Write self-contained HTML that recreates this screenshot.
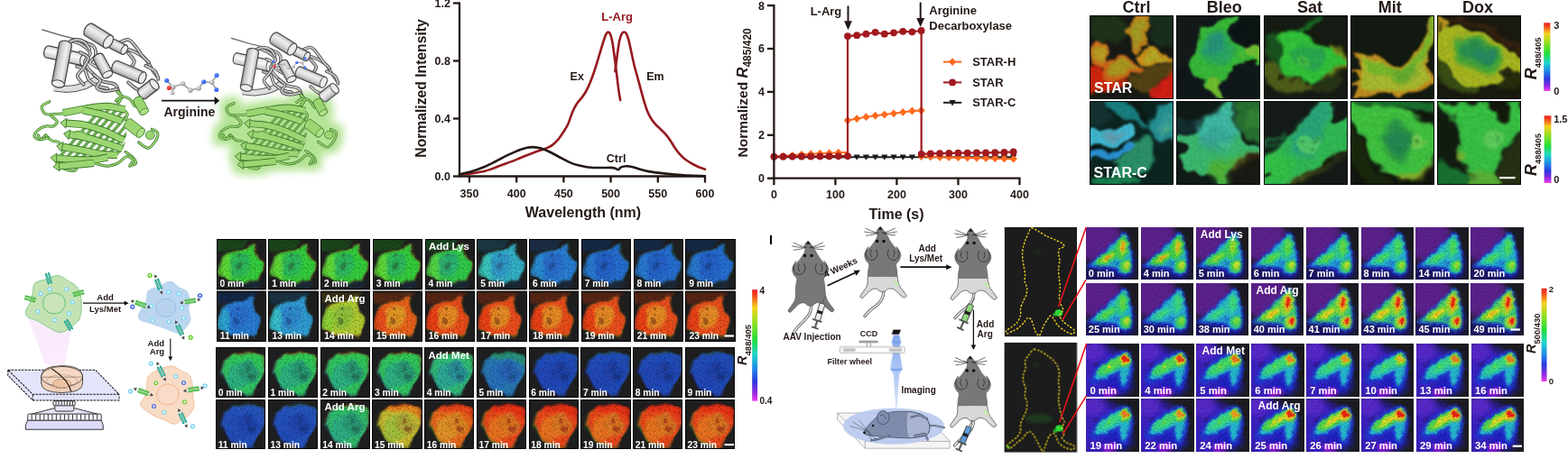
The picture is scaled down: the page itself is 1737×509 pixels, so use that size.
<!DOCTYPE html>
<html lang="en"><head><meta charset="utf-8"><title>STAR arginine sensor figure</title>
<style>
html,body{margin:0;padding:0;background:#fff;overflow:hidden}
svg{display:block}
body>svg{filter:blur(0.4px)}
text{font-family:"Liberation Sans",sans-serif;font-weight:bold}
</style></head><body>
<svg width="1737" height="509" viewBox="0 0 1737 509">
<defs>
<linearGradient id="gcyl" x1="0" y1="0" x2="0" y2="1"><stop offset="0" stop-color="#bcbcbc"/><stop offset="0.35" stop-color="#f0f0f0"/><stop offset="0.7" stop-color="#d2d2d2"/><stop offset="1" stop-color="#9c9c9c"/></linearGradient>
<linearGradient id="gcyl2" x1="0" y1="0" x2="0" y2="1"><stop offset="0" stop-color="#d8d8d8"/><stop offset="0.4" stop-color="#fafafa"/><stop offset="1" stop-color="#c4c4c4"/></linearGradient>
<radialGradient id="ag" cx="0.35" cy="0.3" r="0.8"><stop offset="0" stop-color="#e8e8e8"/><stop offset="1" stop-color="#8a8a8a"/></radialGradient>
<radialGradient id="ab" cx="0.35" cy="0.3" r="0.8"><stop offset="0" stop-color="#6a9aff"/><stop offset="1" stop-color="#1a4ae8"/></radialGradient>
<radialGradient id="ar" cx="0.35" cy="0.3" r="0.8"><stop offset="0" stop-color="#ff6a5a"/><stop offset="1" stop-color="#d80a0a"/></radialGradient>
<filter id="glow2" x="-20%" y="-25%" width="140%" height="150%"><feMorphology operator="dilate" radius="6" in="SourceAlpha" result="d"/><feGaussianBlur in="d" stdDeviation="4.5" result="b"/><feFlood flood-color="#b4e394" result="c"/><feComposite in="c" in2="b" operator="in"/></filter>
<g id="protG"><g transform="translate(20 10) scale(0.37)">
<path d="M72 62 L132 80 L205 97" fill="none" stroke="#5c5c5c" stroke-width="3.4" stroke-linecap="round"/>
<g transform="translate(88 128) rotate(12.53)"><rect x="-10.08" y="-18" width="130.79" height="36" rx="10.08" ry="18" fill="url(#gcyl2)" stroke="#4a4a4a" stroke-width="3.6"/><ellipse cx="110.63" cy="0" rx="10.08" ry="18" fill="#ececec" stroke="#4a4a4a" stroke-width="2.88"/></g>
<path d="M108 236 C115 236.67 134.67 241 150 240 C165.33 239 186.33 234.67 200 230 C213.67 225.33 226.67 215 232 212" fill="none" stroke="#5c5c5c" stroke-width="22" stroke-linecap="butt" stroke-linejoin="round"/><path d="M108 236 C115 236.67 134.67 241 150 240 C165.33 239 186.33 234.67 200 230 C213.67 225.33 226.67 215 232 212" fill="none" stroke="#dedede" stroke-width="16" stroke-linecap="butt" stroke-linejoin="round"/>
<path d="M160 95 C165.33 97.17 182.67 101.83 192 108 C201.33 114.17 214.67 123.33 216 132 C217.33 140.67 199 150 200 160 C201 170 213.33 182.67 222 192 C230.67 201.33 240.67 210.33 252 216 C263.33 221.67 281.67 220.33 290 226 C298.33 231.67 300 246 302 250" fill="none" stroke="#4a4a4a" stroke-width="10.5" stroke-linecap="round" stroke-linejoin="round"/><path d="M160 95 C165.33 97.17 182.67 101.83 192 108 C201.33 114.17 214.67 123.33 216 132 C217.33 140.67 199 150 200 160 C201 170 213.33 182.67 222 192 C230.67 201.33 240.67 210.33 252 216 C263.33 221.67 281.67 220.33 290 226 C298.33 231.67 300 246 302 250" fill="none" stroke="#c6c6c6" stroke-width="5.5" stroke-linecap="round" stroke-linejoin="round"/>
<path d="M176 172 C180 173.67 194 175.33 200 182 C206 188.67 205 203.67 212 212 C219 220.33 232.67 227.67 242 232 C251.33 236.33 263.67 237 268 238" fill="none" stroke="#4a4a4a" stroke-width="10.5" stroke-linecap="round" stroke-linejoin="round"/><path d="M176 172 C180 173.67 194 175.33 200 182 C206 188.67 205 203.67 212 212 C219 220.33 232.67 227.67 242 232 C251.33 236.33 263.67 237 268 238" fill="none" stroke="#c6c6c6" stroke-width="5.5" stroke-linecap="round" stroke-linejoin="round"/>
<path d="M320 118 C325.33 120 341.67 124.67 352 130 C362.33 135.33 373.67 141.33 382 150 C390.33 158.67 396 173 402 182 C408 191 415.33 200.33 418 204" fill="none" stroke="#4a4a4a" stroke-width="10.5" stroke-linecap="round" stroke-linejoin="round"/><path d="M320 118 C325.33 120 341.67 124.67 352 130 C362.33 135.33 373.67 141.33 382 150 C390.33 158.67 396 173 402 182 C408 191 415.33 200.33 418 204" fill="none" stroke="#c6c6c6" stroke-width="5.5" stroke-linecap="round" stroke-linejoin="round"/>
<path d="M300 102 C305 100.33 321.33 90.33 330 92 C338.67 93.67 345 104 352 112 C359 120 365.33 132 372 140 C378.67 148 388.67 156.67 392 160" fill="none" stroke="#4a4a4a" stroke-width="10.5" stroke-linecap="round" stroke-linejoin="round"/><path d="M300 102 C305 100.33 321.33 90.33 330 92 C338.67 93.67 345 104 352 112 C359 120 365.33 132 372 140 C378.67 148 388.67 156.67 392 160" fill="none" stroke="#c6c6c6" stroke-width="5.5" stroke-linecap="round" stroke-linejoin="round"/>
<path d="M196 100 C201 102 220 105.33 226 112 C232 118.67 233.67 132 232 140 C230.33 148 214.67 154 216 160 C217.33 166 236 173.33 240 176" fill="none" stroke="#4a4a4a" stroke-width="10.5" stroke-linecap="round" stroke-linejoin="round"/><path d="M196 100 C201 102 220 105.33 226 112 C232 118.67 233.67 132 232 140 C230.33 148 214.67 154 216 160 C217.33 166 236 173.33 240 176" fill="none" stroke="#c6c6c6" stroke-width="5.5" stroke-linecap="round" stroke-linejoin="round"/>
<path d="M330 220 C333.67 223 345 233.67 352 238 C359 242.33 368.67 244.67 372 246" fill="none" stroke="#4a4a4a" stroke-width="10.5" stroke-linecap="round" stroke-linejoin="round"/><path d="M330 220 C333.67 223 345 233.67 352 238 C359 242.33 368.67 244.67 372 246" fill="none" stroke="#c6c6c6" stroke-width="5.5" stroke-linecap="round" stroke-linejoin="round"/>
<path d="M150 100 C154.33 98.67 167.67 92 176 92 C184.33 92 193.67 95.33 200 100 C206.33 104.67 211.67 116.67 214 120" fill="none" stroke="#4a4a4a" stroke-width="10.5" stroke-linecap="round" stroke-linejoin="round"/><path d="M150 100 C154.33 98.67 167.67 92 176 92 C184.33 92 193.67 95.33 200 100 C206.33 104.67 211.67 116.67 214 120" fill="none" stroke="#c6c6c6" stroke-width="5.5" stroke-linecap="round" stroke-linejoin="round"/>
<path d="M226 196 C229.33 199 244.33 207.33 246 214 C247.67 220.67 233.33 230.67 236 236 C238.67 241.33 252 245.33 262 246 C272 246.67 290.33 241 296 240" fill="none" stroke="#4a4a4a" stroke-width="10.5" stroke-linecap="round" stroke-linejoin="round"/><path d="M226 196 C229.33 199 244.33 207.33 246 214 C247.67 220.67 233.33 230.67 236 236 C238.67 241.33 252 245.33 262 246 C272 246.67 290.33 241 296 240" fill="none" stroke="#c6c6c6" stroke-width="5.5" stroke-linecap="round" stroke-linejoin="round"/>
<path d="M186 130 C190 132.67 208.33 138.33 210 146 C211.67 153.67 201.33 167 196 176 C190.67 185 178 191.67 178 200 C178 208.33 193 221.67 196 226" fill="none" stroke="#4a4a4a" stroke-width="10.5" stroke-linecap="round" stroke-linejoin="round"/><path d="M186 130 C190 132.67 208.33 138.33 210 146 C211.67 153.67 201.33 167 196 176 C190.67 185 178 191.67 178 200 C178 208.33 193 221.67 196 226" fill="none" stroke="#c6c6c6" stroke-width="5.5" stroke-linecap="round" stroke-linejoin="round"/>
<path d="M330 132 C333 136 346.67 148.67 348 156 C349.33 163.33 339.67 172.67 338 176" fill="none" stroke="#4a4a4a" stroke-width="10.5" stroke-linecap="round" stroke-linejoin="round"/><path d="M330 132 C333 136 346.67 148.67 348 156 C349.33 163.33 339.67 172.67 338 176" fill="none" stroke="#c6c6c6" stroke-width="5.5" stroke-linecap="round" stroke-linejoin="round"/>
<path d="M382 170 C386.67 172.67 403.67 179.33 410 186 C416.33 192.67 418.33 206 420 210" fill="none" stroke="#4a4a4a" stroke-width="10.5" stroke-linecap="round" stroke-linejoin="round"/><path d="M382 170 C386.67 172.67 403.67 179.33 410 186 C416.33 192.67 418.33 206 420 210" fill="none" stroke="#c6c6c6" stroke-width="5.5" stroke-linecap="round" stroke-linejoin="round"/>
<path d="M298 248 C300 250.33 309.67 256.67 310 262 C310.33 267.33 301.67 277 300 280" fill="none" stroke="#3a772a" stroke-width="10.5" stroke-linecap="round" stroke-linejoin="round"/><path d="M298 248 C300 250.33 309.67 256.67 310 262 C310.33 267.33 301.67 277 300 280" fill="none" stroke="#9cd672" stroke-width="5.5" stroke-linecap="round" stroke-linejoin="round"/>
<g transform="translate(142 106) rotate(100.56)"><rect x="-10.64" y="-19" width="141.31" height="38" rx="10.64" ry="19" fill="url(#gcyl)" stroke="#4a4a4a" stroke-width="3.6"/><ellipse cx="120.03" cy="0" rx="10.64" ry="19" fill="#ececec" stroke="#4a4a4a" stroke-width="2.88"/></g>
<g transform="translate(240 144) rotate(61.7)"><rect x="-8.96" y="-16" width="76.98" height="32" rx="8.96" ry="16" fill="url(#gcyl)" stroke="#4a4a4a" stroke-width="3.6"/><ellipse cx="59.06" cy="0" rx="8.96" ry="16" fill="#ececec" stroke="#4a4a4a" stroke-width="2.88"/></g>
<g transform="translate(292 172) rotate(23.03)"><rect x="-10.08" y="-18" width="107.09" height="36" rx="10.08" ry="18" fill="url(#gcyl)" stroke="#4a4a4a" stroke-width="3.6"/><ellipse cx="86.93" cy="0" rx="10.08" ry="18" fill="#ececec" stroke="#4a4a4a" stroke-width="2.88"/></g>
<g transform="translate(282 104) rotate(26.57)"><rect x="-8.4" y="-15" width="57.05" height="30" rx="8.4" ry="15" fill="url(#gcyl)" stroke="#4a4a4a" stroke-width="3.6"/><ellipse cx="40.25" cy="0" rx="8.4" ry="15" fill="#ececec" stroke="#4a4a4a" stroke-width="2.88"/></g>
<g transform="translate(212 62) rotate(31.83)"><rect x="-11.76" y="-21" width="91.78" height="42" rx="11.76" ry="21" fill="url(#gcyl)" stroke="#4a4a4a" stroke-width="3.6"/><ellipse cx="68.26" cy="0" rx="11.76" ry="21" fill="#ececec" stroke="#4a4a4a" stroke-width="2.88"/></g>
<g transform="translate(372 254) rotate(-37.87)"><rect x="-10.08" y="-18" width="65.77" height="36" rx="10.08" ry="18" fill="url(#gcyl)" stroke="#4a4a4a" stroke-width="3.6"/><ellipse cx="45.61" cy="0" rx="10.08" ry="18" fill="#ececec" stroke="#4a4a4a" stroke-width="2.88"/></g>
</g></g>
<g id="protB"><g transform="translate(50 105) scale(0.18)">
<clipPath id="barrel"><path d="M120 120 C142.5 103.33 206.67 88.33 250 80 C293.33 71.67 341.67 67.5 380 70 C418.33 72.5 460 78.33 480 95 C500 111.67 496.67 142.5 500 170 C503.33 197.5 503.33 233.33 500 260 C496.67 286.67 490 310 480 330 C470 350 456.67 368.33 440 380 C423.33 391.67 403.33 393.33 380 400 C356.67 406.67 330 415 300 420 C270 425 233.33 430 200 430 C166.67 430 123.33 428.33 100 420 C76.67 411.67 61.67 396.67 60 380 C58.33 363.33 78.33 341.67 90 320 C101.67 298.33 125.83 273.33 130 250 C134.17 226.67 116.67 201.67 115 180 C113.33 158.33 97.5 136.67 120 120Z"/></clipPath>
<g clip-path="url(#barrel)">
<path d="M40 440 L370 60" stroke="#6eaa54" stroke-width="20" fill="none"/>
<path d="M88 440 L418 60" stroke="#6eaa54" stroke-width="20" fill="none"/>
<path d="M136 440 L466 60" stroke="#6eaa54" stroke-width="20" fill="none"/>
<path d="M184 440 L514 60" stroke="#6eaa54" stroke-width="20" fill="none"/>
<path d="M232 440 L562 60" stroke="#6eaa54" stroke-width="20" fill="none"/>
<path d="M280 440 L610 60" stroke="#6eaa54" stroke-width="20" fill="none"/>
<path d="M328 440 L658 60" stroke="#6eaa54" stroke-width="20" fill="none"/>
<path d="M376 440 L706 60" stroke="#6eaa54" stroke-width="20" fill="none"/>
<path d="M424 440 L754 60" stroke="#6eaa54" stroke-width="20" fill="none"/>
<path d="M472 440 L802 60" stroke="#6eaa54" stroke-width="20" fill="none"/>
<path d="M520 440 L850 60" stroke="#6eaa54" stroke-width="20" fill="none"/>
</g>
<path d="M26.93 42.66 C19.14 47.52 -15.89 59.2 -19.78 71.85 C-23.67 84.5 -13.94 110.78 3.57 118.56 C21.09 126.34 60.01 120.51 85.31 118.56 C110.62 116.61 143.7 108.83 155.38 106.88" fill="none" stroke="#3a772a" stroke-width="17" stroke-linecap="round" stroke-linejoin="round"/><path d="M26.93 42.66 C19.14 47.52 -15.89 59.2 -19.78 71.85 C-23.67 84.5 -13.94 110.78 3.57 118.56 C21.09 126.34 60.01 120.51 85.31 118.56 C110.62 116.61 143.7 108.83 155.38 106.88" fill="none" stroke="#9cd672" stroke-width="9" stroke-linecap="round" stroke-linejoin="round"/>
<path d="M36.27 130.24 C42.5 136.08 71.3 154.56 73.64 165.27 C75.97 175.97 61.96 189.6 50.28 194.46 C38.61 199.33 19.14 190.57 3.57 194.46 C-12 198.35 -31.46 207.11 -43.14 217.82 C-54.81 228.52 -68.44 248.96 -66.49 258.69 C-64.54 268.42 -43.14 277.76 -31.46 276.2 C-19.78 274.65 -2.27 253.82 3.57 249.35" fill="none" stroke="#3a772a" stroke-width="17" stroke-linecap="round" stroke-linejoin="round"/><path d="M36.27 130.24 C42.5 136.08 71.3 154.56 73.64 165.27 C75.97 175.97 61.96 189.6 50.28 194.46 C38.61 199.33 19.14 190.57 3.57 194.46 C-12 198.35 -31.46 207.11 -43.14 217.82 C-54.81 228.52 -68.44 248.96 -66.49 258.69 C-64.54 268.42 -43.14 277.76 -31.46 276.2 C-19.78 274.65 -2.27 253.82 3.57 249.35" fill="none" stroke="#9cd672" stroke-width="9" stroke-linecap="round" stroke-linejoin="round"/>
<path d="M3.57 249.35 C9.41 254.8 24.98 274.65 38.61 282.04 C52.23 289.44 74.61 285.93 85.31 293.72 C96.02 301.5 99.91 322.91 102.83 328.75" fill="none" stroke="#3a772a" stroke-width="17" stroke-linecap="round" stroke-linejoin="round"/><path d="M3.57 249.35 C9.41 254.8 24.98 274.65 38.61 282.04 C52.23 289.44 74.61 285.93 85.31 293.72 C96.02 301.5 99.91 322.91 102.83 328.75" fill="none" stroke="#9cd672" stroke-width="9" stroke-linecap="round" stroke-linejoin="round"/>
<path d="M-43.14 249.35 C-40.22 253.82 -35.35 273.67 -25.62 276.2 C-15.89 278.73 8.44 266.47 15.25 264.53" fill="none" stroke="#3a772a" stroke-width="17" stroke-linecap="round" stroke-linejoin="round"/><path d="M-43.14 249.35 C-40.22 253.82 -35.35 273.67 -25.62 276.2 C-15.89 278.73 8.44 266.47 15.25 264.53" fill="none" stroke="#9cd672" stroke-width="9" stroke-linecap="round" stroke-linejoin="round"/>
<path d="M61.96 377.8 C63.91 385.19 63.91 408.94 73.64 422.17 C83.37 435.4 102.83 449.42 120.35 457.2 C137.86 464.99 166.67 470.83 178.73 468.88 C190.8 466.93 196.64 451.36 192.75 445.53 C188.85 439.69 161.61 435.79 155.38 433.85" fill="none" stroke="#3a772a" stroke-width="17" stroke-linecap="round" stroke-linejoin="round"/><path d="M61.96 377.8 C63.91 385.19 63.91 408.94 73.64 422.17 C83.37 435.4 102.83 449.42 120.35 457.2 C137.86 464.99 166.67 470.83 178.73 468.88 C190.8 466.93 196.64 451.36 192.75 445.53 C188.85 439.69 161.61 435.79 155.38 433.85" fill="none" stroke="#9cd672" stroke-width="9" stroke-linecap="round" stroke-linejoin="round"/>
<path d="M494.02 352.11 C501.81 357.95 530.03 375.46 540.73 387.14 C551.43 398.82 559.22 414.39 558.25 422.17 C557.27 429.96 538.78 431.9 534.89 433.85" fill="none" stroke="#3a772a" stroke-width="17" stroke-linecap="round" stroke-linejoin="round"/><path d="M494.02 352.11 C501.81 357.95 530.03 375.46 540.73 387.14 C551.43 398.82 559.22 414.39 558.25 422.17 C557.27 429.96 538.78 431.9 534.89 433.85" fill="none" stroke="#9cd672" stroke-width="9" stroke-linecap="round" stroke-linejoin="round"/>
<path d="M575.76 293.72 C585.49 299.56 616.63 330.7 634.15 328.75 C651.66 326.81 671.13 297.61 680.86 282.04 C690.59 266.47 696.43 247.01 692.54 235.33 C688.64 223.66 663.34 215.87 657.5 211.98" fill="none" stroke="#3a772a" stroke-width="17" stroke-linecap="round" stroke-linejoin="round"/><path d="M575.76 293.72 C585.49 299.56 616.63 330.7 634.15 328.75 C651.66 326.81 671.13 297.61 680.86 282.04 C690.59 266.47 696.43 247.01 692.54 235.33 C688.64 223.66 663.34 215.87 657.5 211.98" fill="none" stroke="#9cd672" stroke-width="9" stroke-linecap="round" stroke-linejoin="round"/>
<path d="M435.63 36.82 C441.47 32.93 457.04 15.41 470.67 13.46 C484.29 11.52 503.75 15.41 517.38 25.14 C531 34.87 546.57 64.07 552.41 71.85" fill="none" stroke="#3a772a" stroke-width="17" stroke-linecap="round" stroke-linejoin="round"/><path d="M435.63 36.82 C441.47 32.93 457.04 15.41 470.67 13.46 C484.29 11.52 503.75 15.41 517.38 25.14 C531 34.87 546.57 64.07 552.41 71.85" fill="none" stroke="#9cd672" stroke-width="9" stroke-linecap="round" stroke-linejoin="round"/>
<path d="M470.67 83.53 C476.5 89.37 501.81 106.88 505.7 118.56 C509.59 130.24 495.97 147.75 494.02 153.59" fill="none" stroke="#3a772a" stroke-width="17" stroke-linecap="round" stroke-linejoin="round"/><path d="M470.67 83.53 C476.5 89.37 501.81 106.88 505.7 118.56 C509.59 130.24 495.97 147.75 494.02 153.59" fill="none" stroke="#9cd672" stroke-width="9" stroke-linecap="round" stroke-linejoin="round"/>
<path d="M300 420 C313.33 423.33 355 440 380 440 C405 440 430 430 450 420 C470 410 485 383.33 500 380 C515 376.67 536.67 390 540 400 C543.33 410 523.33 433.33 520 440" fill="none" stroke="#3a772a" stroke-width="17" stroke-linecap="round" stroke-linejoin="round"/><path d="M300 420 C313.33 423.33 355 440 380 440 C405 440 430 430 450 420 C470 410 485 383.33 500 380 C515 376.67 536.67 390 540 400 C543.33 410 523.33 433.33 520 440" fill="none" stroke="#9cd672" stroke-width="9" stroke-linecap="round" stroke-linejoin="round"/>
<path d="M110 112 C133.33 107.67 205 92.67 250 86 C295 79.33 339.67 71 380 72 C420.33 73 473.33 88.67 492 92" fill="none" stroke="#3a772a" stroke-width="46" stroke-linecap="butt" stroke-linejoin="round"/><path d="M110 112 C133.33 107.67 205 92.67 250 86 C295 79.33 339.67 71 380 72 C420.33 73 473.33 88.67 492 92" fill="none" stroke="#9cd672" stroke-width="36" stroke-linecap="butt" stroke-linejoin="round"/>
<path d="M232 96 C251.67 100.33 310.33 111 350 122 C389.67 133 450 155.33 470 162" fill="none" stroke="#3a772a" stroke-width="46" stroke-linecap="butt" stroke-linejoin="round"/><path d="M232 96 C251.67 100.33 310.33 111 350 122 C389.67 133 450 155.33 470 162" fill="none" stroke="#9cd672" stroke-width="36" stroke-linecap="butt" stroke-linejoin="round"/>
<path d="M130 176 C150 178 210 179.5 250 188 C290 196.5 330.83 211.33 370 227 C409.17 242.67 465.83 272.83 485 282" fill="none" stroke="#3a772a" stroke-width="46" stroke-linecap="butt" stroke-linejoin="round"/><path d="M130 176 C150 178 210 179.5 250 188 C290 196.5 330.83 211.33 370 227 C409.17 242.67 465.83 272.83 485 282" fill="none" stroke="#9cd672" stroke-width="36" stroke-linecap="butt" stroke-linejoin="round"/><polygon points="94.18,172.42 133.04,145.55 126.96,206.45" fill="#9cd672" stroke="#3a772a" stroke-width="5" stroke-linejoin="round"/>
<path d="M150 246 C168.33 249.33 221.67 256.67 260 266 C298.33 275.33 344.17 290.83 380 302 C415.83 313.17 459.17 327.83 475 333" fill="none" stroke="#3a772a" stroke-width="46" stroke-linecap="butt" stroke-linejoin="round"/><path d="M150 246 C168.33 249.33 221.67 256.67 260 266 C298.33 275.33 344.17 290.83 380 302 C415.83 313.17 459.17 327.83 475 333" fill="none" stroke="#9cd672" stroke-width="36" stroke-linecap="butt" stroke-linejoin="round"/><polygon points="114.58,239.56 155.47,215.89 144.53,276.11" fill="#9cd672" stroke="#3a772a" stroke-width="5" stroke-linejoin="round"/>
<path d="M106 321 C125 324.33 181 333.5 220 341 C259 348.5 302.5 360.83 340 366 C377.5 371.17 427.5 371 445 372" fill="none" stroke="#3a772a" stroke-width="46" stroke-linecap="butt" stroke-linejoin="round"/><path d="M106 321 C125 324.33 181 333.5 220 341 C259 348.5 302.5 360.83 340 366 C377.5 371.17 427.5 371 445 372" fill="none" stroke="#9cd672" stroke-width="36" stroke-linecap="butt" stroke-linejoin="round"/><polygon points="70.54,314.78 111.29,290.86 100.71,351.14" fill="#9cd672" stroke="#3a772a" stroke-width="5" stroke-linejoin="round"/>
<path d="M70 391 C88.33 392.67 141.67 399.33 180 401 C218.33 402.67 265.83 403.5 300 401 C334.17 398.5 370.83 388.5 385 386" fill="none" stroke="#3a772a" stroke-width="46" stroke-linecap="butt" stroke-linejoin="round"/><path d="M70 391 C88.33 392.67 141.67 399.33 180 401 C218.33 402.67 265.83 403.5 300 401 C334.17 398.5 370.83 388.5 385 386" fill="none" stroke="#9cd672" stroke-width="36" stroke-linecap="butt" stroke-linejoin="round"/><polygon points="34.15,387.74 72.77,360.53 67.23,421.47" fill="#9cd672" stroke="#3a772a" stroke-width="5" stroke-linejoin="round"/>
<path d="M86 441 C105 439.33 164.33 434.33 200 431 C235.67 427.67 283.33 422.67 300 421" fill="none" stroke="#3a772a" stroke-width="46" stroke-linecap="butt" stroke-linejoin="round"/><path d="M86 441 C105 439.33 164.33 434.33 200 431 C235.67 427.67 283.33 422.67 300 421" fill="none" stroke="#9cd672" stroke-width="36" stroke-linecap="butt" stroke-linejoin="round"/><polygon points="50.14,444.15 83.33,410.52 88.67,471.48" fill="#9cd672" stroke="#3a772a" stroke-width="5" stroke-linejoin="round"/>
<ellipse cx="220" cy="245" rx="50" ry="22" fill="#9cd672" transform="rotate(15 220 245)"/><path d="M175 232 Q220 215 265 250" fill="none" stroke="#3a772a" stroke-width="4"/>
<g transform="translate(569.92 30.98) rotate(62.35)"><rect x="-16.24" y="-29" width="115.53" height="58" rx="16.24" ry="29" fill="#9cd672" stroke="#3a772a" stroke-width="4.5"/><ellipse cx="83.05" cy="0" rx="16.24" ry="29" fill="#b0e28a" stroke="#3a772a" stroke-width="3.6"/></g>
<g transform="translate(511.54 176.95) rotate(37.57)"><rect x="-18.48" y="-33" width="132.72" height="66" rx="18.48" ry="33" fill="#9cd672" stroke="#3a772a" stroke-width="4.5"/><ellipse cx="95.76" cy="0" rx="18.48" ry="33" fill="#b0e28a" stroke="#3a772a" stroke-width="3.6"/></g>
<ellipse cx="645.83" cy="249.35" rx="28" ry="26" fill="#9cd672"/><ellipse cx="645.83" cy="249.35" rx="28" ry="26" fill="none" stroke="#3a772a" stroke-width="4.5"/>
</g></g>
<filter id="b1" x="-50%" y="-50%" width="200%" height="200%"><feGaussianBlur stdDeviation="1"/></filter>
<filter id="b2" x="-50%" y="-50%" width="200%" height="200%"><feGaussianBlur stdDeviation="2"/></filter>
<filter id="b3" x="-50%" y="-50%" width="200%" height="200%"><feGaussianBlur stdDeviation="3"/></filter>
<filter id="b4" x="-50%" y="-50%" width="200%" height="200%"><feGaussianBlur stdDeviation="4"/></filter>
<filter id="b6" x="-50%" y="-50%" width="200%" height="200%"><feGaussianBlur stdDeviation="6"/></filter>
<filter id="b8" x="-50%" y="-50%" width="200%" height="200%"><feGaussianBlur stdDeviation="8"/></filter>
<filter id="b12" x="-50%" y="-50%" width="200%" height="200%"><feGaussianBlur stdDeviation="12"/></filter>
<filter id="b16" x="-50%" y="-50%" width="200%" height="200%"><feGaussianBlur stdDeviation="16"/></filter>
<filter id="b24" x="-50%" y="-50%" width="200%" height="200%"><feGaussianBlur stdDeviation="24"/></filter>
<filter id="grain" x="0" y="0" width="100%" height="100%"><feTurbulence type="fractalNoise" baseFrequency="0.55" numOctaves="2" seed="7"/><feColorMatrix type="matrix" values="0 0 0 0 0  0 0 0 0 0  0 0 0 0 0  0 2.6 0 0 -1.0"/></filter>
<filter id="grainc" x="0" y="0" width="100%" height="100%"><feTurbulence type="fractalNoise" baseFrequency="0.45" numOctaves="2" seed="11"/><feColorMatrix type="matrix" values="0 0 0 0 0  0 0 0 0 0.35  3 0 0 0 -0.9  0 0 2.4 0 -0.95"/></filter>
<filter id="grainf" x="0" y="0" width="100%" height="100%"><feTurbulence type="fractalNoise" baseFrequency="0.9" numOctaves="1" seed="5"/><feColorMatrix type="matrix" values="0 0 0 0 0  0 0 0 0 0  0 0 0 0 0  0 2.2 0 0 -0.85"/></filter>
<filter id="fxA" x="-15%" y="-15%" width="130%" height="130%" color-interpolation-filters="sRGB"><feTurbulence type="fractalNoise" baseFrequency="0.06" numOctaves="2" seed="3" result="t1"/><feDisplacementMap in="SourceGraphic" in2="t1" scale="14" xChannelSelector="R" yChannelSelector="G" result="d"/><feTurbulence type="fractalNoise" baseFrequency="0.6" numOctaves="2" seed="8" result="t2"/><feColorMatrix in="t2" type="matrix" values="0 0 0 0 0  0 0 0 0 0  0 0 0 0 0  0 0.9 0 0 -0.36" result="na"/><feComposite in="na" in2="d" operator="in" result="nb"/><feMerge result="m"><feMergeNode in="d"/><feMergeNode in="nb"/></feMerge><feGaussianBlur in="m" stdDeviation="0.8"/></filter>
<filter id="fxB" x="-15%" y="-15%" width="130%" height="130%" color-interpolation-filters="sRGB"><feTurbulence type="fractalNoise" baseFrequency="0.08" numOctaves="2" seed="3" result="t1"/><feDisplacementMap in="SourceGraphic" in2="t1" scale="7" xChannelSelector="R" yChannelSelector="G" result="d"/><feTurbulence type="fractalNoise" baseFrequency="0.6" numOctaves="2" seed="8" result="t2"/><feColorMatrix in="t2" type="matrix" values="0 0 0 0 0  0 0 0 0 0  0 0 0 0 0  0 0.8 0 0 -0.34" result="na"/><feComposite in="na" in2="d" operator="in" result="nb"/><feMerge result="m"><feMergeNode in="d"/><feMergeNode in="nb"/></feMerge><feGaussianBlur in="m" stdDeviation="0.7"/></filter>
<filter id="fxC" x="-15%" y="-15%" width="130%" height="130%" color-interpolation-filters="sRGB"><feTurbulence type="fractalNoise" baseFrequency="0.15" numOctaves="2" seed="3" result="t1"/><feDisplacementMap in="SourceGraphic" in2="t1" scale="5" xChannelSelector="R" yChannelSelector="G" result="d"/><feTurbulence type="fractalNoise" baseFrequency="0.7" numOctaves="2" seed="8" result="t2"/><feColorMatrix in="t2" type="matrix" values="0 0 0 0 0  0 0 0 0 0  0 0 0 0 0  0 0.7 0 0 -0.3" result="na"/><feComposite in="na" in2="d" operator="in" result="nb"/><feMerge result="m"><feMergeNode in="d"/><feMergeNode in="nb"/></feMerge><feGaussianBlur in="m" stdDeviation="0.6"/></filter>
<g id="lysA">
<g filter="url(#fxB)">
<g transform="scale(0.11788) translate(-16.97 -13.57)">
<g filter="url(#b12)">
<path d="M10 10 C58.33 -5 253 1.67 300 10 C347 18.33 300.33 45 292 60 C283.67 75 268.67 89.67 250 100 C231.33 110.33 205 116.67 180 122 C155 127.33 123.33 132 100 132 C76.67 132 55 127.33 40 122 C25 116.67 15 118.67 10 100 C5 81.33 -38.33 25 10 10Z" style="fill:var(--d)"/>
<path d="M250 430 C255 416.67 301.67 406.67 330 400 C358.33 393.33 401.67 385 420 390 C438.33 395 446.67 416.67 440 430 C433.33 443.33 403.33 461.67 380 470 C356.67 478.33 321.67 486.67 300 480 C278.33 473.33 245 443.33 250 430Z" fill="#1c3a5a" opacity="0.4"/>
</g>
<g filter="url(#b8)">
<path d="M67.08 329.41 C67.08 310.34 78 284.34 85.8 256.61 C93.6 228.87 102.96 182.07 113.88 163.01 C124.8 143.94 134.16 149.14 151.32 142.21 C168.48 135.27 196.56 128.34 216.84 121.41 C237.12 114.47 254.28 108.41 273 100.61 C291.72 92.81 311.22 82.93 329.16 74.61 C347.1 66.29 370.5 48.09 380.64 50.69 C390.78 53.29 386.1 74.95 390 90.21 C393.9 105.46 397.02 126.61 404.04 142.21 C411.06 157.81 422.76 169.94 432.12 183.81 C441.48 197.67 453.96 206.34 460.2 225.41 C466.44 244.47 472.68 277.41 469.56 298.21 C466.44 319.01 449.28 334.61 441.48 350.21 C433.68 365.81 432.12 384.53 422.76 391.81 C413.4 399.09 397.8 392.15 385.32 393.89 C372.84 395.62 360.36 397.01 347.88 402.21 C335.4 407.41 321.36 418.15 310.44 425.09 C299.52 432.02 294.84 447.27 282.36 443.81 C269.88 440.34 254.28 412.61 235.56 404.29 C216.84 395.97 188.76 397.35 170.04 393.89 C151.32 390.42 137.28 387.3 123.24 383.49 C109.2 379.67 95.16 380.02 85.8 371.01 C76.44 361.99 67.08 348.47 67.08 329.41Z" style="fill:var(--f)" opacity="0.8"/>
<path d="M71.5 330 C71.5 311.67 82 286.67 89.5 260 C97 233.33 106 188.33 116.5 170 C127 151.67 136 156.67 152.5 150 C169 143.33 196 136.67 215.5 130 C235 123.33 251.5 117.5 269.5 110 C287.5 102.5 306.25 93 323.5 85 C340.75 77 363.25 59.5 373 62 C382.75 64.5 378.25 85.33 382 100 C385.75 114.67 388.75 135 395.5 150 C402.25 165 413.5 176.67 422.5 190 C431.5 203.33 443.5 211.67 449.5 230 C455.5 248.33 461.5 280 458.5 300 C455.5 320 439 335 431.5 350 C424 365 422.5 383 413.5 390 C404.5 397 389.5 390.33 377.5 392 C365.5 393.67 353.5 395 341.5 400 C329.5 405 316 415.33 305.5 422 C295 428.67 290.5 443.33 278.5 440 C266.5 436.67 251.5 410 233.5 402 C215.5 394 188.5 395.33 170.5 392 C152.5 388.67 139 385.67 125.5 382 C112 378.33 98.5 378.67 89.5 370 C80.5 361.33 71.5 348.33 71.5 330Z" style="fill:var(--m)"/>
<path d="M40 335 C40 316.67 51.67 286.67 60 260 C68.33 233.33 76.67 191.67 90 175 C103.33 158.33 126.67 145.83 140 160 C153.33 174.17 166.67 223.33 170 260 C173.33 296.67 171.67 359.67 160 380 C148.33 400.33 116.67 383.67 100 382 C83.33 380.33 70 377.83 60 370 C50 362.17 40 353.33 40 335Z" style="fill:var(--l)" opacity="0.9"/>
</g>
<g filter="url(#b12)">
<ellipse cx="240" cy="255" rx="95" ry="110" style="fill:var(--n)" opacity="0.65" transform="rotate(10 240 255)"/>
</g>
<g filter="url(#b4)">
<ellipse cx="236" cy="272" rx="24" ry="36" style="fill:var(--k)" opacity="0.8" transform="rotate(8 236 272)"/>
<ellipse cx="235" cy="165" rx="16" ry="14" style="fill:var(--k)" opacity="0.7"/>
<ellipse cx="166" cy="240" rx="8" ry="8" style="fill:var(--k)" opacity="0.6"/>
<ellipse cx="242" cy="216" rx="8" ry="7" style="fill:var(--k)" opacity="0.6"/>
</g>
</g></g>

</g>
<g id="lysB">
<g filter="url(#fxB)">
<g transform="scale(0.11788) translate(-34 -8.5)">
<g filter="url(#b12)">
<path d="M36 10 C96.67 -3.33 340.17 3.33 400 10 C459.83 16.67 406.67 36.67 395 50 C383.33 63.33 359.17 78.33 330 90 C300.83 101.67 255 113.33 220 120 C185 126.67 146.67 130.83 120 130 C93.33 129.17 74 121.67 60 115 C46 108.33 40 107.5 36 90 C32 72.5 -24.67 23.33 36 10Z" style="fill:var(--d)"/>
</g>
<g filter="url(#b8)">
<path d="M61.69 343.98 C62.51 324.91 65.81 297.18 71.57 271.18 C77.33 245.18 88.86 208.78 96.27 187.98 C103.68 167.18 97.92 159.38 116.03 146.38 C134.14 133.38 173.66 121.24 204.95 109.98 C236.24 98.71 274.93 88.66 303.75 78.78 C332.57 68.9 363.03 46.36 377.85 50.7 C392.67 55.03 387.73 85.36 392.67 104.78 C397.61 124.19 400.9 141.18 407.49 167.18 C414.08 193.18 427.25 231.31 432.19 260.78 C437.13 290.24 440.42 318.84 437.13 343.98 C433.84 369.11 428.07 397.36 412.43 411.58 C396.79 425.79 367.97 427.52 343.27 429.26 C318.57 430.99 290.58 424.06 264.23 421.98 C237.88 419.9 211.54 420.24 185.19 416.78 C158.84 413.31 125.91 406.38 106.15 401.18 C86.39 395.98 74.04 395.11 66.63 385.58 C59.22 376.04 60.87 363.04 61.69 343.98Z" style="fill:var(--f)" opacity="0.7"/>
<path d="M72 338 C72.79 319.67 75.96 293 81.5 268 C87.04 243 98.12 208 105.25 188 C112.38 168 106.83 160.5 124.25 148 C141.67 135.5 179.67 123.83 209.75 113 C239.83 102.17 277.04 92.5 304.75 83 C332.46 73.5 361.75 51.83 376 56 C390.25 60.17 385.5 89.33 390.25 108 C395 126.67 398.17 143 404.5 168 C410.83 193 423.5 229.67 428.25 258 C433 286.33 436.17 313.83 433 338 C429.83 362.17 424.29 389.33 409.25 403 C394.21 416.67 366.5 418.33 342.75 420 C319 421.67 292.08 415 266.75 413 C241.42 411 216.08 411.33 190.75 408 C165.42 404.67 133.75 398 114.75 393 C95.75 388 83.88 387.17 76.75 378 C69.62 368.83 71.21 356.33 72 338Z" style="fill:var(--m)"/>
<path d="M55 335 C55.83 316.67 59.17 285 65 260 C70.83 235 77.5 201.67 90 185 C102.5 168.33 128.33 147.5 140 160 C151.67 172.5 158.33 223.33 160 260 C161.67 296.67 160 359.17 150 380 C140 400.83 115 386.67 100 385 C85 383.33 67.5 378.33 60 370 C52.5 361.67 54.17 353.33 55 335Z" style="fill:var(--l)" opacity="0.9"/>
</g>
<g filter="url(#b12)">
<ellipse cx="250" cy="250" rx="95" ry="110" style="fill:var(--n)" opacity="0.7" transform="rotate(10 250 250)"/>
</g>
<g filter="url(#b4)">
<ellipse cx="232" cy="280" rx="24" ry="36" style="fill:var(--k)" opacity="0.8" transform="rotate(8 232 280)"/>
<ellipse cx="235" cy="172" rx="16" ry="14" style="fill:var(--k)" opacity="0.7"/>
<ellipse cx="166" cy="240" rx="8" ry="8" style="fill:var(--k)" opacity="0.6"/>
<ellipse cx="238" cy="222" rx="8" ry="7" style="fill:var(--k)" opacity="0.6"/>
</g>
</g></g>

</g>
<g id="metA">
<g filter="url(#fxB)">
<g transform="scale(0.11788) translate(-11.03 -11.88)">
<g filter="url(#b8)">
<path d="M66.23 226.42 C67.86 205.26 83.32 185.73 90.65 167.83 C97.97 149.92 100.41 133.65 110.18 119 C119.94 104.35 132.96 90.52 149.24 79.94 C165.51 69.36 186.67 61.23 207.83 55.53 C228.98 49.83 253.4 45.76 276.18 45.76 C298.97 45.76 321.75 50.65 344.54 55.53 C367.32 60.41 393.36 68.55 412.89 75.06 C432.42 81.57 451.14 82.38 461.72 94.59 C472.3 106.8 474.74 129.58 476.36 148.3 C477.99 167.01 473.92 187.36 471.48 206.89 C469.04 226.42 466.6 249.2 461.72 265.48 C456.83 281.75 450.32 291.52 442.19 304.54 C434.05 317.56 422.66 328.95 412.89 343.6 C403.13 358.24 394.99 376.15 383.6 392.42 C372.2 408.7 357.56 429.04 344.54 441.25 C331.52 453.45 320.12 465.66 305.48 465.66 C290.83 465.66 272.93 450.2 256.65 441.25 C240.38 432.3 224.1 421.72 207.83 411.95 C191.55 402.19 173.65 394.05 159 382.66 C144.35 371.26 132.96 358.24 119.94 343.6 C106.92 328.95 89.83 314.3 80.88 294.77 C71.93 275.24 64.61 247.57 66.23 226.42Z" style="fill:var(--f)" opacity="0.8"/>
<path d="M63.38 240.75 C64.97 219.99 80.14 200.83 87.32 183.27 C94.51 165.71 96.9 149.75 106.48 135.38 C116.06 121.01 128.83 107.44 144.8 97.06 C160.76 86.68 181.52 78.7 202.27 73.11 C223.03 67.53 246.97 63.53 269.33 63.53 C291.68 63.53 314.03 68.32 336.38 73.11 C358.73 77.9 384.27 85.89 403.43 92.27 C422.59 98.66 440.95 99.46 451.33 111.43 C461.7 123.4 464.1 145.75 465.69 164.11 C467.29 182.47 463.3 202.43 460.91 221.59 C458.51 240.75 456.12 263.1 451.33 279.06 C446.54 295.03 440.15 304.61 432.17 317.38 C424.19 330.15 413.01 341.33 403.43 355.69 C393.85 370.06 385.87 387.62 374.69 403.59 C363.52 419.55 349.15 439.51 336.38 451.48 C323.61 463.46 312.43 475.43 298.06 475.43 C283.69 475.43 266.13 460.27 250.17 451.48 C234.2 442.7 218.24 432.33 202.27 422.75 C186.31 413.17 168.75 405.19 154.38 394.01 C140.01 382.83 128.83 370.06 116.06 355.69 C103.29 341.33 86.53 326.96 77.75 307.8 C68.96 288.64 61.78 261.5 63.38 240.75Z" style="fill:var(--d)" opacity="0.8"/>
<path d="M74.59 235.24 C76.14 215.09 90.87 196.49 97.84 179.44 C104.82 162.39 107.14 146.89 116.44 132.94 C125.74 118.99 138.14 105.82 153.64 95.74 C169.14 85.67 189.29 77.92 209.44 72.49 C229.59 67.07 252.84 63.19 274.54 63.19 C296.24 63.19 317.94 67.84 339.64 72.49 C361.34 77.14 386.14 84.89 404.74 91.09 C423.34 97.29 441.17 98.07 451.24 109.69 C461.32 121.32 463.64 143.02 465.19 160.84 C466.74 178.67 462.87 198.04 460.54 216.64 C458.22 235.24 455.89 256.94 451.24 272.44 C446.59 287.94 440.39 297.24 432.64 309.64 C424.89 322.04 414.04 332.89 404.74 346.84 C395.44 360.79 387.69 377.84 376.84 393.34 C365.99 408.84 352.04 428.22 339.64 439.84 C327.24 451.47 316.39 463.09 302.44 463.09 C288.49 463.09 271.44 448.37 255.94 439.84 C240.44 431.32 224.94 421.24 209.44 411.94 C193.94 402.64 176.89 394.89 162.94 384.04 C148.99 373.19 138.14 360.79 125.74 346.84 C113.34 332.89 97.07 318.94 88.54 300.34 C80.02 281.74 73.04 255.39 74.59 235.24Z" style="fill:var(--m)"/>
<path d="M120 110 C120 100 170 78 200 70 C230 62 263.33 59.5 300 62 C336.67 64.5 393 77 420 85 C447 93 454 95.83 462 110 C470 124.17 478.33 165 468 170 C457.67 175 428 148.33 400 140 C372 131.67 333.33 121.67 300 120 C266.67 118.33 230 131.67 200 130 C170 128.33 120 120 120 110Z" style="fill:var(--t)" opacity="0.9"/>
</g>
<g filter="url(#b12)">
<ellipse cx="230" cy="280" rx="110" ry="120" style="fill:var(--l)" opacity="0.75" transform="rotate(30 230 280)"/>
<ellipse cx="322" cy="242" rx="85" ry="100" style="fill:var(--n)" opacity="0.9" transform="rotate(-20 322 242)"/>
</g>
<g filter="url(#b4)">
<ellipse cx="312" cy="216" rx="24" ry="22" style="fill:var(--k)" opacity="0.7"/>
<ellipse cx="346" cy="282" rx="26" ry="26" style="fill:var(--k)" opacity="0.75"/>
<ellipse cx="240" cy="120" rx="7" ry="7" style="fill:var(--k)" opacity="0.5"/>
<ellipse cx="170" cy="165" rx="6" ry="6" style="fill:var(--k)" opacity="0.5"/>
</g>
</g></g>

</g>
<g id="mlys">
<g filter="url(#fxC)">
<g transform="scale(0.12579) translate(-18 -15)">
<g filter="url(#b24)">
<ellipse cx="100" cy="100" rx="220" ry="220" fill="#5e2090"/>
<ellipse cx="210" cy="440" rx="240" ry="90" fill="#1e1666"/>
<ellipse cx="300" cy="330" rx="150" ry="120" fill="#1c2090" opacity="0.9"/>
<ellipse cx="500" cy="200" rx="70" ry="260" fill="#1e1e22"/>
<ellipse cx="430" cy="20" rx="80" ry="50" fill="#1e1e26"/>
</g>
<g filter="url(#b12)">
<path d="M350 55 C362.83 62 384.67 87.5 397 120 C409.33 152.5 418.5 206.67 424 250 C429.5 293.33 435.33 349 430 380 C424.67 411 408.67 426.67 392 436 C375.33 445.33 348.67 442.83 330 436 C311.33 429.17 301.67 404.67 280 395 C258.33 385.33 230 380.83 200 378 C170 375.17 127.33 380 100 378 C72.67 376 37.67 379 36 366 C34.33 353 66 324.33 90 300 C114 275.67 150 247 180 220 C210 193 246.67 161.67 270 138 C293.33 114.33 306.67 91.83 320 78 C333.33 64.17 337.17 48 350 55Z" style="fill:var(--h)"/>
</g>
<g filter="url(#b8)">
<path d="M350 80 C360.5 85.33 375.33 101.67 385 130 C394.67 158.33 403.5 210 408 250 C412.5 290 415.83 342 412 370 C408.17 398 397.83 410 385 418 C372.17 426 350 425.17 335 418 C320 410.83 315.83 385.5 295 375 C274.17 364.5 239.17 357.83 210 355 C180.83 352.17 143.33 358.83 120 358 C96.67 357.17 71.67 359.67 70 350 C68.33 340.33 90 319.67 110 300 C130 280.33 162.5 256.17 190 232 C217.5 207.83 253 177.33 275 155 C297 132.67 309.5 110.5 322 98 C334.5 85.5 339.5 74.67 350 80Z" style="fill:var(--m)"/>
<path d="M250 330 C251.67 324.67 285 323 300 318 C315 313 335 298 340 300 C345 302 338.33 321.67 330 330 C321.67 338.33 303.33 350 290 350 C276.67 350 248.33 335.33 250 330Z" fill="#2048d8" opacity="0.55"/>
</g>
<g filter="url(#b8)">
<ellipse cx="338" cy="200" rx="58" ry="98" style="fill:var(--g1)" transform="rotate(12 338 200)"/>
<ellipse cx="205" cy="285" rx="112" ry="46" style="fill:var(--g2)" transform="rotate(-32 205 285)"/>
<ellipse cx="370" cy="356" rx="50" ry="58" style="fill:var(--g3)"/>
</g>
<g filter="url(#b6)">
<ellipse cx="344" cy="195" rx="36" ry="64" style="fill:var(--a1)" transform="rotate(12 344 195)"/>
<ellipse cx="210" cy="281" rx="70" ry="24" style="fill:var(--a2)" transform="rotate(-32 210 281)"/>
<ellipse cx="376" cy="354" rx="32" ry="40" style="fill:var(--a3)"/>
</g>
<g filter="url(#b4)">
<ellipse cx="348" cy="190" rx="22" ry="42" style="fill:var(--c1)" transform="rotate(12 348 190)"/>
<ellipse cx="212" cy="281" rx="36" ry="12" style="fill:var(--c2)" transform="rotate(-32 212 281)"/>
<ellipse cx="380" cy="352" rx="20" ry="28" style="fill:var(--c3)"/>
</g>
</g></g>

</g>
<g id="mmet">
<g filter="url(#fxC)">
<g transform="scale(0.12579) translate(-25 -18)">
<g filter="url(#b24)">
<ellipse cx="130" cy="260" rx="190" ry="300" fill="#3c22c4"/>
<ellipse cx="80" cy="80" rx="110" ry="90" fill="#5a2cd0"/>
<ellipse cx="300" cy="380" rx="120" ry="90" fill="#2424c8"/>
<ellipse cx="500" cy="240" rx="70" ry="300" fill="#1e1e22"/>
<ellipse cx="300" cy="25" rx="130" ry="50" fill="#1c1c24"/>
<ellipse cx="440" cy="60" rx="80" ry="70" fill="#1e1e22"/>
</g>
<g filter="url(#b12)">
<ellipse cx="240" cy="445" rx="75" ry="40" fill="#a420e0" opacity="0.95"/>
<ellipse cx="120" cy="200" rx="16" ry="14" fill="#1a1a30" opacity="0.8"/>
</g>
<g filter="url(#b12)">
<path d="M60 345 C58.33 324.33 73.33 287.5 90 260 C106.67 232.5 133.33 203.33 160 180 C186.67 156.67 221.67 137 250 120 C278.33 103 306.33 83.33 330 78 C353.67 72.67 375 76 392 88 C409 100 423.67 126.33 432 150 C440.33 173.67 443.67 201.67 442 230 C440.33 258.33 430.33 291.33 422 320 C413.67 348.67 405.67 386.67 392 402 C378.33 417.33 353.67 418.67 340 412 C326.33 405.33 318.33 378.67 310 362 C301.67 345.33 303.33 317 290 312 C276.67 307 251.67 323.67 230 332 C208.33 340.33 181.67 353.33 160 362 C138.33 370.67 116.67 386.83 100 384 C83.33 381.17 61.67 365.67 60 345Z" style="fill:var(--h)"/>
</g>
<g filter="url(#b8)">
<path d="M92 322 C88.67 308.33 112 272 130 250 C148 228 175 208.33 200 190 C225 171.67 255 153.67 280 140 C305 126.33 330 110 350 108 C370 106 389 116 400 128 C411 140 415.67 161.33 416 180 C416.33 198.67 405.33 220 402 240 C398.67 260 401.33 278 396 300 C390.67 322 379.33 358.33 370 372 C360.67 385.67 347.5 390.33 340 382 C332.5 373.67 328.67 342 325 322 C321.33 302 325.5 270.33 318 262 C310.5 253.67 296.33 265.33 280 272 C263.67 278.67 241.67 292 220 302 C198.33 312 171.33 328.67 150 332 C128.67 335.33 95.33 335.67 92 322Z" style="fill:var(--m)"/>
</g>
<g filter="url(#b8)">
<ellipse cx="248" cy="212" rx="145" ry="50" style="fill:var(--g1)" transform="rotate(-32 248 212)"/>
<ellipse cx="364" cy="166" rx="58" ry="58" style="fill:var(--g2)"/>
</g>
<g filter="url(#b6)">
<ellipse cx="262" cy="205" rx="100" ry="24" style="fill:var(--a1)" transform="rotate(-32 262 205)"/>
<ellipse cx="366" cy="160" rx="42" ry="44" style="fill:var(--a2)"/>
<ellipse cx="230" cy="216" rx="18" ry="15" style="fill:var(--a3)"/>
</g>
<g filter="url(#b4)">
<ellipse cx="371" cy="157" rx="28" ry="30" style="fill:var(--c1)"/>
<ellipse cx="300" cy="198" rx="48" ry="12" style="fill:var(--c2)" transform="rotate(-35 300 198)"/>
</g>
</g></g>

</g>
</defs>
<g fill="none" stroke-linejoin="round" stroke-linecap="round" stroke-width="2.6">
<path d="M509 193.8 C511.17 193.57 517.5 193.02 522 192.4 C526.5 191.78 532.17 190.97 536 190.1 C539.83 189.23 542.13 188.22 545 187.2 C547.87 186.18 550.2 185.13 553.2 184 C556.2 182.87 559.72 181.63 563 180.4 C566.28 179.17 569.73 177.87 572.9 176.6 C576.07 175.33 579.15 173.95 582 172.8 C584.85 171.65 587.67 170.58 590 169.7 C592.33 168.82 593.95 168.2 596 167.5 C598.05 166.8 600.38 166.18 602.3 165.5 C604.22 164.82 605.85 164.22 607.5 163.4 C609.15 162.58 610.62 161.8 612.2 160.6 C613.78 159.4 615.37 158.03 617 156.2 C618.63 154.37 620.5 151.72 622 149.6 C623.5 147.48 624.77 145.55 626 143.5 C627.23 141.45 627.98 140.63 629.4 137.3 C630.82 133.97 632.9 127.22 634.5 123.5 C636.1 119.78 637.32 117.57 639 115 C640.68 112.43 643.02 110.18 644.6 108.1 C646.18 106.02 647.28 104.55 648.5 102.5 C649.72 100.45 650.73 98.38 651.9 95.8 C653.07 93.22 654.27 90.27 655.5 87 C656.73 83.73 658.05 80.03 659.3 76.2 C660.55 72.37 661.77 68.1 663 64 C664.23 59.9 665.47 55.55 666.7 51.6 C667.93 47.65 669.52 42.73 670.4 40.3 C671.28 37.87 671.47 37.78 672 37 C672.53 36.22 673.05 35.67 673.6 35.6 C674.15 35.53 674.73 35.78 675.3 36.6 C675.87 37.42 676.43 38.52 677 40.5 C677.57 42.48 678.17 45.42 678.7 48.5 C679.23 51.58 679.53 53.98 680.2 59 C680.87 64.02 681.88 72.05 682.7 78.6 C683.52 85.15 684.37 92.9 685.1 98.3 C685.83 103.7 686.77 108.88 687.1 111" stroke="#96191e"/>
<path d="M681.4 79.1 C681.73 76.57 682.82 68.25 683.4 63.9 C683.98 59.55 684.42 56.18 684.9 53 C685.38 49.82 685.7 47.3 686.3 44.8 C686.9 42.3 687.67 39.53 688.5 38 C689.33 36.47 690.5 35.83 691.3 35.6 C692.1 35.37 692.7 35.9 693.3 36.6 C693.9 37.3 694.32 38.23 694.9 39.8 C695.48 41.37 696.18 43.62 696.8 46 C697.42 48.38 697.68 49.88 698.6 54.1 C699.52 58.32 701.07 66.18 702.3 71.3 C703.53 76.42 704.57 79.48 706 84.8 C707.43 90.12 709.57 98.33 710.9 103.2 C712.23 108.07 712.98 110.72 714 114 C715.02 117.28 715.83 120.07 717 122.9 C718.17 125.73 719.55 128.6 721 131 C722.45 133.4 723.87 135.22 725.7 137.3 C727.53 139.38 729.95 141.45 732 143.5 C734.05 145.55 736.17 147.43 738 149.6 C739.83 151.77 741.37 154.05 743 156.5 C744.63 158.95 746.22 162 747.8 164.3 C749.38 166.6 750.87 168.45 752.5 170.3 C754.13 172.15 755.93 173.95 757.6 175.4 C759.27 176.85 760.87 177.9 762.5 179 C764.13 180.1 765.48 180.97 767.4 182 C769.32 183.03 771.73 184.25 774 185.2 C776.27 186.15 779.83 187.28 781 187.7" stroke="#96191e"/>
<path d="M509 193.3 C511.17 192.8 517.5 191.65 522 190.3 C526.5 188.95 531.67 187 536 185.2 C540.33 183.4 543.9 181.55 548 179.5 C552.1 177.45 556.93 174.72 560.6 172.9 C564.27 171.08 567.13 169.83 570 168.6 C572.87 167.37 575.47 166.32 577.8 165.5 C580.13 164.68 581.97 164.1 584 163.7 C586.03 163.3 588 163.08 590 163.1 C592 163.12 593.95 163.4 596 163.8 C598.05 164.2 599.63 164.47 602.3 165.5 C604.97 166.53 608.72 168.35 612 170 C615.28 171.65 618.62 173.63 622 175.4 C625.38 177.17 629.03 179.23 632.3 180.6 C635.57 181.97 638.65 182.83 641.6 183.6 C644.55 184.37 647.27 184.8 650 185.2 C652.73 185.6 655 185.87 658 186 C661 186.13 664.92 186.02 668 186 C671.08 185.98 674.33 185.8 676.5 185.9 C678.67 186 679.57 186.22 681 186.6 C682.43 186.98 684 188.37 685.1 188.2 C686.2 188.03 686.17 186.27 687.6 185.6 C689.03 184.93 691.47 184.27 693.7 184.2 C695.93 184.13 698.45 184.6 701 185.2 C703.55 185.8 706.12 186.98 709 187.8 C711.88 188.62 713.47 189.3 718.3 190.1 C723.13 190.9 731.45 191.9 738 192.6 C744.55 193.3 750.43 193.85 757.6 194.3 C764.77 194.75 777.1 195.13 781 195.3" stroke="#231815"/>
</g>
<g stroke="#231815" stroke-width="2.3" fill="none">
<path d="M509 2.5 V195.5 H782"/>
<path d="M502 195.5 H509"/>
<path d="M502 131.5 H509"/>
<path d="M502 67.5 H509"/>
<path d="M502 3.5 H509"/>
<path d="M520 195.5 V202.5"/>
<path d="M572.2 195.5 V202.5"/>
<path d="M624.4 195.5 V202.5"/>
<path d="M676.6 195.5 V202.5"/>
<path d="M728.8 195.5 V202.5"/>
<path d="M781 195.5 V202.5"/>
</g>
<text x="499" y="199.9" font-size="12.5" text-anchor="end" fill="#231815">0.0</text>
<text x="499" y="135.9" font-size="12.5" text-anchor="end" fill="#231815">0.4</text>
<text x="499" y="71.9" font-size="12.5" text-anchor="end" fill="#231815">0.8</text>
<text x="499" y="7.9" font-size="12.5" text-anchor="end" fill="#231815">1.2</text>
<text x="520" y="218.8" font-size="12.5" text-anchor="middle" fill="#231815">350</text>
<text x="572.2" y="218.8" font-size="12.5" text-anchor="middle" fill="#231815">400</text>
<text x="624.4" y="218.8" font-size="12.5" text-anchor="middle" fill="#231815">450</text>
<text x="676.6" y="218.8" font-size="12.5" text-anchor="middle" fill="#231815">500</text>
<text x="728.8" y="218.8" font-size="12.5" text-anchor="middle" fill="#231815">550</text>
<text x="781" y="218.8" font-size="12.5" text-anchor="middle" fill="#231815">600</text>
<text x="646" y="241" font-size="16" text-anchor="middle" fill="#231815">Wavelength (nm)</text>
<text x="0" y="0" font-size="15.7" text-anchor="middle" fill="#231815" transform="translate(472 98) rotate(-90)">Normalized Intensity</text>
<text x="683.6" y="22.8" font-size="13" text-anchor="middle" fill="#96191e">L-Arg</text>
<text x="639.2" y="89.3" font-size="12.5" text-anchor="middle" fill="#231815">Ex</text>
<text x="726" y="89.3" font-size="12.5" text-anchor="middle" fill="#231815">Em</text>
<text x="682.6" y="179.8" font-size="12.5" text-anchor="middle" fill="#231815">Ctrl</text>
<polyline points="857.4,174.23 867.6,174.23 877.81,174.23 888.01,174.23 898.21,174.23 908.41,174.23 918.62,174.23 928.82,174.23 939.02,174.23 949.23,174.23 959.43,174.23 969.63,174.23 979.84,174.23 990.04,174.23 1000.24,174.23 1010.44,174.23 1020.65,174.23 1030.85,174.23 1041.05,174.23 1051.26,174.23 1061.46,174.23 1071.66,174.23 1081.87,174.23 1092.07,174.23 1102.27,174.23 1112.47,174.23 1122.68,174.23" fill="none" stroke="#1a1a1a" stroke-width="2" stroke-linejoin="round"/>
<path d="M857.4 177.83 l3.6 -6.4 h-7.2z" fill="#1a1a1a"/>
<path d="M867.6 177.83 l3.6 -6.4 h-7.2z" fill="#1a1a1a"/>
<path d="M877.81 177.83 l3.6 -6.4 h-7.2z" fill="#1a1a1a"/>
<path d="M888.01 177.83 l3.6 -6.4 h-7.2z" fill="#1a1a1a"/>
<path d="M898.21 177.83 l3.6 -6.4 h-7.2z" fill="#1a1a1a"/>
<path d="M908.41 177.83 l3.6 -6.4 h-7.2z" fill="#1a1a1a"/>
<path d="M918.62 177.83 l3.6 -6.4 h-7.2z" fill="#1a1a1a"/>
<path d="M928.82 177.83 l3.6 -6.4 h-7.2z" fill="#1a1a1a"/>
<path d="M939.02 177.83 l3.6 -6.4 h-7.2z" fill="#1a1a1a"/>
<path d="M949.23 177.83 l3.6 -6.4 h-7.2z" fill="#1a1a1a"/>
<path d="M959.43 177.83 l3.6 -6.4 h-7.2z" fill="#1a1a1a"/>
<path d="M969.63 177.83 l3.6 -6.4 h-7.2z" fill="#1a1a1a"/>
<path d="M979.84 177.83 l3.6 -6.4 h-7.2z" fill="#1a1a1a"/>
<path d="M990.04 177.83 l3.6 -6.4 h-7.2z" fill="#1a1a1a"/>
<path d="M1000.24 177.83 l3.6 -6.4 h-7.2z" fill="#1a1a1a"/>
<path d="M1010.44 177.83 l3.6 -6.4 h-7.2z" fill="#1a1a1a"/>
<path d="M1020.65 177.83 l3.6 -6.4 h-7.2z" fill="#1a1a1a"/>
<path d="M1030.85 177.83 l3.6 -6.4 h-7.2z" fill="#1a1a1a"/>
<path d="M1041.05 177.83 l3.6 -6.4 h-7.2z" fill="#1a1a1a"/>
<path d="M1051.26 177.83 l3.6 -6.4 h-7.2z" fill="#1a1a1a"/>
<path d="M1061.46 177.83 l3.6 -6.4 h-7.2z" fill="#1a1a1a"/>
<path d="M1071.66 177.83 l3.6 -6.4 h-7.2z" fill="#1a1a1a"/>
<path d="M1081.87 177.83 l3.6 -6.4 h-7.2z" fill="#1a1a1a"/>
<path d="M1092.07 177.83 l3.6 -6.4 h-7.2z" fill="#1a1a1a"/>
<path d="M1102.27 177.83 l3.6 -6.4 h-7.2z" fill="#1a1a1a"/>
<path d="M1112.47 177.83 l3.6 -6.4 h-7.2z" fill="#1a1a1a"/>
<path d="M1122.68 177.83 l3.6 -6.4 h-7.2z" fill="#1a1a1a"/>
<polyline points="857.4,173.75 867.6,173.03 877.81,172.31 888.01,171.35 898.21,170.64 908.41,170.16 918.62,169.68 928.82,169.2 939.02,168.96" fill="none" stroke="#ff6a1f" stroke-width="2" stroke-linejoin="round"/>
<polyline points="939.02,133.51 949.23,131.6 959.43,129.68 969.63,128.25 979.84,127.05 990.04,125.85 1000.24,124.41 1010.44,122.98 1020.65,122.5" fill="none" stroke="#ff6a1f" stroke-width="2" stroke-linejoin="round"/>
<polyline points="1020.65,173.27 1030.85,173.75 1041.05,174.23 1051.26,174.47 1061.46,174.71 1071.66,174.95 1081.87,175.19 1092.07,175.43 1102.27,175.67 1112.47,175.91 1122.68,176.14" fill="none" stroke="#ff6a1f" stroke-width="2" stroke-linejoin="round"/>
<path d="M857.4 169.35 l4.2 4.4 l-4.2 4.4 l-4.2 -4.4z" fill="#ff6a1f"/>
<path d="M867.6 168.63 l4.2 4.4 l-4.2 4.4 l-4.2 -4.4z" fill="#ff6a1f"/>
<path d="M877.81 167.91 l4.2 4.4 l-4.2 4.4 l-4.2 -4.4z" fill="#ff6a1f"/>
<path d="M888.01 166.95 l4.2 4.4 l-4.2 4.4 l-4.2 -4.4z" fill="#ff6a1f"/>
<path d="M898.21 166.24 l4.2 4.4 l-4.2 4.4 l-4.2 -4.4z" fill="#ff6a1f"/>
<path d="M908.41 165.76 l4.2 4.4 l-4.2 4.4 l-4.2 -4.4z" fill="#ff6a1f"/>
<path d="M918.62 165.28 l4.2 4.4 l-4.2 4.4 l-4.2 -4.4z" fill="#ff6a1f"/>
<path d="M928.82 164.8 l4.2 4.4 l-4.2 4.4 l-4.2 -4.4z" fill="#ff6a1f"/>
<path d="M939.02 129.11 l4.2 4.4 l-4.2 4.4 l-4.2 -4.4z" fill="#ff6a1f"/>
<path d="M949.23 127.2 l4.2 4.4 l-4.2 4.4 l-4.2 -4.4z" fill="#ff6a1f"/>
<path d="M959.43 125.28 l4.2 4.4 l-4.2 4.4 l-4.2 -4.4z" fill="#ff6a1f"/>
<path d="M969.63 123.84 l4.2 4.4 l-4.2 4.4 l-4.2 -4.4z" fill="#ff6a1f"/>
<path d="M979.84 122.65 l4.2 4.4 l-4.2 4.4 l-4.2 -4.4z" fill="#ff6a1f"/>
<path d="M990.04 121.45 l4.2 4.4 l-4.2 4.4 l-4.2 -4.4z" fill="#ff6a1f"/>
<path d="M1000.24 120.01 l4.2 4.4 l-4.2 4.4 l-4.2 -4.4z" fill="#ff6a1f"/>
<path d="M1010.44 118.58 l4.2 4.4 l-4.2 4.4 l-4.2 -4.4z" fill="#ff6a1f"/>
<path d="M1020.65 118.1 l4.2 4.4 l-4.2 4.4 l-4.2 -4.4z" fill="#ff6a1f"/>
<path d="M1020.65 168.87 l4.2 4.4 l-4.2 4.4 l-4.2 -4.4z" fill="#ff6a1f"/>
<path d="M1030.85 169.35 l4.2 4.4 l-4.2 4.4 l-4.2 -4.4z" fill="#ff6a1f"/>
<path d="M1041.05 169.83 l4.2 4.4 l-4.2 4.4 l-4.2 -4.4z" fill="#ff6a1f"/>
<path d="M1051.26 170.07 l4.2 4.4 l-4.2 4.4 l-4.2 -4.4z" fill="#ff6a1f"/>
<path d="M1061.46 170.31 l4.2 4.4 l-4.2 4.4 l-4.2 -4.4z" fill="#ff6a1f"/>
<path d="M1071.66 170.55 l4.2 4.4 l-4.2 4.4 l-4.2 -4.4z" fill="#ff6a1f"/>
<path d="M1081.87 170.79 l4.2 4.4 l-4.2 4.4 l-4.2 -4.4z" fill="#ff6a1f"/>
<path d="M1092.07 171.03 l4.2 4.4 l-4.2 4.4 l-4.2 -4.4z" fill="#ff6a1f"/>
<path d="M1102.27 171.27 l4.2 4.4 l-4.2 4.4 l-4.2 -4.4z" fill="#ff6a1f"/>
<path d="M1112.47 171.51 l4.2 4.4 l-4.2 4.4 l-4.2 -4.4z" fill="#ff6a1f"/>
<path d="M1122.68 171.74 l4.2 4.4 l-4.2 4.4 l-4.2 -4.4z" fill="#ff6a1f"/>
<polyline points="857.4,173.75 867.6,173.66 877.81,173.57 888.01,173.48 898.21,173.39 908.41,173.3 918.62,173.21 928.82,173.12 939.02,173.03 939.02,40.11 949.23,39.15 959.43,37.71 969.63,35.8 979.84,37.71 990.04,36.28 1000.24,34.84 1010.44,35.32 1020.65,33.88 1020.65,170.88 1030.85,170.4 1041.05,170.16 1051.26,169.92 1061.46,169.68 1071.66,169.68 1081.87,169.44 1092.07,169.44 1102.27,169.2 1112.47,168.96 1122.68,168.48" fill="none" stroke="#a0191e" stroke-width="2.2" stroke-linejoin="round"/>
<circle cx="857.4" cy="173.75" r="3.9" fill="#a0191e"/>
<circle cx="867.6" cy="173.66" r="3.9" fill="#a0191e"/>
<circle cx="877.81" cy="173.57" r="3.9" fill="#a0191e"/>
<circle cx="888.01" cy="173.48" r="3.9" fill="#a0191e"/>
<circle cx="898.21" cy="173.39" r="3.9" fill="#a0191e"/>
<circle cx="908.41" cy="173.3" r="3.9" fill="#a0191e"/>
<circle cx="918.62" cy="173.21" r="3.9" fill="#a0191e"/>
<circle cx="928.82" cy="173.12" r="3.9" fill="#a0191e"/>
<circle cx="939.02" cy="173.03" r="3.9" fill="#a0191e"/>
<circle cx="939.02" cy="40.11" r="3.9" fill="#a0191e"/>
<circle cx="949.23" cy="39.15" r="3.9" fill="#a0191e"/>
<circle cx="959.43" cy="37.71" r="3.9" fill="#a0191e"/>
<circle cx="969.63" cy="35.8" r="3.9" fill="#a0191e"/>
<circle cx="979.84" cy="37.71" r="3.9" fill="#a0191e"/>
<circle cx="990.04" cy="36.28" r="3.9" fill="#a0191e"/>
<circle cx="1000.24" cy="34.84" r="3.9" fill="#a0191e"/>
<circle cx="1010.44" cy="35.32" r="3.9" fill="#a0191e"/>
<circle cx="1020.65" cy="33.88" r="3.9" fill="#a0191e"/>
<circle cx="1020.65" cy="170.88" r="3.9" fill="#a0191e"/>
<circle cx="1030.85" cy="170.4" r="3.9" fill="#a0191e"/>
<circle cx="1041.05" cy="170.16" r="3.9" fill="#a0191e"/>
<circle cx="1051.26" cy="169.92" r="3.9" fill="#a0191e"/>
<circle cx="1061.46" cy="169.68" r="3.9" fill="#a0191e"/>
<circle cx="1071.66" cy="169.68" r="3.9" fill="#a0191e"/>
<circle cx="1081.87" cy="169.44" r="3.9" fill="#a0191e"/>
<circle cx="1092.07" cy="169.44" r="3.9" fill="#a0191e"/>
<circle cx="1102.27" cy="169.2" r="3.9" fill="#a0191e"/>
<circle cx="1112.47" cy="168.96" r="3.9" fill="#a0191e"/>
<circle cx="1122.68" cy="168.48" r="3.9" fill="#a0191e"/>
<g stroke="#231815" stroke-width="2.3" fill="none">
<path d="M857.4 5.1 V197.7 H1130.48"/>
<path d="M849.9 197.7 H857.4"/>
<path d="M849.9 149.8 H857.4"/>
<path d="M849.9 101.9 H857.4"/>
<path d="M849.9 54 H857.4"/>
<path d="M849.9 6.1 H857.4"/>
<path d="M857.4 197.7 V205.2"/>
<path d="M925.42 197.7 V205.2"/>
<path d="M993.44 197.7 V205.2"/>
<path d="M1061.46 197.7 V205.2"/>
<path d="M1129.48 197.7 V205.2"/>
</g>
<text x="846.9" y="202.1" font-size="12.5" text-anchor="end" fill="#231815">0</text>
<text x="846.9" y="154.2" font-size="12.5" text-anchor="end" fill="#231815">2</text>
<text x="846.9" y="106.3" font-size="12.5" text-anchor="end" fill="#231815">4</text>
<text x="846.9" y="58.4" font-size="12.5" text-anchor="end" fill="#231815">6</text>
<text x="846.9" y="10.5" font-size="12.5" text-anchor="end" fill="#231815">8</text>
<text x="857.4" y="220.2" font-size="12.5" text-anchor="middle" fill="#231815">0</text>
<text x="925.42" y="220.2" font-size="12.5" text-anchor="middle" fill="#231815">100</text>
<text x="993.44" y="220.2" font-size="12.5" text-anchor="middle" fill="#231815">200</text>
<text x="1061.46" y="220.2" font-size="12.5" text-anchor="middle" fill="#231815">300</text>
<text x="1129.48" y="220.2" font-size="12.5" text-anchor="middle" fill="#231815">400</text>
<text x="993" y="243.4" font-size="16" text-anchor="middle" fill="#231815">Time (s)</text>
<text font-size="15.5" fill="#231815" transform="translate(828.4 174.4) rotate(-90)">Normalized <tspan font-style="italic" font-size="16.5">R</tspan><tspan font-size="12" dy="3.2">485/420</tspan></text>
<path d="M939.5 6.5 V25.2" stroke="#231815" stroke-width="2" fill="none"/><path d="M939.5 33.2 l-4.4 -10 h8.8z" fill="#231815"/>
<path d="M1019.7 2.5 V22" stroke="#231815" stroke-width="2" fill="none"/><path d="M1019.7 30 l-4.4 -10 h8.8z" fill="#231815"/>
<text x="932.3" y="16.8" font-size="13" text-anchor="end" fill="#231815">L-Arg</text>
<text x="1029.3" y="16" font-size="13" fill="#231815">Arginine</text>
<text x="1029.3" y="32.8" font-size="13" fill="#231815">Decarboxylase</text>
<path d="M1045 68.6 H1065.2" stroke="#ff6a1f" stroke-width="2"/>
<path d="M1055.1 64.2 l4.2 4.4 l-4.2 4.4 l-4.2 -4.4z" fill="#ff6a1f"/>
<text x="1077.2" y="73.2" font-size="13" fill="#231815">STAR-H</text>
<path d="M1045 91.4 H1065.2" stroke="#a0191e" stroke-width="2"/>
<circle cx="1055.1" cy="91.4" r="3.9" fill="#a0191e"/>
<text x="1077.2" y="96" font-size="13" fill="#231815">STAR</text>
<path d="M1045 113.8 H1065.2" stroke="#1a1a1a" stroke-width="2"/>
<path d="M1055.1 117.4 l3.6 -6.4 h-7.2z" fill="#1a1a1a"/>
<text x="1077.2" y="118.4" font-size="13" fill="#231815">STAR-C</text>
<use href="#protG"/><use href="#protB"/>
<g transform="translate(207.3 8) scale(0.945)"><use href="#protB" filter="url(#glow2)"/></g>
<g transform="translate(213.6 12.1) scale(0.918)"><use href="#protG"/></g><g transform="translate(207.3 8) scale(0.945)"><use href="#protB"/></g>
<g transform="translate(293 56) scale(0.09)">
<path d="M105 137 L150 185" stroke="#9a9a9a" stroke-width="11" stroke-linecap="round"/>
<path d="M123 197 L155 190" stroke="#9a9a9a" stroke-width="11" stroke-linecap="round"/>
<path d="M155 190 L150 235" stroke="#9a9a9a" stroke-width="11" stroke-linecap="round"/>
<path d="M155 190 L232 162" stroke="#9a9a9a" stroke-width="11" stroke-linecap="round"/>
<path d="M232 162 L292 215" stroke="#9a9a9a" stroke-width="11" stroke-linecap="round"/>
<path d="M292 215 L358 200" stroke="#9a9a9a" stroke-width="11" stroke-linecap="round"/>
<path d="M358 200 L398 148" stroke="#9a9a9a" stroke-width="11" stroke-linecap="round"/>
<path d="M398 148 L463 152" stroke="#9a9a9a" stroke-width="11" stroke-linecap="round"/>
<path d="M463 152 L500 97" stroke="#9a9a9a" stroke-width="11" stroke-linecap="round"/>
<path d="M463 152 L498 210" stroke="#9a9a9a" stroke-width="11" stroke-linecap="round"/>
<circle cx="150" cy="235" r="16" fill="url(#ag)"/>
<circle cx="155" cy="190" r="20" fill="url(#ag)"/>
<circle cx="232" cy="162" r="20" fill="url(#ag)"/>
<circle cx="292" cy="215" r="20" fill="url(#ag)"/>
<circle cx="358" cy="200" r="20" fill="url(#ag)"/>
<circle cx="463" cy="152" r="19" fill="url(#ag)"/>
<circle cx="105" cy="137" r="18" fill="url(#ab)"/>
<circle cx="398" cy="148" r="18" fill="url(#ab)"/>
<circle cx="500" cy="97" r="18" fill="url(#ab)"/>
<circle cx="498" cy="210" r="18" fill="url(#ab)"/>
<circle cx="123" cy="197" r="18" fill="url(#ar)"/>
</g>
<path d="M179 111.7 H239" stroke="#111" stroke-width="1.7" fill="none"/><path d="M243.2 111.7 l-5.6 -4.6 v9.2z" fill="#111"/>
<text x="209.9" y="129.4" font-size="14" text-anchor="middle" fill="#231815">Arginine</text>
<g transform="translate(170 70) scale(0.14)">
<path d="M105 137 L150 185" stroke="#9a9a9a" stroke-width="11" stroke-linecap="round"/>
<path d="M123 197 L155 190" stroke="#9a9a9a" stroke-width="11" stroke-linecap="round"/>
<path d="M155 190 L150 235" stroke="#9a9a9a" stroke-width="11" stroke-linecap="round"/>
<path d="M155 190 L232 162" stroke="#9a9a9a" stroke-width="11" stroke-linecap="round"/>
<path d="M232 162 L292 215" stroke="#9a9a9a" stroke-width="11" stroke-linecap="round"/>
<path d="M292 215 L358 200" stroke="#9a9a9a" stroke-width="11" stroke-linecap="round"/>
<path d="M358 200 L398 148" stroke="#9a9a9a" stroke-width="11" stroke-linecap="round"/>
<path d="M398 148 L463 152" stroke="#9a9a9a" stroke-width="11" stroke-linecap="round"/>
<path d="M463 152 L500 97" stroke="#9a9a9a" stroke-width="11" stroke-linecap="round"/>
<path d="M463 152 L498 210" stroke="#9a9a9a" stroke-width="11" stroke-linecap="round"/>
<circle cx="150" cy="235" r="16" fill="url(#ag)"/>
<circle cx="155" cy="190" r="20" fill="url(#ag)"/>
<circle cx="232" cy="162" r="20" fill="url(#ag)"/>
<circle cx="292" cy="215" r="20" fill="url(#ag)"/>
<circle cx="358" cy="200" r="20" fill="url(#ag)"/>
<circle cx="463" cy="152" r="19" fill="url(#ag)"/>
<circle cx="105" cy="137" r="18" fill="url(#ab)"/>
<circle cx="398" cy="148" r="18" fill="url(#ab)"/>
<circle cx="500" cy="97" r="18" fill="url(#ab)"/>
<circle cx="498" cy="210" r="18" fill="url(#ab)"/>
<circle cx="123" cy="197" r="18" fill="url(#ar)"/>
</g>
<svg x="1207" y="17" width="93" height="93"><rect width="100%" height="100%" fill="#171a14"/>
<g filter="url(#fxA)">
<g transform="scale(0.202) translate(-24.31 -24.31)">
<g filter="url(#b6)">
<path d="M40 30 C51.67 8.33 90 18.33 120 20 C150 21.67 201.67 23.33 220 40 C238.33 56.67 233.33 98.33 230 120 C226.67 141.67 218.33 161.67 200 170 C181.67 178.33 145 173.33 120 170 C95 166.67 63.33 173.33 50 150 C36.67 126.67 28.33 51.67 40 30Z" fill="#22381a"/>
<path d="M350 15 C373 2.5 473.33 -15.83 498 15 C522.67 45.83 509.33 170.83 498 200 C486.67 229.17 449.67 196.67 430 190 C410.33 183.33 391.67 176.67 380 160 C368.33 143.33 365 114.17 360 90 C355 65.83 327 27.5 350 15Z" fill="#1e3020"/>
<path d="M240 370 C246.67 358.33 283.33 340 300 330 C316.67 320 320 315 340 310 C360 305 396.67 304.17 420 300 C443.33 295.83 467 285.83 480 285 C493 284.17 495 286.67 498 295 C501 303.33 511 322.5 498 335 C485 347.5 441.33 355.83 420 370 C398.67 384.17 383.33 405 370 420 C356.67 435 351.67 456.67 340 460 C328.33 463.33 313.33 450 300 440 C286.67 430 270 411.67 260 400 C250 388.33 233.33 381.67 240 370Z" fill="#5a4a14"/>
<path d="M5 320 C14.17 295 42.5 310 60 315 C77.5 320 91.67 338.33 110 350 C128.33 361.67 148.33 378.33 170 385 C191.67 391.67 241.67 382.5 240 390 C238.33 397.5 190 419.17 160 430 C130 440.83 85.83 449.17 60 455 C34.17 460.83 14.17 487.5 5 465 C-4.17 442.5 -4.17 345 5 320Z" fill="#dc2a10"/>
<path d="M340 470 C342.5 459.17 351.67 440 365 425 C378.33 410 402.5 393.33 420 380 C437.5 366.67 455.83 353.33 470 345 C484.17 336.67 499.17 303.33 505 330 C510.83 356.67 522.5 475.83 505 505 C487.5 534.17 425.83 507.5 400 505 C374.17 502.5 360 495.83 350 490 C340 484.17 337.5 480.83 340 470Z" fill="#e02412"/>
</g>
<g filter="url(#b3)">
<path d="M38 200 C41 190.83 51.33 180.83 60 175 C68.67 169.17 80.83 163.33 90 165 C99.17 166.67 108.83 175.83 115 185 C121.17 194.17 126.17 207.5 127 220 C127.83 232.5 120 248.33 120 260 C120 271.67 130.33 281.33 127 290 C123.67 298.67 109.5 306.67 100 312 C90.5 317.33 78.33 324 70 322 C61.67 320 55.67 310.33 50 300 C44.33 289.67 37.33 271.67 36 260 C34.67 248.33 41.67 240 42 230 C42.33 220 35 209.17 38 200Z" fill="#e0701c"/>
<path d="M125 290 C133.33 281.67 139.17 267.5 150 260 C160.83 252.5 176.67 245.83 190 245 C203.33 244.17 218.33 249.17 230 255 C241.67 260.83 250 272.5 260 280 C270 287.5 277.5 295 290 300 C302.5 305 333.33 304.67 335 310 C336.67 315.33 312.5 326.67 300 332 C287.5 337.33 270 335.33 260 342 C250 348.67 250 364.33 240 372 C230 379.67 215 386.33 200 388 C185 389.67 165 384.67 150 382 C135 379.33 120.33 379 110 372 C99.67 365 89.67 350.33 88 340 C86.33 329.67 93.83 318.33 100 310 C106.17 301.67 116.67 298.33 125 290Z" fill="#e06a1a"/>
<path d="M300 15 C311.67 12 336.67 4.5 345 12 C353.33 19.5 350 43.67 350 60 C350 76.33 344.67 95 345 110 C345.33 125 352.83 136.67 352 150 C351.17 163.33 346.67 181.67 340 190 C333.33 198.33 318.67 194.17 312 200 C305.33 205.83 307 220 300 225 C293 230 278.33 234.17 270 230 C261.67 225.83 255 213.33 250 200 C245 186.67 244.67 165 240 150 C235.33 135 224.5 120 222 110 C219.5 100 220.33 98.33 225 90 C229.67 81.67 241.67 70 250 60 C258.33 50 266.67 37.5 275 30 C283.33 22.5 288.33 18 300 15Z" fill="#d08a1c"/>
<path d="M290 240 C297.83 231.67 320 222.5 330 215 C340 207.5 340 197.5 350 195 C360 192.5 376.67 195 390 200 C403.33 205 420 215.83 430 225 C440 234.17 440.83 247.17 450 255 C459.17 262.83 483.33 266.17 485 272 C486.67 277.83 470.83 287 460 290 C449.17 293 433.33 286.67 420 290 C406.67 293.33 393.33 308.33 380 310 C366.67 311.67 353.33 303.33 340 300 C326.67 296.67 309.5 295.83 300 290 C290.5 284.17 284.67 273.33 283 265 C281.33 256.67 282.17 248.33 290 240Z" fill="#dc9a1e"/>
</g>
<g filter="url(#b8)">
<path d="M50.11 212.11 C52.27 205.51 59.71 198.31 65.95 194.11 C72.19 189.91 80.95 185.71 87.55 186.91 C94.15 188.11 101.11 194.71 105.55 201.31 C109.99 207.91 113.59 217.51 114.19 226.51 C114.79 235.51 109.15 246.91 109.15 255.31 C109.15 263.71 116.59 270.67 114.19 276.91 C111.79 283.15 101.59 288.91 94.75 292.75 C87.91 296.59 79.15 301.39 73.15 299.95 C67.15 298.51 62.83 291.55 58.75 284.11 C54.67 276.67 49.63 263.71 48.67 255.31 C47.71 246.91 52.75 240.91 52.99 233.71 C53.23 226.51 47.95 218.71 50.11 212.11Z" fill="#c8a822"/>
<path d="M148.06 290.56 C153.89 284.73 157.98 274.81 165.56 269.56 C173.14 264.31 184.23 259.64 193.56 259.06 C202.89 258.48 213.39 261.98 221.56 266.06 C229.73 270.14 235.56 278.31 242.56 283.56 C249.56 288.81 254.81 294.06 263.56 297.56 C272.31 301.06 293.89 300.83 295.06 304.56 C296.23 308.29 279.31 316.23 270.56 319.96 C261.81 323.69 249.56 322.29 242.56 326.96 C235.56 331.63 235.56 342.59 228.56 347.96 C221.56 353.33 211.06 357.99 200.56 359.16 C190.06 360.33 176.06 356.83 165.56 354.96 C155.06 353.09 144.79 352.86 137.56 347.96 C130.33 343.06 123.33 332.79 122.16 325.56 C120.99 318.33 126.24 310.39 130.56 304.56 C134.88 298.73 142.23 296.39 148.06 290.56Z" fill="#b8a424"/>
<path d="M297.93 41.78 C306.68 39.53 325.43 33.91 331.68 39.53 C337.93 45.16 335.43 63.28 335.43 75.53 C335.43 87.78 331.43 101.78 331.68 113.03 C331.93 124.28 337.56 133.03 336.93 143.03 C336.31 153.03 332.93 166.78 327.93 173.03 C322.93 179.28 311.93 176.16 306.93 180.53 C301.93 184.91 303.18 195.53 297.93 199.28 C292.68 203.03 281.68 206.16 275.43 203.03 C269.18 199.91 264.18 190.53 260.43 180.53 C256.68 170.53 256.43 154.28 252.93 143.03 C249.43 131.78 241.31 120.53 239.43 113.03 C237.56 105.53 238.18 104.28 241.68 98.03 C245.18 91.78 254.18 83.03 260.43 75.53 C266.68 68.03 272.93 58.66 279.18 53.03 C285.43 47.41 289.18 44.03 297.93 41.78Z" fill="#b0a826"/>
<path d="M314.51 244.89 C320.15 238.89 336.11 232.29 343.31 226.89 C350.51 221.49 350.51 214.29 357.71 212.49 C364.91 210.69 376.91 212.49 386.51 216.09 C396.11 219.69 408.11 227.49 415.31 234.09 C422.51 240.69 423.11 250.05 429.71 255.69 C436.31 261.33 453.71 263.73 454.91 267.93 C456.11 272.13 444.71 278.73 436.91 280.89 C429.11 283.05 417.71 278.49 408.11 280.89 C398.51 283.29 388.91 294.09 379.31 295.29 C369.71 296.49 360.11 290.49 350.51 288.09 C340.91 285.69 328.55 285.09 321.71 280.89 C314.87 276.69 310.67 268.89 309.47 262.89 C308.27 256.89 308.87 250.89 314.51 244.89Z" fill="#c4b428"/>
</g>
</g></g>

<rect x="0.5" y="0.5" width="92" height="92" fill="none" stroke="#0a0a0a"/>
</svg>
<svg x="1303" y="17" width="93" height="93"><rect width="100%" height="100%" fill="#10171a"/>
<g filter="url(#fxA)">
<g transform="scale(0.20963) translate(-32.68 -32.68)">
<g filter="url(#b12)">
<path d="M15 15 C45.83 -35.83 174.17 2.5 200 15 C225.83 27.5 181.67 59.17 170 90 C158.33 120.83 143.33 165 130 200 C116.67 235 109.17 280 90 300 C70.83 320 27.5 367.5 15 320 C2.5 272.5 -15.83 65.83 15 15Z" fill="#141f1e"/>
<path d="M380 15 C406.33 4.17 478.33 -14.17 498 15 C517.67 44.17 511 160.83 498 190 C485 219.17 444.67 196.67 420 190 C395.33 183.33 363.33 168.33 350 150 C336.67 131.67 335 102.5 340 80 C345 57.5 353.67 25.83 380 15Z" fill="#0f1612"/>
</g>
<g filter="url(#b3)">
<path d="M150 110 C154.17 101.67 166.67 96.67 180 90 C193.33 83.33 211.67 77.5 230 70 C248.33 62.5 270 51.67 290 45 C310 38.33 336.33 30.83 350 30 C363.67 29.17 373.67 33.33 372 40 C370.33 46.67 348.67 60 340 70 C331.33 80 322.5 88.33 320 100 C317.5 111.67 320 127.5 325 140 C330 152.5 339.17 165.83 350 175 C360.83 184.17 375 190 390 195 C405 200 423.33 204.5 440 205 C456.67 205.5 479.17 197.17 490 198 C500.83 198.83 502.5 203 505 210 C507.5 217 508.83 226.67 505 240 C501.17 253.33 489.5 279.67 482 290 C474.5 300.33 467 302 460 302 C453 302 450 291.17 440 290 C430 288.83 411.67 293.33 400 295 C388.33 296.67 380 295.83 370 300 C360 304.17 351.67 313.33 340 320 C328.33 326.67 311.67 331.67 300 340 C288.33 348.33 277.5 358.33 270 370 C262.5 381.67 256.33 396.67 255 410 C253.67 423.33 258.17 437.5 262 450 C265.83 462.5 281.67 481.33 278 485 C274.33 488.67 251.33 479.5 240 472 C228.67 464.5 218.33 452 210 440 C201.67 428 195.83 411.67 190 400 C184.17 388.33 183.33 378.33 175 370 C166.67 361.67 151.67 356.67 140 350 C128.33 343.33 112.5 338.33 105 330 C97.5 321.67 94.17 311.67 95 300 C95.83 288.33 103.33 273.33 110 260 C116.67 246.67 128.33 233.33 135 220 C141.67 206.67 146.67 193.33 150 180 C153.33 166.67 155 151.67 155 140 C155 128.33 145.83 118.33 150 110Z" fill="#3cc83c"/>
<path d="M400 200 C408.33 191.33 472.5 195.5 490 198 C507.5 200.5 503.33 207.17 505 215 C506.67 222.83 504.17 232.5 500 245 C495.83 257.5 490 289.17 480 290 C470 290.83 453.33 265 440 250 C426.67 235 391.67 208.67 400 200Z" fill="#7cd034"/>
<path d="M200 380 C210 368.33 260.33 365 270 370 C279.67 375 259 396.67 258 410 C257 423.33 261 438 264 450 C267 462 280 478.67 276 482 C272 485.33 251 477 240 470 C229 463 216.67 455 210 440 C203.33 425 190 391.67 200 380Z" fill="#78cc30"/>
</g>
<g filter="url(#b12)">
<ellipse cx="250" cy="205" rx="80" ry="95" fill="#2cb070" opacity="0.85" transform="rotate(20 250 205)"/>
<ellipse cx="240" cy="190" rx="45" ry="60" fill="#2a8aa0" opacity="0.5" transform="rotate(20 240 190)"/>
</g>
<g filter="url(#b3)">
<ellipse cx="430" cy="281" rx="22" ry="15" fill="#0e140e"/>
<ellipse cx="350" cy="306" rx="11" ry="10" fill="#10180f"/>
<ellipse cx="385" cy="250" rx="30" ry="18" fill="#58cc38" opacity="0.6"/>
</g>
</g></g>

<rect x="0.5" y="0.5" width="92" height="92" fill="none" stroke="#0a0a0a"/>
</svg>
<svg x="1400" y="17" width="93" height="93"><rect width="100%" height="100%" fill="#151b13"/>
<g filter="url(#fxA)">
<g transform="scale(0.21344) translate(-36.64 -36.64)">
<g filter="url(#b8)">
<path d="M130 160 C130 153.33 176.67 125 200 110 C223.33 95 250 82.5 270 70 C290 57.5 308.33 38.33 320 35 C331.67 31.67 343.33 40.83 340 50 C336.67 59.17 315 76.67 300 90 C285 103.33 266.67 120 250 130 C233.33 140 220 145 200 150 C180 155 130 166.67 130 160Z" fill="#1e7426"/>
<path d="M55 150 C66.67 131.67 115.83 115 130 140 C144.17 165 145 270 140 300 C135 330 113.33 328.33 100 320 C86.67 311.67 67.5 278.33 60 250 C52.5 221.67 43.33 168.33 55 150Z" fill="#1c5a20"/>
<path d="M20 300 C21.67 281.67 51.67 286.67 70 290 C88.33 293.33 108.33 306.67 130 320 C151.67 333.33 173.33 359.17 200 370 C226.67 380.83 270 380 290 385 C310 390 326.67 392.5 320 400 C313.33 407.5 278.33 423.33 250 430 C221.67 436.67 181.67 445 150 440 C118.33 435 81.67 423.33 60 400 C38.33 376.67 18.33 318.33 20 300Z" fill="#56661a"/>
<path d="M380 190 C393.33 163.33 405 188.33 420 200 C435 211.67 457.5 244.17 470 260 C482.5 275.83 498.33 285 495 295 C491.67 305 465.83 312.5 450 320 C434.17 327.5 418.33 333.33 400 340 C381.67 346.67 343.33 385 340 360 C336.67 335 366.67 216.67 380 190Z" fill="#8aa024"/>
<path d="M300 380 C316.67 365 376.67 340 400 340 C423.33 340 443.33 363.33 440 380 C436.67 396.67 403.33 431.67 380 440 C356.67 448.33 313.33 440 300 430 C286.67 420 283.33 395 300 380Z" fill="#2a3812"/>
</g>
<g filter="url(#b4)">
<path d="M120 150 C122.5 138.33 136.67 135 150 130 C163.33 125 185 120.83 200 120 C215 119.17 229.67 120 240 125 C250.33 130 252 140.83 262 150 C272 159.17 285.33 171.67 300 180 C314.67 188.33 335 196.67 350 200 C365 203.33 378.33 195 390 200 C401.67 205 410 218.33 420 230 C430 241.67 441.67 260 450 270 C458.33 280 471.67 283.67 470 290 C468.33 296.33 451.67 301.67 440 308 C428.33 314.33 415 321 400 328 C385 335 366.67 343 350 350 C333.33 357 313.33 364.17 300 370 C286.67 375.83 281.67 385 270 385 C258.33 385 243.33 374.17 230 370 C216.67 365.83 203.33 365 190 360 C176.67 355 160.83 350 150 340 C139.17 330 128.33 315 125 300 C121.67 285 128.33 266.67 130 250 C131.67 233.33 136.67 216.67 135 200 C133.33 183.33 117.5 161.67 120 150Z" fill="#34d23c"/>
</g>
<g filter="url(#b8)">
<ellipse cx="270" cy="260" rx="90" ry="60" fill="#2cae58" opacity="0.8" transform="rotate(15 270 260)"/>
<ellipse cx="240" cy="282" rx="30" ry="28" fill="#52d048" opacity="0.9"/>
</g>
<g filter="url(#b3)">
<ellipse cx="265" cy="135" rx="30" ry="18" fill="#142010" opacity="0.9" transform="rotate(25 265 135)"/>
<ellipse cx="340" cy="190" rx="40" ry="12" fill="#1a2a10" opacity="0.8" transform="rotate(25 340 190)"/>
<ellipse cx="240" cy="282" rx="9" ry="9" fill="#2c9a44" opacity="0.9"/>
<ellipse cx="130" cy="350" rx="22" ry="12" fill="#2a2c10" opacity="0.9" transform="rotate(-20 130 350)"/>
<ellipse cx="265" cy="385" rx="8" ry="16" fill="#2a2410" opacity="0.9"/>
<ellipse cx="190" cy="375" rx="16" ry="8" fill="#3a3010" opacity="0.8" transform="rotate(-20 190 375)"/>
</g>
</g></g>

<rect x="0.5" y="0.5" width="92" height="92" fill="none" stroke="#0a0a0a"/>
</svg>
<svg x="1496" y="17" width="93" height="93"><rect width="100%" height="100%" fill="#121910"/>
<g filter="url(#fxA)">
<g transform="scale(0.20582) translate(-28.57 -28.57)">
<g filter="url(#b3)">
<path d="M60 240 C64.67 237.33 89.33 249.33 100 250 C110.67 250.67 130.4 247.67 140 245 C149.6 242.33 166 229.33 172 230 C178 230.67 179.93 243.33 185 250 C190.07 256.67 201.33 273.33 210 280 C218.67 286.67 239.33 297.33 250 300 C260.67 302.67 279.33 302.67 290 300 C300.67 297.33 319.33 288 330 280 C340.67 272 360.67 250.67 370 240 C379.33 229.33 392.67 212 400 200 C407.33 188 419.67 163.33 425 150 C430.33 136.67 436.67 113.33 440 100 C443.33 86.67 447.33 62.67 450 50 C452.67 37.33 454.4 11 460 5 C465.6 -1 488.67 -2.33 492 5 C495.33 12.33 487.27 44.67 485 60 C482.73 75.33 478.33 104 475 120 C471.67 136 464 165.33 460 180 C456 194.67 447.67 216.67 445 230 C442.33 243.33 439.33 268 440 280 C440.67 292 444.67 309.33 450 320 C455.33 330.67 473.07 352 480 360 C486.93 368 503.33 374.67 502 380 C500.67 385.33 478.27 394.67 470 400 C461.73 405.33 449.33 414.67 440 420 C430.67 425.33 412 436 400 440 C388 444 363.33 447.33 350 450 C336.67 452.67 310.67 457.33 300 460 C289.33 462.67 279.33 471.33 270 470 C260.67 468.67 242 452.67 230 450 C218 447.33 193.33 448.67 180 450 C166.67 451.33 143.33 456 130 460 C116.67 464 92.67 475.73 80 480 C67.33 484.27 37.67 496 35 492 C32.33 488 55.33 459.6 60 450 C64.67 440.4 74.27 426.67 70 420 C65.73 413.33 29.33 404 28 400 C26.67 396 54.4 394 60 390 C65.6 386 74.27 376.4 70 370 C65.73 363.6 28 346 28 342 C28 338 64.4 345.6 70 340 C75.6 334.4 70.67 309.33 70 300 C69.33 290.67 66.33 278 65 270 C63.67 262 55.33 242.67 60 240Z" fill="#d09a22"/>
</g>
<g filter="url(#b6)">
<path d="M80 260 C89.17 247 123.33 261.17 140 262 C156.67 262.83 166.67 258.67 180 265 C193.33 271.33 205 291.17 220 300 C235 308.83 253.33 318 270 318 C286.67 318 303.33 309.67 320 300 C336.67 290.33 355 275 370 260 C385 245 399.17 228.33 410 210 C420.83 191.67 428.33 170 435 150 C441.67 130 445.5 111.67 450 90 C454.5 68.33 456.67 31.67 462 20 C467.33 8.33 480.67 3.33 482 20 C483.33 36.67 475.33 90 470 120 C464.67 150 456.33 175 450 200 C443.67 225 433.67 248.33 432 270 C430.33 291.67 437 313.33 440 330 C443 346.67 456.67 356.67 450 370 C443.33 383.33 420 400 400 410 C380 420 353.33 425 330 430 C306.67 435 285 440 260 440 C235 440 203.33 430.83 180 430 C156.67 429.17 135.83 440 120 435 C104.17 430 90.83 415.83 85 400 C79.17 384.17 85.83 363.33 85 340 C84.17 316.67 70.83 273 80 260Z" fill="#b4c830"/>
<path d="M100 270 C103.33 260 156.67 272.5 180 280 C203.33 287.5 215 311.67 240 315 C265 318.33 303.33 314.17 330 300 C356.67 285.83 381.67 258.33 400 230 C418.33 201.67 429.67 165 440 130 C450.33 95 455 38.33 462 20 C469 1.67 482 0 482 20 C482 40 470.67 100 462 140 C453.33 180 443.67 228.33 430 260 C416.33 291.67 405 311.67 380 330 C355 348.33 316.67 368.33 280 370 C243.33 371.67 190 356.67 160 340 C130 323.33 96.67 280 100 270Z" fill="#7ac82e" opacity="0.85"/>
</g>
<g filter="url(#b8)">
<ellipse cx="330" cy="340" rx="70" ry="35" fill="#5cb030" opacity="0.6" transform="rotate(-20 330 340)"/>
</g>
</g></g>

<rect x="0.5" y="0.5" width="92" height="92" fill="none" stroke="#0a0a0a"/>
</svg>
<svg x="1592" y="17" width="93" height="93"><rect width="100%" height="100%" fill="#19190f"/>
<g filter="url(#fxA)">
<g transform="scale(0.19057) translate(-10.49 -10.49)">
<g filter="url(#b8)">
<path d="M15 250 C25.83 236.67 57.5 281.67 80 300 C102.5 318.33 125 343.33 150 360 C175 376.67 211.67 386.67 230 400 C248.33 413.33 265 428.33 260 440 C255 451.67 226.67 470 200 470 C173.33 470 130.83 455 100 440 C69.17 425 29.17 411.67 15 380 C0.83 348.33 4.17 263.33 15 250Z" fill="#3e5218"/>
<path d="M350 350 C356.67 335 395.33 338.33 420 330 C444.67 321.67 485 285 498 300 C511 315 507.67 396.67 498 420 C488.33 443.33 459.67 440 440 440 C420.33 440 395 435 380 420 C365 405 343.33 365 350 350Z" fill="#2c3210"/>
<path d="M60 30 C73.33 37.5 151.67 43.33 200 60 C248.33 76.67 308.33 106.67 350 130 C391.67 153.33 425.33 178.33 450 200 C474.67 221.67 490 260 498 260 C506 260 514.33 223.33 498 200 C481.67 176.67 441.33 145 400 120 C358.67 95 296.67 67.5 250 50 C203.33 32.5 151.67 18.33 120 15 C88.33 11.67 46.67 22.5 60 30Z" fill="#4a2a10" opacity="0.7"/>
</g>
<g filter="url(#b4)">
<path d="M-8.5 182 C-3.92 163.67 8.92 133.42 19 116 C29.08 98.58 37.33 85.75 52 77.5 C66.67 69.25 86.83 65.22 107 66.5 C127.17 67.78 151 78.42 173 85.2 C195 91.98 217 99.87 239 107.2 C261 114.53 283 120.03 305 129.2 C327 138.37 349 149.37 371 162.2 C393 175.03 416.83 189.7 437 206.2 C457.17 222.7 478.25 245.07 492 261.2 C505.75 277.33 517.67 289.62 519.5 303 C521.33 316.38 513.08 334.53 503 341.5 C492.92 348.47 473.67 341.13 459 344.8 C444.33 348.47 427.83 356.17 415 363.5 C402.17 370.83 394.83 384.22 382 388.8 C369.17 393.38 354.5 386.97 338 391 C321.5 395.03 301.33 407.5 283 413 C264.67 418.5 246.33 424.37 228 424 C209.67 423.63 191.33 419.97 173 410.8 C154.67 401.63 136.33 385.13 118 369 C99.67 352.87 79.5 332.33 63 314 C46.5 295.67 30.92 273.67 19 259 C7.08 244.33 -3.92 238.83 -8.5 226 C-13.08 213.17 -13.08 200.33 -8.5 182Z" fill="#b4c424"/>
<path d="M15 15 C20.83 -1.67 40.83 12.5 50 20 C59.17 27.5 70 46.67 70 60 C70 73.33 59.17 90 50 100 C40.83 110 20.83 134.17 15 120 C9.17 105.83 9.17 31.67 15 15Z" fill="#c8a020"/>
</g>
<g filter="url(#b12)">
<ellipse cx="255" cy="243" rx="160" ry="90" fill="#46b43c" opacity="0.95" transform="rotate(22 255 243)"/>
<ellipse cx="250" cy="232" rx="110" ry="58" fill="#2c9a58" opacity="0.95" transform="rotate(22 250 232)"/>
<ellipse cx="280" cy="245" rx="60" ry="30" fill="#2080a0" opacity="0.3" transform="rotate(22 280 245)"/>
</g>
<g filter="url(#b4)">
<ellipse cx="410" cy="350" rx="40" ry="18" fill="#1c2010" opacity="0.9" transform="rotate(-10 410 350)"/>
<ellipse cx="40" cy="80" rx="14" ry="30" fill="#4a4a14" opacity="0.8"/>
</g>
</g></g>

<rect x="0.5" y="0.5" width="92" height="92" fill="none" stroke="#0a0a0a"/>
</svg>
<svg x="1207" y="112" width="93" height="93"><rect width="100%" height="100%" fill="#0c2420"/>
<g filter="url(#fxA)">
<g transform="scale(0.2001) translate(-22.11 -22.11)">
<g filter="url(#b6)">
<path d="M110 15 C133.33 9.17 231.67 7.5 260 15 C288.33 22.5 270 44.17 280 60 C290 75.83 308 95 320 110 C332 125 350.33 139.67 352 150 C353.67 160.33 340.33 172 330 172 C319.67 172 303.33 155.33 290 150 C276.67 144.67 263.33 145 250 140 C236.67 135 225 128.33 210 120 C195 111.67 175 101.67 160 90 C145 78.33 128.33 62.5 120 50 C111.67 37.5 86.67 20.83 110 15Z" fill="#1f8a8a"/>
<path d="M360 150 C363.33 133.33 373.33 115 380 100 C386.67 85 390 70 400 60 C410 50 422.5 41.67 440 40 C457.5 38.33 494.17 16.67 505 50 C515.83 83.33 510.83 210 505 240 C499.17 270 482.5 230 470 230 C457.5 230 443.33 239.17 430 240 C416.67 240.83 401.67 241.67 390 235 C378.33 228.33 365 214.17 360 200 C355 185.83 356.67 166.67 360 150Z" fill="#2c9ea0"/>
<path d="M270 250 C280 238.33 288.33 234.17 300 230 C311.67 225.83 328.33 221.67 340 225 C351.67 228.33 361.67 237.5 370 250 C378.33 262.5 388.33 283.33 390 300 C391.67 316.67 386.67 335 380 350 C373.33 365 363.33 378.33 350 390 C336.67 401.67 315 413.33 300 420 C285 426.67 276.67 426.67 260 430 C243.33 433.33 218.33 441.67 200 440 C181.67 438.33 153.33 430 150 420 C146.67 410 178.33 391.67 180 380 C181.67 368.33 156.67 358.33 160 350 C163.33 341.67 186.67 338.33 200 330 C213.33 321.67 228.33 313.33 240 300 C251.67 286.67 260 261.67 270 250Z" fill="#2e9c70"/>
<path d="M15 480 C15 472 69.17 456.67 100 450 C130.83 443.33 166.67 439.17 200 440 C233.33 440.83 291.67 448.33 300 455 C308.33 461.67 283.33 472.83 250 480 C216.67 487.17 139.17 498 100 498 C60.83 498 15 488 15 480Z" fill="#1f8a54"/>
<path d="M15 15 C29.17 -7.5 84.17 4.17 100 15 C115.83 25.83 101.67 60.83 110 80 C118.33 99.17 151.67 116.67 150 130 C148.33 143.33 122.5 156.67 100 160 C77.5 163.33 29.17 174.17 15 150 C0.83 125.83 0.83 37.5 15 15Z" fill="#123834"/>
</g>
<g filter="url(#b3)">
<path d="M10 190 C18.33 175 41.67 180.83 60 180 C78.33 179.17 100 185.83 120 185 C140 184.17 160 178.33 180 175 C200 171.67 224.67 164.17 240 165 C255.33 165.83 267.83 170.83 272 180 C276.17 189.17 270.33 208.33 265 220 C259.67 231.67 250.83 242.5 240 250 C229.17 257.5 215 260.83 200 265 C185 269.17 166.67 274.17 150 275 C133.33 275.83 116.67 270 100 270 C83.33 270 65 275 50 275 C35 275 16.67 284.17 10 270 C3.33 255.83 1.67 205 10 190Z" fill="#44c8e4"/>
<path d="M10 300 C18.33 292.17 41.67 305 60 305 C78.33 305 101.67 301.67 120 300 C138.33 298.33 153.33 298.33 170 295 C186.67 291.67 205.33 287.5 220 280 C234.67 272.5 249.33 252 258 250 C266.67 248 276.67 258 272 268 C267.33 278 245.33 299.67 230 310 C214.67 320.33 198.33 324.17 180 330 C161.67 335.83 140 341.67 120 345 C100 348.33 78.33 348.83 60 350 C41.67 351.17 18.33 360.33 10 352 C1.67 343.67 1.67 307.83 10 300Z" fill="#2e9ee4"/>
</g>
<g filter="url(#b6)">
<ellipse cx="150" cy="220" rx="70" ry="28" fill="#6aa8b8" opacity="0.8" transform="rotate(-5 150 220)"/>
<ellipse cx="440" cy="150" rx="30" ry="60" fill="#48b0a8" opacity="0.6" transform="rotate(15 440 150)"/>
<ellipse cx="445" cy="180" rx="14" ry="24" fill="#5cc09a" opacity="0.8" transform="rotate(20 445 180)"/>
</g>
<g filter="url(#b3)">
<ellipse cx="50" cy="290" rx="28" ry="9" fill="#0c1c1c"/>
<ellipse cx="125" cy="290" rx="28" ry="8" fill="#0c1c1c"/>
<ellipse cx="190" cy="288" rx="22" ry="8" fill="#0c1c1c" transform="rotate(-15 190 288)"/>
<path d="M240 20 C240 27.5 258.33 45 270 60 C281.67 75 297.5 95 310 110 C322.5 125 338 148.33 345 150 C352 151.67 356.17 131.67 352 120 C347.83 108.33 330.33 95 320 80 C309.67 65 298.33 40.83 290 30 C281.67 19.17 278.33 16.67 270 15 C261.67 13.33 240 12.5 240 20Z" fill="#0c1c18"/>
</g>
</g></g>

<rect x="0.5" y="0.5" width="92" height="92" fill="none" stroke="#0a0a0a"/>
</svg>
<svg x="1303" y="112" width="93" height="93"><rect width="100%" height="100%" fill="#101a16"/>
<g filter="url(#fxA)">
<g transform="scale(0.20582) translate(-28.57 -28.57)">
<g filter="url(#b8)">
<path d="M350 15 C375.83 0.83 479.17 -24.17 505 15 C530.83 54.17 515.83 212.5 505 250 C494.17 287.5 457.5 246.67 440 240 C422.5 233.33 411.67 221.67 400 210 C388.33 198.33 378.33 188.33 370 170 C361.67 151.67 353.33 125.83 350 100 C346.67 74.17 324.17 29.17 350 15Z" fill="#2c7a34"/>
<path d="M340 370 C360 340.83 392.5 338.33 420 330 C447.5 321.67 490.83 290.83 505 320 C519.17 349.17 539.17 474.17 505 505 C470.83 535.83 327.5 527.5 300 505 C272.5 482.5 320 399.17 340 370Z" fill="#1a1c12"/>
<path d="M15 120 C29.17 108.33 75.83 125 100 130 C124.17 135 151.67 138.33 160 150 C168.33 161.67 166.67 190 150 200 C133.33 210 82.5 210 60 210 C37.5 210 22.5 215 15 200 C7.5 185 0.83 131.67 15 120Z" fill="#163234"/>
</g>
<g filter="url(#b3)">
<path d="M10 205 C12.67 200.33 46.67 213.67 60 215 C73.33 216.33 98 217 110 215 C122 213 142 207.33 150 200 C158 192.67 166 170.67 170 160 C174 149.33 174.67 126.67 180 120 C185.33 113.33 202 112.67 210 110 C218 107.33 232 106.67 240 100 C248 93.33 263.33 70 270 60 C276.67 50 283.33 31.67 290 25 C296.67 18.33 315.33 5.33 320 10 C324.67 14.67 323 46.67 325 60 C327 73.33 331.67 98 335 110 C338.33 122 346 139.33 350 150 C354 160.67 361 179.33 365 190 C369 200.67 372.67 220.67 380 230 C387.33 239.33 408 253.33 420 260 C432 266.67 458.67 276 470 280 C481.33 284 500.33 285.73 505 290 C509.67 294.27 513.67 307.73 505 312 C496.33 316.27 455.33 318.27 440 322 C424.67 325.73 402 335.6 390 340 C378 344.4 359.33 349.67 350 355 C340.67 360.33 326.67 371.33 320 380 C313.33 388.67 304 409.33 300 420 C296 430.67 294 450.4 290 460 C286 469.6 276.67 489.33 270 492 C263.33 494.67 245.33 486.93 240 480 C234.67 473.07 235.33 449.33 230 440 C224.67 430.67 206.67 411.07 200 410 C193.33 408.93 186.67 430.67 180 432 C173.33 433.33 156.67 424.27 150 420 C143.33 415.73 136.67 401.07 130 400 C123.33 398.93 108 412 100 412 C92 412 76.67 405.6 70 400 C63.33 394.4 53.33 378 50 370 C46.67 362 42.33 346.67 45 340 C47.67 333.33 64 326.67 70 320 C76 313.33 90 296.67 90 290 C90 283.33 76.67 275.33 70 270 C63.33 264.67 48 258.67 40 250 C32 241.33 7.33 209.67 10 205Z" fill="#40c878"/>
</g>
<g filter="url(#b12)">
<path d="M150 200 C146.67 176.67 160 143.33 180 120 C200 96.67 246.67 77.5 270 60 C293.33 42.5 309.17 6.67 320 15 C330.83 23.33 327.5 80.83 335 110 C342.5 139.17 370.83 166.67 365 190 C359.17 213.33 327.5 238.33 300 250 C272.5 261.67 225 268.33 200 260 C175 251.67 153.33 223.33 150 200Z" fill="#44c8b4" opacity="0.95"/>
<ellipse cx="240" cy="240" rx="80" ry="60" fill="#3aaea0" opacity="0.7"/>
<path d="M200 380 C210 358.33 266.67 348.33 300 340 C333.33 331.67 370 336.67 400 330 C430 323.33 480 298.33 480 300 C480 301.67 426.67 326.67 400 340 C373.33 353.33 337.5 360 320 380 C302.5 400 303.33 441.67 295 460 C286.67 478.33 279.17 488.33 270 490 C260.83 491.67 251.67 488.33 240 470 C228.33 451.67 190 401.67 200 380Z" fill="#58c038" opacity="0.9"/>
<path d="M330 370 C341.67 360.83 391.67 335 420 325 C448.33 315 486.67 310 500 310 C513.33 310 511.67 320.83 500 325 C488.33 329.17 455 325.83 430 335 C405 344.17 366.67 374.17 350 380 C333.33 385.83 318.33 379.17 330 370Z" fill="#b05a20" opacity="0.45"/>
</g>
<g filter="url(#b4)">
<ellipse cx="440" cy="120" rx="40" ry="50" fill="#3c9440" opacity="0.7"/>
<ellipse cx="290" cy="265" rx="30" ry="28" fill="#4cd094" opacity="0.7"/>
</g>
</g></g>

<rect x="0.5" y="0.5" width="92" height="92" fill="none" stroke="#0a0a0a"/>
</svg>
<svg x="1400" y="112" width="93" height="93"><rect width="100%" height="100%" fill="#141a16"/>
<g filter="url(#fxA)">
<g transform="scale(0.20963) translate(-32.68 -32.68)">
<g filter="url(#b8)">
<path d="M30 250 C36.67 240 78.33 238.33 100 230 C121.67 221.67 153.33 195 160 200 C166.67 205 156.67 245 140 260 C123.33 275 78.33 291.67 60 290 C41.67 288.33 23.33 260 30 250Z" fill="#1f6a3c"/>
</g>
<g filter="url(#b3)">
<path d="M10 360 C16.67 348 45.33 340.67 60 330 C74.67 319.33 106.67 293.33 120 280 C133.33 266.67 149.33 242 160 230 C170.67 218 189.33 200.67 200 190 C210.67 179.33 229.33 162 240 150 C250.67 138 270.67 113.33 280 100 C289.33 86.67 303.33 62 310 50 C316.67 38 318 15.33 330 10 C342 4.67 390.67 4.67 400 10 C409.33 15.33 401.33 39.33 400 50 C398.67 60.67 390 80.67 390 90 C390 99.33 393.33 114.67 400 120 C406.67 125.33 426 131.6 440 130 C454 128.4 496.33 101.33 505 108 C513.67 114.67 509.67 165.07 505 180 C500.33 194.93 470 213.33 470 220 C470 226.67 500.33 222 505 230 C509.67 238 512.33 269.33 505 280 C497.67 290.67 464 302 450 310 C436 318 413.33 333.33 400 340 C386.67 346.67 363.33 354.67 350 360 C336.67 365.33 313.33 373.33 300 380 C286.67 386.67 263.33 402 250 410 C236.67 418 213.33 432 200 440 C186.67 448 163.33 463.07 150 470 C136.67 476.93 118.67 488 100 492 C81.33 496 22 506.93 10 500 C-2 493.07 4.67 448 10 440 C15.33 432 43.33 442 50 440 C56.67 438 65.33 427.67 60 425 C54.67 422.33 16.67 428.67 10 420 C3.33 411.33 3.33 372 10 360Z" fill="#34c85c"/>
</g>
<g filter="url(#b12)">
<path d="M200 200 C216.67 166.67 258.33 130 280 100 C301.67 70 311.67 33.33 330 20 C348.33 6.67 381.67 5 390 20 C398.33 35 388.33 80 380 110 C371.67 140 356.67 163.33 340 200 C323.33 236.67 306.67 313.33 280 330 C253.33 346.67 193.33 321.67 180 300 C166.67 278.33 183.33 233.33 200 200Z" fill="#2eb088" opacity="0.9"/>
<path d="M15 370 C32.5 340 89.17 303.33 120 300 C150.83 296.67 195 325 200 350 C205 375 180.83 428.33 150 450 C119.17 471.67 37.5 493.33 15 480 C-7.5 466.67 -2.5 400 15 370Z" fill="#38d04c" opacity="0.9"/>
<path d="M150 470 C166.67 456.67 250 415 300 390 C350 365 416.67 336.67 450 320 C483.33 303.33 491.67 293.33 500 290 C508.33 286.67 533.33 280 500 300 C466.67 320 350 381.67 300 410 C250 438.33 225 460 200 470 C175 480 133.33 483.33 150 470Z" fill="#7a8a24" opacity="0.7"/>
</g>
<g filter="url(#b3)">
<ellipse cx="262" cy="265" rx="56" ry="48" fill="#56d672" transform="rotate(-15 262 265)"/>
<ellipse cx="430" cy="112" rx="40" ry="18" fill="#141c12" transform="rotate(-20 430 112)"/>
<ellipse cx="375" cy="350" rx="40" ry="10" fill="#1a2010" transform="rotate(-28 375 350)"/>
<ellipse cx="45" cy="435" rx="30" ry="10" fill="#141c10" transform="rotate(-5 45 435)"/>
<ellipse cx="90" cy="260" rx="40" ry="10" fill="#16281a" opacity="0.8" transform="rotate(-25 90 260)"/>
</g>
<g filter="url(#b1)">
<ellipse cx="246" cy="256" rx="9" ry="9" fill="#2a9a50"/>
<ellipse cx="286" cy="282" rx="8" ry="8" fill="#2a9a50"/>
<ellipse cx="300" cy="240" rx="7" ry="7" fill="#2a9a50"/>
</g>
</g></g>

<rect x="0.5" y="0.5" width="92" height="92" fill="none" stroke="#0a0a0a"/>
</svg>
<svg x="1496" y="112" width="93" height="93"><rect width="100%" height="100%" fill="#11170e"/>
<g filter="url(#fxA)">
<g transform="scale(0.20963) translate(-32.68 -32.68)">
<g filter="url(#b8)">
<path d="M15 15 C45.83 10.83 135.83 12.5 200 15 C264.17 17.5 350.33 22.5 400 30 C449.67 37.5 481.67 48.33 498 60 C514.33 71.67 514.33 96.67 498 100 C481.67 103.33 449.67 88.33 400 80 C350.33 71.67 264.17 56.67 200 50 C135.83 43.33 45.83 45.83 15 40 C-15.83 34.17 -15.83 19.17 15 15Z" fill="#1f7a30"/>
<path d="M15 120 C22.5 103.33 42.5 170 60 200 C77.5 230 101.67 266.67 120 300 C138.33 333.33 148.33 371.67 170 400 C191.67 428.33 253.33 456.67 250 470 C246.67 483.33 181.67 491.67 150 480 C118.33 468.33 82.5 430 60 400 C37.5 370 22.5 346.67 15 300 C7.5 253.33 7.5 136.67 15 120Z" fill="#1a2a10"/>
</g>
<g filter="url(#b4)">
<path d="M10 20 C18.33 10 41.67 35 60 40 C78.33 45 100 49.17 120 50 C140 50.83 160 45 180 45 C200 45 220 45.83 240 50 C260 54.17 281.67 63.33 300 70 C318.33 76.67 333.33 81.67 350 90 C366.67 98.33 383.33 110 400 120 C416.67 130 432.5 141.67 450 150 C467.5 158.33 495.83 156.67 505 170 C514.17 183.33 509.17 208.33 505 230 C500.83 251.67 487.5 280 480 300 C472.5 320 468.33 335 460 350 C451.67 365 440 378.33 430 390 C420 401.67 410 409.67 400 420 C390 430.33 381.67 446.67 370 452 C358.33 457.33 343.33 455.67 330 452 C316.67 448.33 303.33 435.33 290 430 C276.67 424.67 263.33 425 250 420 C236.67 415 221.67 408.33 210 400 C198.33 391.67 190 381.67 180 370 C170 358.33 158.33 345 150 330 C141.67 315 138.33 296.67 130 280 C121.67 263.33 110 246.67 100 230 C90 213.33 80 196.67 70 180 C60 163.33 50 143.33 40 130 C30 116.67 15 118.33 10 100 C5 81.67 1.67 30 10 20Z" fill="#44d244"/>
</g>
<g filter="url(#b12)">
<ellipse cx="285" cy="245" rx="80" ry="105" fill="#2a9a50" opacity="0.85" transform="rotate(-10 285 245)"/>
<ellipse cx="280" cy="250" rx="45" ry="65" fill="#1f7a68" opacity="0.4" transform="rotate(-10 280 250)"/>
<path d="M280 420 C291.67 410.83 368.33 413.33 400 400 C431.67 386.67 470 333.33 470 340 C470 346.67 423.33 420.83 400 440 C376.67 459.17 350 458.33 330 455 C310 451.67 268.33 429.17 280 420Z" fill="#a0b428" opacity="0.9"/>
</g>
<g filter="url(#b4)">
<ellipse cx="392" cy="250" rx="38" ry="48" fill="#78dc54" transform="rotate(10 392 250)"/>
</g>
<g filter="url(#b1)">
<ellipse cx="390" cy="248" rx="12" ry="14" fill="#4a9a38"/>
</g>
</g></g>

<rect x="0.5" y="0.5" width="92" height="92" fill="none" stroke="#0a0a0a"/>
</svg>
<svg x="1592" y="112" width="93" height="93"><rect width="100%" height="100%" fill="#121b10"/>
<g filter="url(#fxA)">
<g transform="scale(0.20582) translate(-28.57 -28.57)">
<g filter="url(#b8)">
<path d="M10 370 C25 349.17 68.33 371.67 100 380 C131.67 388.33 176.67 399.17 200 420 C223.33 440.83 271.67 490.83 240 505 C208.33 519.17 48.33 527.5 10 505 C-28.33 482.5 -5 390.83 10 370Z" fill="#1f7a34"/>
<path d="M360 390 C371.67 355.83 403.33 328.33 420 300 C436.67 271.67 445.83 236.67 460 220 C474.17 203.33 497.5 152.5 505 200 C512.5 247.5 530.83 454.17 505 505 C479.17 555.83 374.17 524.17 350 505 C325.83 485.83 348.33 424.17 360 390Z" fill="#2a3412"/>
</g>
<g filter="url(#b4)">
<path d="M10 20 C12.67 16 45.33 27.33 60 30 C74.67 32.67 104 40 120 40 C136 40 164 30 180 30 C196 30 229.07 40.67 240 40 C250.93 39.33 254 23.67 262 25 C270 26.33 290.93 41.33 300 50 C309.07 58.67 320.67 82 330 90 C339.33 98 360.67 104.67 370 110 C379.33 115.33 393.33 131.33 400 130 C406.67 128.67 417.33 112 420 100 C422.67 88 417.33 52 420 40 C422.67 28 433.07 14 440 10 C446.93 6 468 0.67 472 10 C476 19.33 465.6 64 470 80 C474.4 96 500.33 119.33 505 130 C509.67 140.67 511 150.67 505 160 C499 169.33 468.67 190.67 460 200 C451.33 209.33 445.33 220.67 440 230 C434.67 239.33 425.33 260.67 420 270 C414.67 279.33 405.33 290.67 400 300 C394.67 309.33 386.67 329.33 380 340 C373.33 350.67 355.33 369.33 350 380 C344.67 390.67 340 403.33 340 420 C340 436.67 368.67 493.67 350 505 C331.33 516.33 216 513.67 200 505 C184 496.33 230 454 230 440 C230 426 208 410.67 200 400 C192 389.33 176.67 373.33 170 360 C163.33 346.67 151.33 316 150 300 C148.67 284 160 254.67 160 240 C160 225.33 154 203.33 150 190 C146 176.67 138 153.33 130 140 C122 126.67 102 100.67 90 90 C78 79.33 50.67 69.33 40 60 C29.33 50.67 7.33 24 10 20Z" fill="#3ed048"/>
</g>
<g filter="url(#b6)">
<path d="M300 50 C308.33 40 380.83 31.67 400 40 C419.17 48.33 415 85 415 100 C415 115 410.83 130 400 130 C389.17 130 366.67 113.33 350 100 C333.33 86.67 291.67 60 300 50Z" fill="#141c10"/>
<path d="M200 420 C205 402.5 230 403.33 250 400 C270 396.67 304.17 393.33 320 400 C335.83 406.67 340 422.5 345 440 C350 457.5 370.83 494.17 350 505 C329.17 515.83 245 519.17 220 505 C195 490.83 195 437.5 200 420Z" fill="#7cb030" opacity="0.55"/>
<ellipse cx="340" cy="235" rx="55" ry="50" fill="#66dc64" opacity="0.9"/>
<ellipse cx="160" cy="320" rx="18" ry="30" fill="#9ac030" opacity="0.7" transform="rotate(-20 160 320)"/>
</g>
<g filter="url(#b1)">
<ellipse cx="350" cy="243" rx="12" ry="12" fill="#38a040"/>
<ellipse cx="350" cy="243" rx="6" ry="6" fill="#5cd05c"/>
</g>
</g></g>

<rect x="0.5" y="0.5" width="92" height="92" fill="none" stroke="#0a0a0a"/>
</svg>
<text x="1258.9" y="13.5" font-size="18" text-anchor="middle" fill="#231815">Ctrl</text>
<text x="1356.3" y="13.5" font-size="18" text-anchor="middle" fill="#231815">Bleo</text>
<text x="1451.1" y="13.5" font-size="18" text-anchor="middle" fill="#231815">Sat</text>
<text x="1539.7" y="13.5" font-size="18" text-anchor="middle" fill="#231815">Mit</text>
<text x="1637" y="13.5" font-size="18" text-anchor="middle" fill="#231815">Dox</text>
<text x="1212" y="103.4" font-size="16" fill="#fff">STAR</text>
<text x="1211.6" y="196.6" font-size="16" fill="#fff">STAR-C</text>
<rect x="1661" y="196" width="17.6" height="2.2" fill="#fff"/>
<linearGradient id="cb" x1="0" y1="0" x2="0" y2="1"><stop offset="0" stop-color="#ef1c24"/><stop offset="0.06" stop-color="#f0501e"/><stop offset="0.16" stop-color="#f6d21e"/><stop offset="0.3" stop-color="#8ee021"/><stop offset="0.45" stop-color="#22dd3a"/><stop offset="0.58" stop-color="#1fd8c8"/><stop offset="0.7" stop-color="#1f8fe8"/><stop offset="0.82" stop-color="#2a3ae0"/><stop offset="0.92" stop-color="#8a2ae0"/><stop offset="1" stop-color="#f03cf0"/></linearGradient>
<rect x="1710.2" y="25.3" width="7.2" height="75.6" fill="url(#cb)"/>
<rect x="1710.6" y="128.3" width="7.8" height="74.6" fill="url(#cb)"/>
<text x="1721.2" y="32" font-size="11" fill="#231815">3</text>
<text x="1721.2" y="104.8" font-size="11" fill="#231815">0</text>
<text x="1721.2" y="135.9" font-size="11" fill="#231815">1.5</text>
<text x="1721.2" y="203.4" font-size="11" fill="#231815">0</text>
<text font-size="18" fill="#231815" font-weight="normal" transform="translate(1701.6 88.3) rotate(-90)"><tspan font-style="italic">R</tspan><tspan font-size="9.4" dy="5.6" font-weight="bold">488/405</tspan></text>
<text font-size="18" fill="#231815" font-weight="normal" transform="translate(1701.6 195) rotate(-90)"><tspan font-style="italic">R</tspan><tspan font-size="9.4" dy="5.6" font-weight="bold">488/405</tspan></text>
<polygon points="30.2,350.5 79.9,361.3 71.5,404 50,404" fill="#faebfc"/>
<g transform="translate(0 390) scale(0.22)">
<path d="M140 345 H510 Q522 365 520 392 H128 Q126 365 140 345z" fill="#dcdcf8" stroke="#1e1e1e" stroke-width="4"/>
<path d="M272 285 L145 318 H505 L376 285z" fill="#e4e4fa" stroke="#1e1e1e" stroke-width="4"/>
<rect x="140" y="314" width="370" height="32" rx="5" fill="#f4f4fc" stroke="#1e1e1e" stroke-width="4"/>
<path d="M160 316 V344" stroke="#1e1e1e" stroke-width="4"/>
<path d="M180.6 316 V344" stroke="#1e1e1e" stroke-width="4"/>
<path d="M201.2 316 V344" stroke="#1e1e1e" stroke-width="4"/>
<path d="M221.8 316 V344" stroke="#1e1e1e" stroke-width="4"/>
<path d="M242.4 316 V344" stroke="#1e1e1e" stroke-width="4"/>
<path d="M263 316 V344" stroke="#1e1e1e" stroke-width="4"/>
<path d="M283.6 316 V344" stroke="#1e1e1e" stroke-width="4"/>
<path d="M304.2 316 V344" stroke="#1e1e1e" stroke-width="4"/>
<path d="M324.8 316 V344" stroke="#1e1e1e" stroke-width="4"/>
<path d="M345.4 316 V344" stroke="#1e1e1e" stroke-width="4"/>
<path d="M366 316 V344" stroke="#1e1e1e" stroke-width="4"/>
<path d="M386.6 316 V344" stroke="#1e1e1e" stroke-width="4"/>
<path d="M407.2 316 V344" stroke="#1e1e1e" stroke-width="4"/>
<path d="M427.8 316 V344" stroke="#1e1e1e" stroke-width="4"/>
<path d="M448.4 316 V344" stroke="#1e1e1e" stroke-width="4"/>
<path d="M469 316 V344" stroke="#1e1e1e" stroke-width="4"/>
<path d="M489.6 316 V344" stroke="#1e1e1e" stroke-width="4"/>
<rect x="276" y="228" width="96" height="72" rx="10" fill="#e8e8fa" stroke="#1e1e1e" stroke-width="4"/>
<rect x="268" y="248" width="110" height="24" rx="5" fill="#f4f4fc" stroke="#1e1e1e" stroke-width="4"/>
<path d="M282 250 V270" stroke="#1e1e1e" stroke-width="4"/>
<path d="M296 250 V270" stroke="#1e1e1e" stroke-width="4"/>
<path d="M310 250 V270" stroke="#1e1e1e" stroke-width="4"/>
<path d="M324 250 V270" stroke="#1e1e1e" stroke-width="4"/>
<path d="M338 250 V270" stroke="#1e1e1e" stroke-width="4"/>
<path d="M352 250 V270" stroke="#1e1e1e" stroke-width="4"/>
<path d="M366 250 V270" stroke="#1e1e1e" stroke-width="4"/>
<path d="M40 92 H480 L600 215 V245 H165 L40 120z" fill="#e2e2fa" fill-opacity="0.92"/>
<path d="M40 92 H480 L600 215 H165z M40 92 V120 L165 245 V215 M165 245 H600 V215" fill="none" stroke="#111" stroke-width="4.6" stroke-dasharray="12 5" stroke-linejoin="round"/>
<path d="M208 125 Q208 72 312 70 Q416 72 416 125 V160 Q416 205 312 207 Q208 205 208 160z" fill="#f2cdb0" fill-opacity="0.85" stroke="#2a2a2a" stroke-width="3.6"/>
<ellipse cx="312" cy="125" rx="104" ry="50" fill="#f6dcc8" fill-opacity="0.7" stroke="#2a2a2a" stroke-width="3.4"/>
<ellipse cx="312" cy="150" rx="78" ry="34" fill="none" stroke="#b08868" stroke-width="2.4"/>
<ellipse cx="312" cy="160" rx="46" ry="22" fill="#ecc4a4" stroke="#a07858" stroke-width="2.4"/>
<path d="M260 85 Q300 110 330 145 Q350 170 358 200" fill="none" stroke="#1e1e1e" stroke-width="5.5"/>
<path d="M212 128 H414" stroke="#5a4a3a" stroke-width="2.4"/>
<path d="M282 182 h10 m8 0 h10 m8 0 h10" stroke="#5a4a3a" stroke-width="2.4"/>
<polygon points="232,0 330,0 300,70 262,70" fill="#faebfc" opacity="0.8"/>
</g>
<g transform="translate(0 290) scale(0.22)">
<path d="M175 110 C185.83 98.33 210.83 96.67 230 90 C249.17 83.33 271.67 69.17 290 70 C308.33 70.83 324.17 85.83 340 95 C355.83 104.17 374.17 112.5 385 125 C395.83 137.5 400.83 152.5 405 170 C409.17 187.5 410.83 210 410 230 C409.17 250 406.67 275 400 290 C393.33 305 381.67 310 370 320 C358.33 330 343.33 344.17 330 350 C316.67 355.83 305 358.33 290 355 C275 351.67 256.67 339.17 240 330 C223.33 320.83 206.67 308.33 190 300 C173.33 291.67 150 288.33 140 280 C130 271.67 128.33 261.67 130 250 C131.67 238.33 144.17 225 150 210 C155.83 195 160.83 176.67 165 160 C169.17 143.33 164.17 121.67 175 110Z" fill="#c4e2b4" stroke="#58b868" stroke-width="3"/>
<path d="M272 158 C285.33 158.83 305.67 165.5 315 175 C324.33 184.5 329.67 201.67 328 215 C326.33 228.33 316 247.17 305 255 C294 262.83 275.33 264.5 262 262 C248.67 259.5 232.5 250.33 225 240 C217.5 229.67 215.33 211.67 217 200 C218.67 188.33 225.83 177 235 170 C244.17 163 258.67 157.17 272 158Z" fill="#c8e4b8" stroke="#42b465" stroke-width="3.4"/>
<circle cx="250" cy="140" r="8.5" fill="#fff" stroke="#7fd8f4" stroke-width="6"/>
<circle cx="335" cy="140" r="8.5" fill="#fff" stroke="#7fd8f4" stroke-width="6"/>
<circle cx="205" cy="163" r="8.5" fill="#fff" stroke="#7fd8f4" stroke-width="6"/>
<circle cx="365" cy="205" r="8.5" fill="#fff" stroke="#7fd8f4" stroke-width="6"/>
<circle cx="190" cy="252" r="8.5" fill="#fff" stroke="#7fd8f4" stroke-width="6"/>
<circle cx="348" cy="262" r="8.5" fill="#fff" stroke="#7fd8f4" stroke-width="6"/>
<circle cx="275" cy="295" r="8.5" fill="#fff" stroke="#7fd8f4" stroke-width="6"/>
<g transform="translate(245 85) rotate(75)"><rect x="-29" y="-12.25" width="58" height="10.5" rx="5.25" fill="#1fa08c"/><rect x="-21" y="-8.75" width="42" height="3.5" rx="1.5" fill="#7ad0b8"/><rect x="-29" y="1.75" width="58" height="10.5" rx="5.25" fill="#1fa08c"/><rect x="-21" y="5.25" width="42" height="3.5" rx="1.5" fill="#7ad0b8"/></g>
<g transform="translate(395 160) rotate(-15)"><rect x="-29" y="-12.25" width="58" height="10.5" rx="5.25" fill="#3eb43e"/><rect x="-21" y="-8.75" width="42" height="3.5" rx="1.5" fill="#8cd878"/><rect x="-29" y="1.75" width="58" height="10.5" rx="5.25" fill="#3eb43e"/><rect x="-21" y="5.25" width="42" height="3.5" rx="1.5" fill="#8cd878"/></g>
<g transform="translate(152 188) rotate(15)"><rect x="-29" y="-12.25" width="58" height="10.5" rx="5.25" fill="#3eb43e"/><rect x="-21" y="-8.75" width="42" height="3.5" rx="1.5" fill="#8cd878"/><rect x="-29" y="1.75" width="58" height="10.5" rx="5.25" fill="#3eb43e"/><rect x="-21" y="5.25" width="42" height="3.5" rx="1.5" fill="#8cd878"/></g>
<g transform="translate(345 320) rotate(60)"><rect x="-29" y="-12.25" width="58" height="10.5" rx="5.25" fill="#1fa08c"/><rect x="-21" y="-8.75" width="42" height="3.5" rx="1.5" fill="#7ad0b8"/><rect x="-29" y="1.75" width="58" height="10.5" rx="5.25" fill="#1fa08c"/><rect x="-21" y="5.25" width="42" height="3.5" rx="1.5" fill="#7ad0b8"/></g>
</g>
<g transform="translate(110 290) scale(0.22)">
<path d="M245 150 C255.83 137.5 280.83 133.33 300 125 C319.17 116.67 343.33 99.17 360 100 C376.67 100.83 386.67 121.67 400 130 C413.33 138.33 430.83 140 440 150 C449.17 160 453.33 175 455 190 C456.67 205 449.17 223.33 450 240 C450.83 256.67 461.67 275 460 290 C458.33 305 450 318.33 440 330 C430 341.67 413.33 356.67 400 360 C386.67 363.33 375 355 360 350 C345 345 328.33 336.67 310 330 C291.67 323.33 268.33 316.67 250 310 C231.67 303.33 207.5 300 200 290 C192.5 280 199.17 265 205 250 C210.83 235 228.33 216.67 235 200 C241.67 183.33 234.17 162.5 245 150Z" fill="#bcd6f0" stroke="#b0cce8" stroke-width="3"/>
<path d="M335 188 C346.67 189.17 366.67 196.67 375 205 C383.33 213.33 386.67 227.17 385 238 C383.33 248.83 375 263.33 365 270 C355 276.67 337.17 280 325 278 C312.83 276 298.33 267.33 292 258 C285.67 248.67 284.83 232 287 222 C289.17 212 297 203.67 305 198 C313 192.33 323.33 186.83 335 188Z" fill="#b8d2ee" stroke="#8eb0e4" stroke-width="3.4"/>
<circle cx="348" cy="155" r="8.5" fill="#fff" stroke="#7fd8f4" stroke-width="6"/>
<circle cx="400" cy="162" r="8.5" fill="#fff" stroke="#7fd8f4" stroke-width="6"/>
<circle cx="262" cy="225" r="8.5" fill="#fff" stroke="#7fd8f4" stroke-width="6"/>
<circle cx="415" cy="235" r="8.5" fill="#fff" stroke="#7fd8f4" stroke-width="6"/>
<circle cx="425" cy="285" r="8.5" fill="#fff" stroke="#7fd8f4" stroke-width="6"/>
<circle cx="268" cy="297" r="8.5" fill="#fff" stroke="#7fd8f4" stroke-width="6"/>
<circle cx="350" cy="303" r="8.5" fill="#fff" stroke="#7fd8f4" stroke-width="6"/>
<circle cx="255" cy="70" r="8.5" fill="#fff" stroke="#6ad22c" stroke-width="7"/>
<circle cx="507" cy="172" r="8.5" fill="#fff" stroke="#4a6ae8" stroke-width="7"/>
<circle cx="167" cy="228" r="8.5" fill="#fff" stroke="#4a6ae8" stroke-width="7"/>
<circle cx="460" cy="383" r="8.5" fill="#fff" stroke="#6ad22c" stroke-width="7"/>
<g transform="translate(298 115) rotate(70)"><path d="M-46 0 H46" stroke="#8a8a8a" stroke-width="2.5"/><path d="M-54 0 l16 -9 v18z M54 0 l-16 -9 v18z" fill="#4a4a4a"/><path d="M-34 0 H34" stroke="#fff" stroke-width="8" opacity="0.75"/><rect x="-29" y="-12.25" width="58" height="10.5" rx="5.25" fill="#1fa08c"/><rect x="-21" y="-8.75" width="42" height="3.5" rx="1.5" fill="#7ad0b8"/><rect x="-29" y="1.75" width="58" height="10.5" rx="5.25" fill="#1fa08c"/><rect x="-21" y="5.25" width="42" height="3.5" rx="1.5" fill="#7ad0b8"/></g>
<g transform="translate(208 215) rotate(20)"><path d="M-46 0 H46" stroke="#8a8a8a" stroke-width="2.5"/><path d="M-54 0 l16 -9 v18z M54 0 l-16 -9 v18z" fill="#4a4a4a"/><path d="M-34 0 H34" stroke="#fff" stroke-width="8" opacity="0.75"/><rect x="-29" y="-12.25" width="58" height="10.5" rx="5.25" fill="#3eb43e"/><rect x="-21" y="-8.75" width="42" height="3.5" rx="1.5" fill="#8cd878"/><rect x="-29" y="1.75" width="58" height="10.5" rx="5.25" fill="#3eb43e"/><rect x="-21" y="5.25" width="42" height="3.5" rx="1.5" fill="#8cd878"/></g>
<g transform="translate(458 200) rotate(-10)"><path d="M-46 0 H46" stroke="#8a8a8a" stroke-width="2.5"/><path d="M-54 0 l16 -9 v18z M54 0 l-16 -9 v18z" fill="#4a4a4a"/><path d="M-34 0 H34" stroke="#fff" stroke-width="8" opacity="0.75"/><rect x="-29" y="-12.25" width="58" height="10.5" rx="5.25" fill="#3eb43e"/><rect x="-21" y="-8.75" width="42" height="3.5" rx="1.5" fill="#8cd878"/><rect x="-29" y="1.75" width="58" height="10.5" rx="5.25" fill="#3eb43e"/><rect x="-21" y="5.25" width="42" height="3.5" rx="1.5" fill="#8cd878"/></g>
<g transform="translate(405 345) rotate(65)"><path d="M-46 0 H46" stroke="#8a8a8a" stroke-width="2.5"/><path d="M-54 0 l16 -9 v18z M54 0 l-16 -9 v18z" fill="#4a4a4a"/><path d="M-34 0 H34" stroke="#fff" stroke-width="8" opacity="0.75"/><rect x="-29" y="-12.25" width="58" height="10.5" rx="5.25" fill="#1fa08c"/><rect x="-21" y="-8.75" width="42" height="3.5" rx="1.5" fill="#7ad0b8"/><rect x="-29" y="1.75" width="58" height="10.5" rx="5.25" fill="#1fa08c"/><rect x="-21" y="5.25" width="42" height="3.5" rx="1.5" fill="#7ad0b8"/></g>
</g>
<g transform="translate(110 390) scale(0.22)">
<path d="M250 120 C260 108.33 280.83 98 300 90 C319.17 82 346.67 71.17 365 72 C383.33 72.83 395.83 87.83 410 95 C424.17 102.17 440.33 104.17 450 115 C459.67 125.83 464.67 142.5 468 160 C471.33 177.5 468.33 201.67 470 220 C471.67 238.33 480.5 254.17 478 270 C475.5 285.83 466.33 302.5 455 315 C443.67 327.5 422.5 336.67 410 345 C397.5 353.33 393.33 365 380 365 C366.67 365 348.33 352.5 330 345 C311.67 337.5 289.17 330.83 270 320 C250.83 309.17 225.33 290 215 280 C204.67 270 204.67 270.83 208 260 C211.33 249.17 229.67 231.67 235 215 C240.33 198.33 237.5 175.83 240 160 C242.5 144.17 240 131.67 250 120Z" fill="#f8dcc6" stroke="#f2aa7c" stroke-width="3"/>
<path d="M345 163 C358 163.33 378.83 170.83 388 180 C397.17 189.17 401.33 205.5 400 218 C398.67 230.5 390 246.67 380 255 C370 263.33 353.33 269.17 340 268 C326.67 266.83 308.33 257.67 300 248 C291.67 238.33 288.33 221.67 290 210 C291.67 198.33 300.83 185.83 310 178 C319.17 170.17 332 162.67 345 163Z" fill="#f8dcc8" stroke="#f0a070" stroke-width="3.4"/>
<circle cx="285" cy="158" r="8.5" fill="#fff" stroke="#6ad22c" stroke-width="6"/>
<circle cx="385" cy="125" r="8.5" fill="#fff" stroke="#7fd8f4" stroke-width="6"/>
<circle cx="425" cy="157" r="8.5" fill="#fff" stroke="#4a6ae8" stroke-width="6"/>
<circle cx="430" cy="253" r="8.5" fill="#fff" stroke="#6ad22c" stroke-width="6"/>
<circle cx="275" cy="275" r="8.5" fill="#fff" stroke="#4a6ae8" stroke-width="6"/>
<circle cx="327" cy="307" r="8.5" fill="#fff" stroke="#7fd8f4" stroke-width="6"/>
<circle cx="260" cy="60" r="8.5" fill="#fff" stroke="#7fd8f4" stroke-width="7"/>
<circle cx="157" cy="200" r="8.5" fill="#fff" stroke="#7fd8f4" stroke-width="7"/>
<circle cx="532" cy="172" r="8.5" fill="#fff" stroke="#7fd8f4" stroke-width="7"/>
<circle cx="470" cy="377" r="8.5" fill="#fff" stroke="#7fd8f4" stroke-width="7"/>
<g transform="translate(312 100) rotate(65)"><path d="M-46 0 H46" stroke="#8a8a8a" stroke-width="2.5"/><path d="M-54 0 l16 -9 v18z M54 0 l-16 -9 v18z" fill="#4a4a4a"/><path d="M-34 0 H34" stroke="#fff" stroke-width="8" opacity="0.75"/><rect x="-29" y="-12.25" width="58" height="10.5" rx="5.25" fill="#1fa08c"/><rect x="-21" y="-8.75" width="42" height="3.5" rx="1.5" fill="#7ad0b8"/><rect x="-29" y="1.75" width="58" height="10.5" rx="5.25" fill="#1fa08c"/><rect x="-21" y="5.25" width="42" height="3.5" rx="1.5" fill="#7ad0b8"/></g>
<g transform="translate(222 203) rotate(20)"><path d="M-46 0 H46" stroke="#8a8a8a" stroke-width="2.5"/><path d="M-54 0 l16 -9 v18z M54 0 l-16 -9 v18z" fill="#4a4a4a"/><path d="M-34 0 H34" stroke="#fff" stroke-width="8" opacity="0.75"/><rect x="-29" y="-12.25" width="58" height="10.5" rx="5.25" fill="#3eb43e"/><rect x="-21" y="-8.75" width="42" height="3.5" rx="1.5" fill="#8cd878"/><rect x="-29" y="1.75" width="58" height="10.5" rx="5.25" fill="#3eb43e"/><rect x="-21" y="5.25" width="42" height="3.5" rx="1.5" fill="#8cd878"/></g>
<g transform="translate(475 190) rotate(-10)"><path d="M-46 0 H46" stroke="#8a8a8a" stroke-width="2.5"/><path d="M-54 0 l16 -9 v18z M54 0 l-16 -9 v18z" fill="#4a4a4a"/><path d="M-34 0 H34" stroke="#fff" stroke-width="8" opacity="0.75"/><rect x="-29" y="-12.25" width="58" height="10.5" rx="5.25" fill="#3eb43e"/><rect x="-21" y="-8.75" width="42" height="3.5" rx="1.5" fill="#8cd878"/><rect x="-29" y="1.75" width="58" height="10.5" rx="5.25" fill="#3eb43e"/><rect x="-21" y="5.25" width="42" height="3.5" rx="1.5" fill="#8cd878"/></g>
<g transform="translate(420 335) rotate(65)"><path d="M-46 0 H46" stroke="#8a8a8a" stroke-width="2.5"/><path d="M-54 0 l16 -9 v18z M54 0 l-16 -9 v18z" fill="#4a4a4a"/><path d="M-34 0 H34" stroke="#fff" stroke-width="8" opacity="0.75"/><rect x="-29" y="-12.25" width="58" height="10.5" rx="5.25" fill="#1fa08c"/><rect x="-21" y="-8.75" width="42" height="3.5" rx="1.5" fill="#7ad0b8"/><rect x="-29" y="1.75" width="58" height="10.5" rx="5.25" fill="#1fa08c"/><rect x="-21" y="5.25" width="42" height="3.5" rx="1.5" fill="#7ad0b8"/></g>
</g>
<path d="M92 336.2 H139" stroke="#111" stroke-width="1.2"/><path d="M142.6 336.2 l-5 -2.6 v5.2z" fill="#111"/>
<text x="116.6" y="333.2" font-size="9.5" text-anchor="middle" fill="#231815">Add</text>
<text x="116.6" y="346.4" font-size="9.5" text-anchor="middle" fill="#231815">Lys/Met</text>
<path d="M188.8 375.5 V397" stroke="#111" stroke-width="1.1"/><path d="M188.8 400.2 l-2.4 -4.6 h4.8z" fill="#111"/>
<text x="172.8" y="384" font-size="9.5" text-anchor="middle" fill="#231815">Add</text>
<text x="174" y="392.8" font-size="9.5" text-anchor="middle" fill="#231815">Arg</text>
<rect x="239.6" y="320" width="55.2" height="4" fill="#a8a8a8"/>
<rect x="297.35" y="320" width="55.2" height="4" fill="#a8a8a8"/>
<rect x="355.1" y="320" width="55.2" height="4" fill="#a8a8a8"/>
<rect x="412.85" y="320" width="55.2" height="4" fill="#a8a8a8"/>
<rect x="470.6" y="320" width="55.2" height="4" fill="#a8a8a8"/>
<rect x="528.35" y="320" width="55.2" height="4" fill="#a8a8a8"/>
<rect x="586.1" y="320" width="55.2" height="4" fill="#a8a8a8"/>
<rect x="643.85" y="320" width="55.2" height="4" fill="#a8a8a8"/>
<rect x="701.6" y="320" width="55.2" height="4" fill="#a8a8a8"/>
<rect x="759.35" y="320" width="55.2" height="4" fill="#a8a8a8"/>
<svg x="240" y="265" width="55" height="56"><rect width="100%" height="100%" fill="#1e1e1e"/><use href="#lysA" style="--m:#34d23c;--l:#66e43a;--n:#2cb070;--k:#2a7c44;--d:#1c4a1c;--f:#8a3a18;--t:#34d23c" transform="translate(-0.4 0.3)"/><g transform="translate(-0.4 0.3)"><text x="3.8" y="53" font-size="10.3" fill="#fff">0 min</text></g><rect x="0.5" y="0.5" width="54" height="55" fill="none" stroke="#050505"/></svg>
<svg x="297" y="265" width="56" height="56"><rect width="100%" height="100%" fill="#1e1e1e"/><use href="#lysA" style="--m:#34d23c;--l:#66e43a;--n:#2cb070;--k:#2a7c44;--d:#1c4a1c;--f:#8a3a18;--t:#34d23c" transform="translate(0.35 0.3)"/><g transform="translate(0.35 0.3)"><text x="3.8" y="53" font-size="10.3" fill="#fff">1 min</text></g><rect x="0.5" y="0.5" width="55" height="55" fill="none" stroke="#050505"/></svg>
<svg x="355" y="265" width="55" height="56"><rect width="100%" height="100%" fill="#1e1e1e"/><use href="#lysA" style="--m:#34d23c;--l:#66e43a;--n:#2cb070;--k:#2a7c44;--d:#1c4a1c;--f:#8a3a18;--t:#34d23c" transform="translate(0.1 0.3)"/><g transform="translate(0.1 0.3)"><text x="3.8" y="53" font-size="10.3" fill="#fff">2 min</text></g><rect x="0.5" y="0.5" width="54" height="55" fill="none" stroke="#050505"/></svg>
<svg x="413" y="265" width="55" height="56"><rect width="100%" height="100%" fill="#1e1e1e"/><use href="#lysA" style="--m:#34d23c;--l:#66e43a;--n:#2cb070;--k:#2a7c44;--d:#1c4a1c;--f:#8a3a18;--t:#34d23c" transform="translate(-0.15 0.3)"/><g transform="translate(-0.15 0.3)"><text x="3.8" y="53" font-size="10.3" fill="#fff">3 min</text></g><rect x="0.5" y="0.5" width="54" height="55" fill="none" stroke="#050505"/></svg>
<svg x="471" y="265" width="55" height="56"><rect width="100%" height="100%" fill="#1e1e1e"/><use href="#lysA" style="--m:#32cf4c;--l:#58e04a;--n:#2aa888;--k:#2a7a58;--d:#1c4a24;--f:#7a3a18;--t:#32cf4c" transform="translate(-0.4 0.3)"/><g transform="translate(-0.4 0.3)"><text x="3.8" y="53" font-size="10.3" fill="#fff">4 min</text></g><rect x="0.5" y="0.5" width="54" height="55" fill="none" stroke="#050505"/></svg>
<svg x="528" y="265" width="56" height="56"><rect width="100%" height="100%" fill="#1e1e1e"/><use href="#lysA" style="--m:#34b4cc;--l:#3cd0c4;--n:#3090cc;--k:#2a6a9a;--d:#1a3a44;--f:#2a6a5a;--t:#34b4cc" transform="translate(0.35 0.3)"/><g transform="translate(0.35 0.3)"><text x="3.8" y="53" font-size="10.3" fill="#fff">5 min</text></g><rect x="0.5" y="0.5" width="55" height="55" fill="none" stroke="#050505"/></svg>
<svg x="586" y="265" width="55" height="56"><rect width="100%" height="100%" fill="#1e1e1e"/><use href="#lysA" style="--m:#2a80d8;--l:#2c94dc;--n:#2868cc;--k:#2450a0;--d:#1a2e4a;--f:#2a6a5a;--t:#2a80d8" transform="translate(0.1 0.3)"/><g transform="translate(0.1 0.3)"><text x="3.8" y="53" font-size="10.3" fill="#fff">6 min</text></g><rect x="0.5" y="0.5" width="54" height="55" fill="none" stroke="#050505"/></svg>
<svg x="644" y="265" width="55" height="56"><rect width="100%" height="100%" fill="#1e1e1e"/><use href="#lysA" style="--m:#2670d6;--l:#2a80da;--n:#245cc6;--k:#224898;--d:#182a48;--f:#28705a;--t:#2670d6" transform="translate(-0.15 0.3)"/><g transform="translate(-0.15 0.3)"><text x="3.8" y="53" font-size="10.3" fill="#fff">7 min</text></g><rect x="0.5" y="0.5" width="54" height="55" fill="none" stroke="#050505"/></svg>
<svg x="702" y="265" width="55" height="56"><rect width="100%" height="100%" fill="#1e1e1e"/><use href="#lysA" style="--m:#2670d6;--l:#2a80da;--n:#245cc6;--k:#224898;--d:#182a48;--f:#28705a;--t:#2670d6" transform="translate(-0.4 0.3)"/><g transform="translate(-0.4 0.3)"><text x="3.8" y="53" font-size="10.3" fill="#fff">8 min</text></g><rect x="0.5" y="0.5" width="54" height="55" fill="none" stroke="#050505"/></svg>
<svg x="759" y="265" width="56" height="56"><rect width="100%" height="100%" fill="#1e1e1e"/><use href="#lysA" style="--m:#2670d6;--l:#2a80da;--n:#245cc6;--k:#224898;--d:#182a48;--f:#28705a;--t:#2670d6" transform="translate(0.35 0.3)"/><g transform="translate(0.35 0.3)"><text x="3.8" y="53" font-size="10.3" fill="#fff">9 min</text></g><rect x="0.5" y="0.5" width="55" height="55" fill="none" stroke="#050505"/></svg>
<svg x="240" y="323" width="55" height="56"><rect width="100%" height="100%" fill="#1e1e1e"/><use href="#lysB" style="--m:#2a80d8;--l:#30aad8;--n:#2a6cd0;--k:#224c9c;--d:#182c48;--f:#285a60;--t:#2a80d8" transform="translate(-0.4 0.2)"/><g transform="translate(-0.4 0.2)"><text x="4.2" y="52.7" font-size="10.3" fill="#fff">11 min</text></g><rect x="0.5" y="0.5" width="54" height="55" fill="none" stroke="#050505"/></svg>
<svg x="297" y="323" width="56" height="56"><rect width="100%" height="100%" fill="#1e1e1e"/><use href="#lysB" style="--m:#30a0d8;--l:#38c8d0;--n:#2c84d0;--k:#245c9c;--d:#1a3444;--f:#2a6a5a;--t:#30a0d8" transform="translate(0.35 0.2)"/><g transform="translate(0.35 0.2)"><text x="4.2" y="52.7" font-size="10.3" fill="#fff">13 min</text></g><rect x="0.5" y="0.5" width="55" height="55" fill="none" stroke="#050505"/></svg>
<svg x="355" y="323" width="55" height="56"><rect width="100%" height="100%" fill="#1e1e1e"/><use href="#lysB" style="--m:#b4d030;--l:#90d838;--n:#84c040;--k:#5a7a30;--d:#3a3416;--f:#c03a18;--t:#b4d030" transform="translate(0.1 0.2)"/><g transform="translate(0.1 0.2)"><text x="4.2" y="52.7" font-size="10.3" fill="#fff">14 min</text></g><rect x="0.5" y="0.5" width="54" height="55" fill="none" stroke="#050505"/></svg>
<svg x="413" y="323" width="55" height="56"><rect width="100%" height="100%" fill="#1e1e1e"/><use href="#lysB" style="--m:#f0641e;--l:#f04c1a;--n:#e4b028;--k:#9a5a1c;--d:#5a2a12;--f:#5a8a20;--t:#f0641e" transform="translate(-0.15 0.2)"/><g transform="translate(-0.15 0.2)"><text x="4.2" y="52.7" font-size="10.3" fill="#fff">15 min</text></g><rect x="0.5" y="0.5" width="54" height="55" fill="none" stroke="#050505"/></svg>
<svg x="471" y="323" width="55" height="56"><rect width="100%" height="100%" fill="#1e1e1e"/><use href="#lysB" style="--m:#f0501c;--l:#f0401a;--n:#e8a826;--k:#9a521c;--d:#5a2612;--f:#5a8a20;--t:#f0501c" transform="translate(-0.4 0.2)"/><g transform="translate(-0.4 0.2)"><text x="4.2" y="52.7" font-size="10.3" fill="#fff">16 min</text></g><rect x="0.5" y="0.5" width="54" height="55" fill="none" stroke="#050505"/></svg>
<svg x="528" y="323" width="56" height="56"><rect width="100%" height="100%" fill="#1e1e1e"/><use href="#lysB" style="--m:#f0501c;--l:#f0401a;--n:#e8a826;--k:#9a521c;--d:#5a2612;--f:#5a8a20;--t:#f0501c" transform="translate(0.35 0.2)"/><g transform="translate(0.35 0.2)"><text x="4.2" y="52.7" font-size="10.3" fill="#fff">17 min</text></g><rect x="0.5" y="0.5" width="55" height="55" fill="none" stroke="#050505"/></svg>
<svg x="586" y="323" width="55" height="56"><rect width="100%" height="100%" fill="#1e1e1e"/><use href="#lysB" style="--m:#f0501c;--l:#f0401a;--n:#e8a826;--k:#9a521c;--d:#5a2612;--f:#5a8a20;--t:#f0501c" transform="translate(0.1 0.2)"/><g transform="translate(0.1 0.2)"><text x="4.2" y="52.7" font-size="10.3" fill="#fff">18 min</text></g><rect x="0.5" y="0.5" width="54" height="55" fill="none" stroke="#050505"/></svg>
<svg x="644" y="323" width="55" height="56"><rect width="100%" height="100%" fill="#1e1e1e"/><use href="#lysB" style="--m:#f0501c;--l:#f0401a;--n:#e8a826;--k:#9a521c;--d:#5a2612;--f:#5a8a20;--t:#f0501c" transform="translate(-0.15 0.2)"/><g transform="translate(-0.15 0.2)"><text x="4.2" y="52.7" font-size="10.3" fill="#fff">19 min</text></g><rect x="0.5" y="0.5" width="54" height="55" fill="none" stroke="#050505"/></svg>
<svg x="702" y="323" width="55" height="56"><rect width="100%" height="100%" fill="#1e1e1e"/><use href="#lysB" style="--m:#f0501c;--l:#f0401a;--n:#e8a826;--k:#9a521c;--d:#5a2612;--f:#5a8a20;--t:#f0501c" transform="translate(-0.4 0.2)"/><g transform="translate(-0.4 0.2)"><text x="4.2" y="52.7" font-size="10.3" fill="#fff">21 min</text></g><rect x="0.5" y="0.5" width="54" height="55" fill="none" stroke="#050505"/></svg>
<svg x="759" y="323" width="56" height="56"><rect width="100%" height="100%" fill="#1e1e1e"/><use href="#lysB" style="--m:#f0501c;--l:#f0401a;--n:#e8a826;--k:#9a521c;--d:#5a2612;--f:#5a8a20;--t:#f0501c" transform="translate(0.35 0.2)"/><g transform="translate(0.35 0.2)"><text x="4.2" y="52.7" font-size="10.3" fill="#fff">23 min</text></g><rect x="0.5" y="0.5" width="55" height="55" fill="none" stroke="#050505"/></svg>
<svg x="239" y="385" width="55" height="56"><rect width="100%" height="100%" fill="#1e1e1e"/><use href="#metA" style="--m:#30cc64;--l:#2eae90;--n:#2a9a78;--k:#24705a;--d:#2a5a8a;--f:#8a3a18;--t:#34d058" transform="translate(0.1 0.1)"/><g transform="translate(0.1 0.1)"><text x="2.6" y="54" font-size="10.3" fill="#fff">0 min</text></g><rect x="0.5" y="0.5" width="54" height="55" fill="none" stroke="#050505"/></svg>
<svg x="297" y="385" width="55" height="56"><rect width="100%" height="100%" fill="#1e1e1e"/><use href="#metA" style="--m:#30cc64;--l:#2eae90;--n:#2a9a78;--k:#24705a;--d:#2a5a8a;--f:#8a3a18;--t:#34d058" transform="translate(-0.15 0.1)"/><g transform="translate(-0.15 0.1)"><text x="2.6" y="54" font-size="10.3" fill="#fff">1 min</text></g><rect x="0.5" y="0.5" width="54" height="55" fill="none" stroke="#050505"/></svg>
<svg x="355" y="385" width="55" height="56"><rect width="100%" height="100%" fill="#1e1e1e"/><use href="#metA" style="--m:#30cc64;--l:#2eae90;--n:#2a9a78;--k:#24705a;--d:#2a5a8a;--f:#8a3a18;--t:#34d058" transform="translate(-0.4 0.1)"/><g transform="translate(-0.4 0.1)"><text x="2.6" y="54" font-size="10.3" fill="#fff">2 min</text></g><rect x="0.5" y="0.5" width="54" height="55" fill="none" stroke="#050505"/></svg>
<svg x="412" y="385" width="56" height="56"><rect width="100%" height="100%" fill="#1e1e1e"/><use href="#metA" style="--m:#30cc64;--l:#2eae90;--n:#2a9a78;--k:#24705a;--d:#2a5a8a;--f:#8a3a18;--t:#34d058" transform="translate(0.35 0.1)"/><g transform="translate(0.35 0.1)"><text x="2.6" y="54" font-size="10.3" fill="#fff">3 min</text></g><rect x="0.5" y="0.5" width="55" height="55" fill="none" stroke="#050505"/></svg>
<svg x="470" y="385" width="55" height="56"><rect width="100%" height="100%" fill="#1e1e1e"/><use href="#metA" style="--m:#30c27c;--l:#2ea4a0;--n:#2a90a0;--k:#246a78;--d:#2a5a8a;--f:#6a4a28;--t:#32c870" transform="translate(0.1 0.1)"/><g transform="translate(0.1 0.1)"><text x="2.6" y="54" font-size="10.3" fill="#fff">4 min</text></g><rect x="0.5" y="0.5" width="54" height="55" fill="none" stroke="#050505"/></svg>
<svg x="528" y="385" width="55" height="56"><rect width="100%" height="100%" fill="#1e1e1e"/><use href="#metA" style="--m:#2a7cb8;--l:#2a70c0;--n:#2664b8;--k:#225490;--d:#2848a0;--f:#2a8a5a;--t:#2a9a80" transform="translate(-0.15 0.1)"/><g transform="translate(-0.15 0.1)"><text x="2.6" y="54" font-size="10.3" fill="#fff">5 min</text></g><rect x="0.5" y="0.5" width="54" height="55" fill="none" stroke="#050505"/></svg>
<svg x="586" y="385" width="55" height="56"><rect width="100%" height="100%" fill="#1e1e1e"/><use href="#metA" style="--m:#2450c0;--l:#2248bc;--n:#2042ac;--k:#1c3688;--d:#242890;--f:#2a6a7a;--t:#2450c0" transform="translate(-0.4 0.1)"/><g transform="translate(-0.4 0.1)"><text x="2.6" y="54" font-size="10.3" fill="#fff">6 min</text></g><rect x="0.5" y="0.5" width="54" height="55" fill="none" stroke="#050505"/></svg>
<svg x="643" y="385" width="56" height="56"><rect width="100%" height="100%" fill="#1e1e1e"/><use href="#metA" style="--m:#2450c0;--l:#2248bc;--n:#2042ac;--k:#1c3688;--d:#242890;--f:#2a6a7a;--t:#2450c0" transform="translate(0.35 0.1)"/><g transform="translate(0.35 0.1)"><text x="2.6" y="54" font-size="10.3" fill="#fff">7 min</text></g><rect x="0.5" y="0.5" width="55" height="55" fill="none" stroke="#050505"/></svg>
<svg x="701" y="385" width="55" height="56"><rect width="100%" height="100%" fill="#1e1e1e"/><use href="#metA" style="--m:#2450c0;--l:#2248bc;--n:#2042ac;--k:#1c3688;--d:#242890;--f:#2a6a7a;--t:#2450c0" transform="translate(0.1 0.1)"/><g transform="translate(0.1 0.1)"><text x="2.6" y="54" font-size="10.3" fill="#fff">8 min</text></g><rect x="0.5" y="0.5" width="54" height="55" fill="none" stroke="#050505"/></svg>
<svg x="759" y="385" width="55" height="56"><rect width="100%" height="100%" fill="#1e1e1e"/><use href="#metA" style="--m:#2450c0;--l:#2248bc;--n:#2042ac;--k:#1c3688;--d:#242890;--f:#2a6a7a;--t:#2450c0" transform="translate(-0.15 0.1)"/><g transform="translate(-0.15 0.1)"><text x="2.6" y="54" font-size="10.3" fill="#fff">9 min</text></g><rect x="0.5" y="0.5" width="54" height="55" fill="none" stroke="#050505"/></svg>
<svg x="239" y="443" width="55" height="55"><rect width="100%" height="100%" fill="#1e1e1e"/><use href="#metA" style="--m:#2656c4;--l:#244ebc;--n:#2046ae;--k:#1c3888;--d:#262a90;--f:#2a6a7a;--t:#2656c4" transform="translate(0.1 0.2)"/><g transform="translate(0.1 0.2)"><text x="2.6" y="53.4" font-size="10.3" fill="#fff">11 min</text></g><rect x="0.5" y="0.5" width="54" height="54" fill="none" stroke="#050505"/></svg>
<svg x="297" y="443" width="55" height="55"><rect width="100%" height="100%" fill="#1e1e1e"/><use href="#metA" style="--m:#2656c4;--l:#244ebc;--n:#2046ae;--k:#1c3888;--d:#262a90;--f:#2a6a7a;--t:#2656c4" transform="translate(-0.15 0.2)"/><g transform="translate(-0.15 0.2)"><text x="2.6" y="53.4" font-size="10.3" fill="#fff">13 min</text></g><rect x="0.5" y="0.5" width="54" height="54" fill="none" stroke="#050505"/></svg>
<svg x="355" y="443" width="55" height="55"><rect width="100%" height="100%" fill="#1e1e1e"/><use href="#metA" style="--m:#30c070;--l:#2eae90;--n:#2a9a78;--k:#24705a;--d:#2a5a8a;--f:#8a4a18;--t:#34c860" transform="translate(-0.4 0.2)"/><g transform="translate(-0.4 0.2)"><text x="2.6" y="53.4" font-size="10.3" fill="#fff">14 min</text></g><rect x="0.5" y="0.5" width="54" height="54" fill="none" stroke="#050505"/></svg>
<svg x="412" y="443" width="56" height="55"><rect width="100%" height="100%" fill="#1e1e1e"/><use href="#metA" style="--m:#ccc030;--l:#9ac840;--n:#b0a838;--k:#8a5a20;--d:#3a8a30;--f:#f0501c;--t:#f08a20" transform="translate(0.35 0.2)"/><g transform="translate(0.35 0.2)"><text x="2.6" y="53.4" font-size="10.3" fill="#fff">15 min</text></g><rect x="0.5" y="0.5" width="55" height="54" fill="none" stroke="#050505"/></svg>
<svg x="470" y="443" width="55" height="55"><rect width="100%" height="100%" fill="#1e1e1e"/><use href="#metA" style="--m:#f06a1e;--l:#e4a42c;--n:#e08a26;--k:#a04418;--d:#3a9a30;--f:#f03a18;--t:#f0481a" transform="translate(0.1 0.2)"/><g transform="translate(0.1 0.2)"><text x="2.6" y="53.4" font-size="10.3" fill="#fff">16 min</text></g><rect x="0.5" y="0.5" width="54" height="54" fill="none" stroke="#050505"/></svg>
<svg x="528" y="443" width="55" height="55"><rect width="100%" height="100%" fill="#1e1e1e"/><use href="#metA" style="--m:#f0481a;--l:#ee8424;--n:#dc7a24;--k:#a8381a;--d:#4aa030;--f:#f02a18;--t:#f03418" transform="translate(-0.15 0.2)"/><g transform="translate(-0.15 0.2)"><text x="2.6" y="53.4" font-size="10.3" fill="#fff">17 min</text></g><rect x="0.5" y="0.5" width="54" height="54" fill="none" stroke="#050505"/></svg>
<svg x="586" y="443" width="55" height="55"><rect width="100%" height="100%" fill="#1e1e1e"/><use href="#metA" style="--m:#f0481a;--l:#ee8424;--n:#dc7a24;--k:#a8381a;--d:#4aa030;--f:#f02a18;--t:#f03418" transform="translate(-0.4 0.2)"/><g transform="translate(-0.4 0.2)"><text x="2.6" y="53.4" font-size="10.3" fill="#fff">18 min</text></g><rect x="0.5" y="0.5" width="54" height="54" fill="none" stroke="#050505"/></svg>
<svg x="643" y="443" width="56" height="55"><rect width="100%" height="100%" fill="#1e1e1e"/><use href="#metA" style="--m:#f0481a;--l:#ee8424;--n:#dc7a24;--k:#a8381a;--d:#4aa030;--f:#f02a18;--t:#f03418" transform="translate(0.35 0.2)"/><g transform="translate(0.35 0.2)"><text x="2.6" y="53.4" font-size="10.3" fill="#fff">19 min</text></g><rect x="0.5" y="0.5" width="55" height="54" fill="none" stroke="#050505"/></svg>
<svg x="701" y="443" width="55" height="55"><rect width="100%" height="100%" fill="#1e1e1e"/><use href="#metA" style="--m:#f0481a;--l:#ee8424;--n:#dc7a24;--k:#a8381a;--d:#4aa030;--f:#f02a18;--t:#f03418" transform="translate(0.1 0.2)"/><g transform="translate(0.1 0.2)"><text x="2.6" y="53.4" font-size="10.3" fill="#fff">21 min</text></g><rect x="0.5" y="0.5" width="54" height="54" fill="none" stroke="#050505"/></svg>
<svg x="759" y="443" width="55" height="55"><rect width="100%" height="100%" fill="#1e1e1e"/><use href="#metA" style="--m:#f0481a;--l:#ee8424;--n:#dc7a24;--k:#a8381a;--d:#4aa030;--f:#f02a18;--t:#f03418" transform="translate(-0.15 0.2)"/><g transform="translate(-0.15 0.2)"><text x="2.6" y="53.4" font-size="10.3" fill="#fff">23 min</text></g><rect x="0.5" y="0.5" width="54" height="54" fill="none" stroke="#050505"/></svg>
<text x="474.9" y="277.4" font-size="11.5" fill="#fff">Add Lys</text>
<text x="359.5" y="335" font-size="11.5" fill="#fff">Add Arg</text>
<text x="474.5" y="397.5" font-size="11.5" fill="#fff">Add Met</text>
<text x="359.5" y="455" font-size="11.5" fill="#fff">Add Arg</text>
<rect x="802.6" y="371.4" width="10.4" height="2.2" fill="#fff"/>
<rect x="802.6" y="492" width="10.4" height="2.2" fill="#fff"/>
<rect x="833.2" y="321.2" width="5.9" height="123.5" fill="url(#cb)"/>
<text x="841.4" y="326" font-size="10" fill="#231815">4</text>
<text x="841.4" y="448" font-size="10" fill="#231815">0.4</text>
<text font-size="14.5" fill="#231815" font-weight="normal" transform="translate(827.3 405) rotate(-90)"><tspan font-style="italic">R</tspan><tspan font-size="9.6" dy="5" font-weight="bold">488/405</tspan></text>
<text x="852.1" y="271" font-size="14.5" fill="#000">I</text>
<g transform="translate(895.2 268.6) scale(0.24) translate(-150 -38)">
<path d="M166 326 C164.67 332.5 163.67 352.67 158 365 C152.33 377.33 141.67 388.83 132 400 C122.33 411.17 108.67 421.67 100 432 C91.33 442.33 83.33 457 80 462" fill="none" stroke="#3a3a3a" stroke-width="13" stroke-linecap="round"/><path d="M166 326 C164.67 332.5 163.67 352.67 158 365 C152.33 377.33 141.67 388.83 132 400 C122.33 411.17 108.67 421.67 100 432 C91.33 442.33 83.33 457 80 462" fill="none" stroke="#dcdcdc" stroke-width="8" stroke-linecap="round"/>
<path d="M150 34 C154.95 34 161.9 45.4 167 52 C172.1 58.6 179.05 69.9 184 78 C188.95 86.1 194.9 98.5 200 106 C205.1 113.5 212.3 122.3 218 128 C223.7 133.7 234.1 138.3 238 144 C241.9 149.7 244.3 159.1 244 166 C243.7 172.9 239.15 184 236 190 C232.85 196 224.35 199.1 223 206 C221.65 212.9 226.1 227 227 236 C227.9 245 228.1 257.9 229 266 C229.9 274.1 231.2 283.4 233 290 C234.8 296.6 236.5 302.5 241 310 C245.5 317.5 258.65 333.55 263 340 C267.35 346.45 270.6 350 270 353 C269.4 356 263.5 361.05 259 360 C254.5 358.95 246.6 351.55 240 346 C233.4 340.45 222.5 327.2 215 323 C207.5 318.8 196.75 316.8 190 318 C183.25 319.2 176 329.05 170 331 C164 332.95 156 332.95 150 331 C144 329.05 136.75 318.75 130 318 C123.25 317.25 111.75 321.8 105 326 C98.25 330.2 90.7 340.6 85 346 C79.3 351.4 71.05 360.95 67 362 C62.95 363.05 57.55 357.05 58 353 C58.45 348.95 65.5 341.75 70 335 C74.5 328.25 84.7 315.05 88 308 C91.3 300.95 91.4 294.3 92 288 C92.6 281.7 91.7 273.8 92 266 C92.3 258.2 93.1 245 94 236 C94.9 227 99.35 212.9 98 206 C96.65 199.1 88.15 196 85 190 C81.85 184 77.3 172.9 77 166 C76.7 159.1 79.1 149.7 83 144 C86.9 138.3 97.45 133.7 103 128 C108.55 122.3 115.05 113.5 120 106 C124.95 98.5 133.9 86.1 136 78 C138.1 69.9 131.9 58.6 134 52 C136.1 45.4 145.05 34 150 34Z" fill="#787878" stroke="#4a4a4a" stroke-width="2.4" stroke-linejoin="round"/>
<path d="M140 62 Q111 56 82 40" stroke="#333" stroke-width="3" fill="none" stroke-linecap="round"/>
<path d="M140 62 Q108 64 76 56" stroke="#333" stroke-width="3" fill="none" stroke-linecap="round"/>
<path d="M140 62 Q112 73 84 74" stroke="#333" stroke-width="3" fill="none" stroke-linecap="round"/>
<path d="M160 62 Q189 56 218 40" stroke="#333" stroke-width="3" fill="none" stroke-linecap="round"/>
<path d="M160 62 Q193 64 226 56" stroke="#333" stroke-width="3" fill="none" stroke-linecap="round"/>
<path d="M160 62 Q189 72 218 72" stroke="#333" stroke-width="3" fill="none" stroke-linecap="round"/>
<path d="M142 46 L150 33 L158 46z" fill="#1a1a1a" stroke="#1a1a1a" stroke-width="2.4" stroke-linejoin="round"/>
<circle cx="135" cy="100" r="7.4" fill="#111"/><circle cx="166" cy="100" r="7.4" fill="#111"/>
<path d="M94 126 Q74 152 90 178 Q110 198 132 176 Q142 160 132 138 M108 140 Q98 158 110 172" fill="none" stroke="#3a3a3a" stroke-width="4" stroke-linecap="round"/>
<path d="M226 126 Q246 152 230 178 Q210 198 188 176 Q178 160 188 138 M212 140 Q222 158 210 172" fill="none" stroke="#3a3a3a" stroke-width="4" stroke-linecap="round"/>
</g>
<g transform="translate(975.2 252.7) scale(0.24) translate(-150 -38)">
<path d="M166 326 C165 331.67 164.33 349.33 160 360 C155.67 370.67 148.67 380.83 140 390 C131.33 399.17 118.33 405.67 108 415 C97.67 424.33 83 440.83 78 446" fill="none" stroke="#3a3a3a" stroke-width="13" stroke-linecap="round"/><path d="M166 326 C165 331.67 164.33 349.33 160 360 C155.67 370.67 148.67 380.83 140 390 C131.33 399.17 118.33 405.67 108 415 C97.67 424.33 83 440.83 78 446" fill="none" stroke="#dcdcdc" stroke-width="8" stroke-linecap="round"/>
<path d="M150 34 C154.95 34 161.9 45.4 167 52 C172.1 58.6 179.05 69.9 184 78 C188.95 86.1 194.9 98.5 200 106 C205.1 113.5 212.3 122.3 218 128 C223.7 133.7 234.1 138.3 238 144 C241.9 149.7 244.3 159.1 244 166 C243.7 172.9 239.15 184 236 190 C232.85 196 224.35 199.1 223 206 C221.65 212.9 226.1 227 227 236 C227.9 245 228.1 257.9 229 266 C229.9 274.1 231.2 283.4 233 290 C234.8 296.6 236.5 302.5 241 310 C245.5 317.5 258.65 333.55 263 340 C267.35 346.45 270.6 350 270 353 C269.4 356 263.5 361.05 259 360 C254.5 358.95 246.6 351.55 240 346 C233.4 340.45 222.5 327.2 215 323 C207.5 318.8 196.75 316.8 190 318 C183.25 319.2 176 329.05 170 331 C164 332.95 156 332.95 150 331 C144 329.05 136.75 318.75 130 318 C123.25 317.25 111.75 321.8 105 326 C98.25 330.2 90.7 340.6 85 346 C79.3 351.4 71.05 360.95 67 362 C62.95 363.05 57.55 357.05 58 353 C58.45 348.95 65.5 341.75 70 335 C74.5 328.25 84.7 315.05 88 308 C91.3 300.95 91.4 294.3 92 288 C92.6 281.7 91.7 273.8 92 266 C92.3 258.2 93.1 245 94 236 C94.9 227 99.35 212.9 98 206 C96.65 199.1 88.15 196 85 190 C81.85 184 77.3 172.9 77 166 C76.7 159.1 79.1 149.7 83 144 C86.9 138.3 97.45 133.7 103 128 C108.55 122.3 115.05 113.5 120 106 C124.95 98.5 133.9 86.1 136 78 C138.1 69.9 131.9 58.6 134 52 C136.1 45.4 145.05 34 150 34Z" fill="#787878" stroke="#4a4a4a" stroke-width="2.4" stroke-linejoin="round"/>
<clipPath id="mc2"><path d="M40 268 Q160 258 290 268 V380 H40z"/></clipPath>
<g clip-path="url(#mc2)"><path d="M150 34 C154.95 34 161.9 45.4 167 52 C172.1 58.6 179.05 69.9 184 78 C188.95 86.1 194.9 98.5 200 106 C205.1 113.5 212.3 122.3 218 128 C223.7 133.7 234.1 138.3 238 144 C241.9 149.7 244.3 159.1 244 166 C243.7 172.9 239.15 184 236 190 C232.85 196 224.35 199.1 223 206 C221.65 212.9 226.1 227 227 236 C227.9 245 228.1 257.9 229 266 C229.9 274.1 231.2 283.4 233 290 C234.8 296.6 236.5 302.5 241 310 C245.5 317.5 258.65 333.55 263 340 C267.35 346.45 270.6 350 270 353 C269.4 356 263.5 361.05 259 360 C254.5 358.95 246.6 351.55 240 346 C233.4 340.45 222.5 327.2 215 323 C207.5 318.8 196.75 316.8 190 318 C183.25 319.2 176 329.05 170 331 C164 332.95 156 332.95 150 331 C144 329.05 136.75 318.75 130 318 C123.25 317.25 111.75 321.8 105 326 C98.25 330.2 90.7 340.6 85 346 C79.3 351.4 71.05 360.95 67 362 C62.95 363.05 57.55 357.05 58 353 C58.45 348.95 65.5 341.75 70 335 C74.5 328.25 84.7 315.05 88 308 C91.3 300.95 91.4 294.3 92 288 C92.6 281.7 91.7 273.8 92 266 C92.3 258.2 93.1 245 94 236 C94.9 227 99.35 212.9 98 206 C96.65 199.1 88.15 196 85 190 C81.85 184 77.3 172.9 77 166 C76.7 159.1 79.1 149.7 83 144 C86.9 138.3 97.45 133.7 103 128 C108.55 122.3 115.05 113.5 120 106 C124.95 98.5 133.9 86.1 136 78 C138.1 69.9 131.9 58.6 134 52 C136.1 45.4 145.05 34 150 34Z" fill="#d8d8d8" stroke="#5a5a5a" stroke-width="2.4" stroke-linejoin="round"/>
<path d="M212 282 Q232 282 238 306 Q222 304 214 296z" fill="#c4ecac"/>
</g>
<path d="M140 62 Q111 56 82 40" stroke="#333" stroke-width="3" fill="none" stroke-linecap="round"/>
<path d="M140 62 Q108 64 76 56" stroke="#333" stroke-width="3" fill="none" stroke-linecap="round"/>
<path d="M140 62 Q112 73 84 74" stroke="#333" stroke-width="3" fill="none" stroke-linecap="round"/>
<path d="M160 62 Q189 56 218 40" stroke="#333" stroke-width="3" fill="none" stroke-linecap="round"/>
<path d="M160 62 Q193 64 226 56" stroke="#333" stroke-width="3" fill="none" stroke-linecap="round"/>
<path d="M160 62 Q189 72 218 72" stroke="#333" stroke-width="3" fill="none" stroke-linecap="round"/>
<path d="M142 46 L150 33 L158 46z" fill="#1a1a1a" stroke="#1a1a1a" stroke-width="2.4" stroke-linejoin="round"/>
<circle cx="135" cy="100" r="7.4" fill="#111"/><circle cx="166" cy="100" r="7.4" fill="#111"/>
<path d="M94 126 Q74 152 90 178 Q110 198 132 176 Q142 160 132 138 M108 140 Q98 158 110 172" fill="none" stroke="#3a3a3a" stroke-width="4" stroke-linecap="round"/>
<path d="M226 126 Q246 152 230 178 Q210 198 188 176 Q178 160 188 138 M212 140 Q222 158 210 172" fill="none" stroke="#3a3a3a" stroke-width="4" stroke-linecap="round"/>
</g>
<g transform="translate(1075.3 254.7) scale(0.24) translate(-150 -38)">
<path d="M166 326 C165 331.67 164.33 349.33 160 360 C155.67 370.67 148.67 380.83 140 390 C131.33 399.17 118.33 405.67 108 415 C97.67 424.33 83 440.83 78 446" fill="none" stroke="#3a3a3a" stroke-width="13" stroke-linecap="round"/><path d="M166 326 C165 331.67 164.33 349.33 160 360 C155.67 370.67 148.67 380.83 140 390 C131.33 399.17 118.33 405.67 108 415 C97.67 424.33 83 440.83 78 446" fill="none" stroke="#dcdcdc" stroke-width="8" stroke-linecap="round"/>
<path d="M150 34 C154.95 34 161.9 45.4 167 52 C172.1 58.6 179.05 69.9 184 78 C188.95 86.1 194.9 98.5 200 106 C205.1 113.5 212.3 122.3 218 128 C223.7 133.7 234.1 138.3 238 144 C241.9 149.7 244.3 159.1 244 166 C243.7 172.9 239.15 184 236 190 C232.85 196 224.35 199.1 223 206 C221.65 212.9 226.1 227 227 236 C227.9 245 228.1 257.9 229 266 C229.9 274.1 231.2 283.4 233 290 C234.8 296.6 236.5 302.5 241 310 C245.5 317.5 258.65 333.55 263 340 C267.35 346.45 270.6 350 270 353 C269.4 356 263.5 361.05 259 360 C254.5 358.95 246.6 351.55 240 346 C233.4 340.45 222.5 327.2 215 323 C207.5 318.8 196.75 316.8 190 318 C183.25 319.2 176 329.05 170 331 C164 332.95 156 332.95 150 331 C144 329.05 136.75 318.75 130 318 C123.25 317.25 111.75 321.8 105 326 C98.25 330.2 90.7 340.6 85 346 C79.3 351.4 71.05 360.95 67 362 C62.95 363.05 57.55 357.05 58 353 C58.45 348.95 65.5 341.75 70 335 C74.5 328.25 84.7 315.05 88 308 C91.3 300.95 91.4 294.3 92 288 C92.6 281.7 91.7 273.8 92 266 C92.3 258.2 93.1 245 94 236 C94.9 227 99.35 212.9 98 206 C96.65 199.1 88.15 196 85 190 C81.85 184 77.3 172.9 77 166 C76.7 159.1 79.1 149.7 83 144 C86.9 138.3 97.45 133.7 103 128 C108.55 122.3 115.05 113.5 120 106 C124.95 98.5 133.9 86.1 136 78 C138.1 69.9 131.9 58.6 134 52 C136.1 45.4 145.05 34 150 34Z" fill="#787878" stroke="#4a4a4a" stroke-width="2.4" stroke-linejoin="round"/>
<clipPath id="mc3"><path d="M40 268 Q160 258 290 268 V380 H40z"/></clipPath>
<g clip-path="url(#mc3)"><path d="M150 34 C154.95 34 161.9 45.4 167 52 C172.1 58.6 179.05 69.9 184 78 C188.95 86.1 194.9 98.5 200 106 C205.1 113.5 212.3 122.3 218 128 C223.7 133.7 234.1 138.3 238 144 C241.9 149.7 244.3 159.1 244 166 C243.7 172.9 239.15 184 236 190 C232.85 196 224.35 199.1 223 206 C221.65 212.9 226.1 227 227 236 C227.9 245 228.1 257.9 229 266 C229.9 274.1 231.2 283.4 233 290 C234.8 296.6 236.5 302.5 241 310 C245.5 317.5 258.65 333.55 263 340 C267.35 346.45 270.6 350 270 353 C269.4 356 263.5 361.05 259 360 C254.5 358.95 246.6 351.55 240 346 C233.4 340.45 222.5 327.2 215 323 C207.5 318.8 196.75 316.8 190 318 C183.25 319.2 176 329.05 170 331 C164 332.95 156 332.95 150 331 C144 329.05 136.75 318.75 130 318 C123.25 317.25 111.75 321.8 105 326 C98.25 330.2 90.7 340.6 85 346 C79.3 351.4 71.05 360.95 67 362 C62.95 363.05 57.55 357.05 58 353 C58.45 348.95 65.5 341.75 70 335 C74.5 328.25 84.7 315.05 88 308 C91.3 300.95 91.4 294.3 92 288 C92.6 281.7 91.7 273.8 92 266 C92.3 258.2 93.1 245 94 236 C94.9 227 99.35 212.9 98 206 C96.65 199.1 88.15 196 85 190 C81.85 184 77.3 172.9 77 166 C76.7 159.1 79.1 149.7 83 144 C86.9 138.3 97.45 133.7 103 128 C108.55 122.3 115.05 113.5 120 106 C124.95 98.5 133.9 86.1 136 78 C138.1 69.9 131.9 58.6 134 52 C136.1 45.4 145.05 34 150 34Z" fill="#d8d8d8" stroke="#5a5a5a" stroke-width="2.4" stroke-linejoin="round"/>
<path d="M212 282 Q232 282 238 306 Q222 304 214 296z" fill="#c4ecac"/>
</g>
<path d="M140 62 Q111 56 82 40" stroke="#333" stroke-width="3" fill="none" stroke-linecap="round"/>
<path d="M140 62 Q108 64 76 56" stroke="#333" stroke-width="3" fill="none" stroke-linecap="round"/>
<path d="M140 62 Q112 73 84 74" stroke="#333" stroke-width="3" fill="none" stroke-linecap="round"/>
<path d="M160 62 Q189 56 218 40" stroke="#333" stroke-width="3" fill="none" stroke-linecap="round"/>
<path d="M160 62 Q193 64 226 56" stroke="#333" stroke-width="3" fill="none" stroke-linecap="round"/>
<path d="M160 62 Q189 72 218 72" stroke="#333" stroke-width="3" fill="none" stroke-linecap="round"/>
<path d="M142 46 L150 33 L158 46z" fill="#1a1a1a" stroke="#1a1a1a" stroke-width="2.4" stroke-linejoin="round"/>
<circle cx="135" cy="100" r="7.4" fill="#111"/><circle cx="166" cy="100" r="7.4" fill="#111"/>
<path d="M94 126 Q74 152 90 178 Q110 198 132 176 Q142 160 132 138 M108 140 Q98 158 110 172" fill="none" stroke="#3a3a3a" stroke-width="4" stroke-linecap="round"/>
<path d="M226 126 Q246 152 230 178 Q210 198 188 176 Q178 160 188 138 M212 140 Q222 158 210 172" fill="none" stroke="#3a3a3a" stroke-width="4" stroke-linecap="round"/>
</g>
<g transform="translate(1074.8 396.1) scale(0.24) translate(-150 -38)">
<path d="M166 326 C165 331.67 164.33 349.33 160 360 C155.67 370.67 148.67 380.83 140 390 C131.33 399.17 118.33 405.67 108 415 C97.67 424.33 83 440.83 78 446" fill="none" stroke="#3a3a3a" stroke-width="13" stroke-linecap="round"/><path d="M166 326 C165 331.67 164.33 349.33 160 360 C155.67 370.67 148.67 380.83 140 390 C131.33 399.17 118.33 405.67 108 415 C97.67 424.33 83 440.83 78 446" fill="none" stroke="#dcdcdc" stroke-width="8" stroke-linecap="round"/>
<path d="M150 34 C154.95 34 161.9 45.4 167 52 C172.1 58.6 179.05 69.9 184 78 C188.95 86.1 194.9 98.5 200 106 C205.1 113.5 212.3 122.3 218 128 C223.7 133.7 234.1 138.3 238 144 C241.9 149.7 244.3 159.1 244 166 C243.7 172.9 239.15 184 236 190 C232.85 196 224.35 199.1 223 206 C221.65 212.9 226.1 227 227 236 C227.9 245 228.1 257.9 229 266 C229.9 274.1 231.2 283.4 233 290 C234.8 296.6 236.5 302.5 241 310 C245.5 317.5 258.65 333.55 263 340 C267.35 346.45 270.6 350 270 353 C269.4 356 263.5 361.05 259 360 C254.5 358.95 246.6 351.55 240 346 C233.4 340.45 222.5 327.2 215 323 C207.5 318.8 196.75 316.8 190 318 C183.25 319.2 176 329.05 170 331 C164 332.95 156 332.95 150 331 C144 329.05 136.75 318.75 130 318 C123.25 317.25 111.75 321.8 105 326 C98.25 330.2 90.7 340.6 85 346 C79.3 351.4 71.05 360.95 67 362 C62.95 363.05 57.55 357.05 58 353 C58.45 348.95 65.5 341.75 70 335 C74.5 328.25 84.7 315.05 88 308 C91.3 300.95 91.4 294.3 92 288 C92.6 281.7 91.7 273.8 92 266 C92.3 258.2 93.1 245 94 236 C94.9 227 99.35 212.9 98 206 C96.65 199.1 88.15 196 85 190 C81.85 184 77.3 172.9 77 166 C76.7 159.1 79.1 149.7 83 144 C86.9 138.3 97.45 133.7 103 128 C108.55 122.3 115.05 113.5 120 106 C124.95 98.5 133.9 86.1 136 78 C138.1 69.9 131.9 58.6 134 52 C136.1 45.4 145.05 34 150 34Z" fill="#787878" stroke="#4a4a4a" stroke-width="2.4" stroke-linejoin="round"/>
<clipPath id="mc4"><path d="M40 268 Q160 258 290 268 V380 H40z"/></clipPath>
<g clip-path="url(#mc4)"><path d="M150 34 C154.95 34 161.9 45.4 167 52 C172.1 58.6 179.05 69.9 184 78 C188.95 86.1 194.9 98.5 200 106 C205.1 113.5 212.3 122.3 218 128 C223.7 133.7 234.1 138.3 238 144 C241.9 149.7 244.3 159.1 244 166 C243.7 172.9 239.15 184 236 190 C232.85 196 224.35 199.1 223 206 C221.65 212.9 226.1 227 227 236 C227.9 245 228.1 257.9 229 266 C229.9 274.1 231.2 283.4 233 290 C234.8 296.6 236.5 302.5 241 310 C245.5 317.5 258.65 333.55 263 340 C267.35 346.45 270.6 350 270 353 C269.4 356 263.5 361.05 259 360 C254.5 358.95 246.6 351.55 240 346 C233.4 340.45 222.5 327.2 215 323 C207.5 318.8 196.75 316.8 190 318 C183.25 319.2 176 329.05 170 331 C164 332.95 156 332.95 150 331 C144 329.05 136.75 318.75 130 318 C123.25 317.25 111.75 321.8 105 326 C98.25 330.2 90.7 340.6 85 346 C79.3 351.4 71.05 360.95 67 362 C62.95 363.05 57.55 357.05 58 353 C58.45 348.95 65.5 341.75 70 335 C74.5 328.25 84.7 315.05 88 308 C91.3 300.95 91.4 294.3 92 288 C92.6 281.7 91.7 273.8 92 266 C92.3 258.2 93.1 245 94 236 C94.9 227 99.35 212.9 98 206 C96.65 199.1 88.15 196 85 190 C81.85 184 77.3 172.9 77 166 C76.7 159.1 79.1 149.7 83 144 C86.9 138.3 97.45 133.7 103 128 C108.55 122.3 115.05 113.5 120 106 C124.95 98.5 133.9 86.1 136 78 C138.1 69.9 131.9 58.6 134 52 C136.1 45.4 145.05 34 150 34Z" fill="#d8d8d8" stroke="#5a5a5a" stroke-width="2.4" stroke-linejoin="round"/>
<path d="M212 282 Q232 282 238 306 Q222 304 214 296z" fill="#c4ecac"/>
</g>
<path d="M140 62 Q111 56 82 40" stroke="#333" stroke-width="3" fill="none" stroke-linecap="round"/>
<path d="M140 62 Q108 64 76 56" stroke="#333" stroke-width="3" fill="none" stroke-linecap="round"/>
<path d="M140 62 Q112 73 84 74" stroke="#333" stroke-width="3" fill="none" stroke-linecap="round"/>
<path d="M160 62 Q189 56 218 40" stroke="#333" stroke-width="3" fill="none" stroke-linecap="round"/>
<path d="M160 62 Q193 64 226 56" stroke="#333" stroke-width="3" fill="none" stroke-linecap="round"/>
<path d="M160 62 Q189 72 218 72" stroke="#333" stroke-width="3" fill="none" stroke-linecap="round"/>
<path d="M142 46 L150 33 L158 46z" fill="#1a1a1a" stroke="#1a1a1a" stroke-width="2.4" stroke-linejoin="round"/>
<circle cx="135" cy="100" r="7.4" fill="#111"/><circle cx="166" cy="100" r="7.4" fill="#111"/>
<path d="M94 126 Q74 152 90 178 Q110 198 132 176 Q142 160 132 138 M108 140 Q98 158 110 172" fill="none" stroke="#3a3a3a" stroke-width="4" stroke-linecap="round"/>
<path d="M226 126 Q246 152 230 178 Q210 198 188 176 Q178 160 188 138 M212 140 Q222 158 210 172" fill="none" stroke="#3a3a3a" stroke-width="4" stroke-linecap="round"/>
</g>
<g transform="translate(907 350) rotate(17) scale(1.15)"><path d="M0 -19 V-12" stroke="#555" stroke-width="0.8"/><rect x="-2.6" y="-12" width="5.2" height="17" rx="1" fill="#ececec" stroke="#555" stroke-width="0.9"/><rect x="-2.6" y="-5" width="5.2" height="3" fill="#222"/><path d="M-4.6 5 H4.6" stroke="#555" stroke-width="1.6"/><path d="M0 5 V12" stroke="#555" stroke-width="1.8"/><path d="M-3.4 12.4 H3.4" stroke="#555" stroke-width="1.6"/></g>
<g transform="translate(1070 351) rotate(24) scale(1.2)"><path d="M0 -19 V-12" stroke="#555" stroke-width="0.8"/><rect x="-2.6" y="-12" width="5.2" height="17" rx="1" fill="#8ed878" stroke="#555" stroke-width="0.9"/><rect x="-2.6" y="-5" width="5.2" height="3" fill="#222"/><path d="M-4.6 5 H4.6" stroke="#555" stroke-width="1.6"/><path d="M0 5 V12" stroke="#555" stroke-width="1.8"/><path d="M-3.4 12.4 H3.4" stroke="#555" stroke-width="1.6"/></g>
<g transform="translate(1068 486) rotate(24) scale(1.15)"><path d="M0 -19 V-12" stroke="#555" stroke-width="0.8"/><rect x="-2.6" y="-12" width="5.2" height="17" rx="1" fill="#5a9ad8" stroke="#555" stroke-width="0.9"/><rect x="-2.6" y="-5" width="5.2" height="3" fill="#222"/><path d="M-4.6 5 H4.6" stroke="#555" stroke-width="1.6"/><path d="M0 5 V12" stroke="#555" stroke-width="1.8"/><path d="M-3.4 12.4 H3.4" stroke="#555" stroke-width="1.6"/></g>
<path d="M916.6 316.8 L948.4 301.9" stroke="#111" stroke-width="1.7"/><path d="M953 299.6 l-7.2 0.5 l2.8 5.6z" fill="#111"/>
<text x="0" y="0" font-size="10" text-anchor="middle" fill="#231815" transform="translate(932.6 299.6) rotate(-25)">4 Weeks</text>
<path d="M997.4 296.2 H1049.6" stroke="#111" stroke-width="1.7"/><path d="M1054.6 296.2 l-6.4 -3 v6z" fill="#111"/>
<text x="1027.2" y="278.8" font-size="10" text-anchor="middle" fill="#231815">Add</text>
<text x="1025.6" y="290.4" font-size="10" text-anchor="middle" fill="#231815">Lys/Met</text>
<path d="M1078.4 343.6 V383.6" stroke="#111" stroke-width="1.3"/><path d="M1078.4 388 l-2.8 -5.6 h5.6z" fill="#111"/>
<text x="1091.6" y="363.2" font-size="10" text-anchor="middle" fill="#231815">Add</text>
<text x="1091.2" y="374" font-size="10" text-anchor="middle" fill="#231815">Arg</text>
<text x="899.6" y="377.2" font-size="10" text-anchor="middle" fill="#231815">AAV Injection</text>
<text x="962.6" y="373.4" font-size="9" text-anchor="middle" fill="#231815">CCD</text>
<text x="941.2" y="404.2" font-size="9" text-anchor="middle" fill="#231815">Filter wheel</text>
<text x="1017.6" y="435.7" font-size="10" text-anchor="middle" fill="#231815">Imaging</text>
<linearGradient id="beam" x1="0" y1="0" x2="0" y2="1"><stop offset="0" stop-color="#7aa2ec"/><stop offset="0.45" stop-color="#a8c2f2"/><stop offset="1" stop-color="#d4e0fa"/></linearGradient>
<g transform="translate(915 360) scale(0.28)">
<path d="M45 350 H385 L490 462 V490 H155 L45 376z" fill="#f4f4f4" stroke="#8a8a8a" stroke-width="2.2" stroke-linejoin="round"/>
<path d="M45 350 L155 462 H490 M155 462 V490" fill="none" stroke="#8a8a8a" stroke-width="2.2"/>
<ellipse cx="268" cy="402" rx="200" ry="72" fill="#b6c6ee" opacity="0.88"/>
<path d="M396 400 Q430 396 468 408" fill="none" stroke="#3a4256" stroke-width="7" stroke-linecap="round"/><path d="M396 400 Q430 396 468 408" fill="none" stroke="#aab4cc" stroke-width="3.6" stroke-linecap="round"/>
<path d="M150 428 C149.7 423.05 158.2 411.6 163 405 C167.8 398.4 175.55 390.15 182 384 C188.45 377.85 194.3 369.7 206 364 C217.7 358.3 241.4 348.85 260 346 C278.6 343.15 312 343.2 330 345 C348 346.8 368.9 352.45 380 358 C391.1 363.55 399.5 374.2 404 382 C408.5 389.8 411.2 401.6 410 410 C408.8 418.4 408 432.15 396 438 C384 443.85 351.9 447.8 330 449 C308.1 450.2 271 447.2 250 446 C229 444.8 202.75 442.2 190 441 C177.25 439.8 171 439.95 165 438 C159 436.05 150.3 432.95 150 428Z" fill="#7e8cac" stroke="#3a4256" stroke-width="2.4"/>
<clipPath id="lm"><path d="M322 330 Q310 400 326 460 H430 V330z"/></clipPath>
<g clip-path="url(#lm)"><path d="M150 428 C149.7 423.05 158.2 411.6 163 405 C167.8 398.4 175.55 390.15 182 384 C188.45 377.85 194.3 369.7 206 364 C217.7 358.3 241.4 348.85 260 346 C278.6 343.15 312 343.2 330 345 C348 346.8 368.9 352.45 380 358 C391.1 363.55 399.5 374.2 404 382 C408.5 389.8 411.2 401.6 410 410 C408.8 418.4 408 432.15 396 438 C384 443.85 351.9 447.8 330 449 C308.1 450.2 271 447.2 250 446 C229 444.8 202.75 442.2 190 441 C177.25 439.8 171 439.95 165 438 C159 436.05 150.3 432.95 150 428Z" fill="#a9b4d0" stroke="#3a4256" stroke-width="2.4"/></g>
<path d="M322 346 Q311 400 326 448" fill="none" stroke="#3a4256" stroke-width="1.6"/>
<path d="M338 366 L372 358 L400 372" fill="none" stroke="#3a4256" stroke-width="8" stroke-linecap="round" stroke-linejoin="round"/><path d="M338 366 L372 358 L400 372" fill="none" stroke="#8e9aba" stroke-width="4.4" stroke-linecap="round" stroke-linejoin="round"/>
<path d="M352 440 L392 432 L402 456" fill="none" stroke="#3a4256" stroke-width="8" stroke-linecap="round" stroke-linejoin="round"/><path d="M352 440 L392 432 L402 456" fill="none" stroke="#8e9aba" stroke-width="4.4" stroke-linecap="round" stroke-linejoin="round"/>
<path d="M250 440 L210 452 L180 458" fill="none" stroke="#3a4256" stroke-width="8" stroke-linecap="round" stroke-linejoin="round"/><path d="M250 440 L210 452 L180 458" fill="none" stroke="#8e9aba" stroke-width="4.4" stroke-linecap="round" stroke-linejoin="round"/>
<ellipse cx="226" cy="368" rx="24" ry="27" fill="#7e8cac" stroke="#3a4256" stroke-width="2.4"/>
<path d="M214 360 Q232 352 238 376" fill="none" stroke="#3a4256" stroke-width="2"/>
<circle cx="186" cy="400" r="4.4" fill="#111"/><circle cx="152" cy="428" r="5" fill="#111"/>
<path d="M166 422 L105 385" stroke="#2a2a2a" stroke-width="1.5"/>
<path d="M166 422 L95 402" stroke="#2a2a2a" stroke-width="1.5"/>
<path d="M166 422 L130 378" stroke="#2a2a2a" stroke-width="1.5"/>
<path d="M166 422 L205 462" stroke="#2a2a2a" stroke-width="1.5"/>
<path d="M166 422 L182 460" stroke="#2a2a2a" stroke-width="1.5"/>
<path d="M268 42 L290 42 L297 68 L291 92 L292 112 L303 176 L290 196 L281 330 L276 330 L267 196 L254 176 L265 112 L266 92 L260 68z" fill="url(#beam)" opacity="0.95"/>
<ellipse cx="278.5" cy="70" rx="17" ry="4" fill="#6f98e8" opacity="0.7"/><ellipse cx="278.5" cy="178" rx="24" ry="5" fill="#6f98e8" opacity="0.75"/>
<rect x="55" y="88" width="256" height="24" rx="5" fill="#fff" stroke="#8a8a8a" stroke-width="2.4"/>
<rect x="68" y="95.5" width="48" height="9" rx="4" fill="#c4c4c4" stroke="#8a8a8a" stroke-width="1.6"/><rect x="250" y="95.5" width="50" height="9" rx="4" fill="#c4c4c4" stroke="#8a8a8a" stroke-width="1.6"/>
<rect x="130" y="64" width="76" height="8" rx="2" fill="#8a8a8a"/><path d="M162 72 V88 M176 72 V88" stroke="#6a6a6a" stroke-width="2.4"/>
<path d="M266 20 H296 L289 39 H260z" fill="#111"/>
</g>
<svg x="1112.6" y="251.8" width="80.5" height="121.6"><rect width="100%" height="100%" fill="#1c1c1c"/>
<g transform="scale(0.2551) translate(-29.79 -14.9)">
<g filter="url(#b6)"><ellipse cx="175" cy="125" rx="14" ry="6" fill="#1c3a1c" opacity="0.8"/></g>
<g filter="url(#b3)"><ellipse cx="266" cy="388" rx="17" ry="15" fill="#2ed834"/><ellipse cx="250" cy="395" rx="10" ry="8" fill="#2ac030" opacity="0.8"/></g>
<path d="M148 18 C154 17.33 171.07 30.07 180 35 C188.93 39.93 205.67 50.33 215 55 C224.33 59.67 241.33 66 250 70 C258.67 74 274.67 81 280 85 C285.33 89 291.6 96.67 290 100 C288.4 103.33 271.33 106 268 110 C264.67 114 264.73 123.33 265 130 C265.27 136.67 270 150.67 270 160 C270 169.33 265.27 189.33 265 200 C264.73 210.67 267.07 229.33 268 240 C268.93 250.67 272 269.33 272 280 C272 290.67 267.6 310.67 268 320 C268.4 329.33 272.73 342.67 275 350 C277.27 357.33 285.67 368.33 285 375 C284.33 381.67 270 393.33 270 400 C270 406.67 279.67 419 285 425 C290.33 431 303.33 439.67 310 445 C316.67 450.33 333 460.33 335 465 C337 469.67 331 480 325 480 C319 480 298.67 470.33 290 465 C281.33 459.67 266 446.67 260 440 C254 433.33 249 420.33 245 415 C241 409.67 234 399.33 230 400 C226 400.67 219 414 215 420 C211 426 203.33 438.33 200 445 C196.67 451.67 192.67 464.27 190 470 C187.33 475.73 183.33 488 180 488 C176.67 488 168.33 476.4 165 470 C161.67 463.6 157.67 447.33 155 440 C152.33 432.67 148.33 419 145 415 C141.67 411 134 408 130 410 C126 412 119.67 424.67 115 430 C110.33 435.33 101 445.33 95 450 C89 454.67 77.33 461.27 70 465 C62.67 468.73 44.27 478 40 478 C35.73 478 35.33 468.73 38 465 C40.67 461.27 53.73 454.67 60 450 C66.27 445.33 79.67 436.67 85 430 C90.33 423.33 98 408 100 400 C102 392 98.67 378 100 370 C101.33 362 106.67 348 110 340 C113.33 332 122.6 318 125 310 C127.4 302 128.93 288 128 280 C127.07 272 119.07 258 118 250 C116.93 242 120.4 228 120 220 C119.6 212 116.33 198 115 190 C113.67 182 110.93 168 110 160 C109.07 152 107.73 138 108 130 C108.27 122 110.13 108 112 100 C113.87 92 118.93 78 122 70 C125.07 62 131.53 46.93 135 40 C138.47 33.07 142 18.67 148 18Z" fill="none" stroke="#f0d61e" stroke-width="5.4" stroke-dasharray="9 6.5" stroke-linejoin="round"/>
</g></svg>
<svg x="1112.6" y="379.9" width="80.5" height="121.6"><rect width="100%" height="100%" fill="#1c1c1c"/>
<g transform="scale(0.2551) translate(-29.79 -15.29)">
<g filter="url(#b6)"><ellipse cx="180" cy="345" rx="60" ry="22" fill="#1e3a1e" opacity="0.9"/><ellipse cx="170" cy="110" rx="16" ry="7" fill="#1c3a1c" opacity="0.8"/></g>
<g filter="url(#b3)"><ellipse cx="268" cy="388" rx="17" ry="14" fill="#2ed834"/><ellipse cx="250" cy="400" rx="10" ry="8" fill="#2ac030" opacity="0.8"/><ellipse cx="46" cy="468" rx="8" ry="6" fill="#2ab030" opacity="0.9"/></g>
<path d="M158 45 C164.67 42.6 177.4 48.67 185 52 C192.6 55.33 207 64.27 215 70 C223 75.73 238.73 88.33 245 95 C251.27 101.67 258.93 112.67 262 120 C265.07 127.33 267.6 141.33 268 150 C268.4 158.67 265 175.67 265 185 C265 194.33 268 210 268 220 C268 230 264.73 249.33 265 260 C265.27 270.67 268.27 290 270 300 C271.73 310 275.33 327 278 335 C280.67 343 289.73 353.33 290 360 C290.27 366.67 280 378.33 280 385 C280 391.67 290 404 290 410 C290 416 278.67 424.67 280 430 C281.33 435.33 292.67 445.33 300 450 C307.33 454.67 331.67 461 335 465 C338.33 469 331 479.33 325 480 C319 480.67 298 474 290 470 C282 466 269.67 456 265 450 C260.33 444 257.67 430.33 255 425 C252.33 419.67 249 410.67 245 410 C241 409.33 229 415.33 225 420 C221 424.67 217.67 438.33 215 445 C212.33 451.67 207.27 464 205 470 C202.73 476 200.67 490 198 490 C195.33 490 188.73 476.67 185 470 C181.27 463.33 174 447.33 170 440 C166 432.67 159 420.07 155 415 C151 409.93 144 402.67 140 402 C136 401.33 129 406.27 125 410 C121 413.73 115.33 424.67 110 430 C104.67 435.33 92.33 444 85 450 C77.67 456 61 473 55 475 C49 477 39.33 469 40 465 C40.67 461 54 450.33 60 445 C66 439.67 79.67 431 85 425 C90.33 419 98 407.33 100 400 C102 392.67 98.4 378 100 370 C101.6 362 108.67 348 112 340 C115.33 332 122.87 318.67 125 310 C127.13 301.33 128.93 283.67 128 275 C127.07 266.33 118.8 253 118 245 C117.2 237 122.8 223 122 215 C121.2 207 113.33 193 112 185 C110.67 177 110.67 163 112 155 C113.33 147 120.93 133 122 125 C123.07 117 118.27 102.33 120 95 C121.73 87.67 129.93 76.67 135 70 C140.07 63.33 151.33 47.4 158 45Z" fill="none" stroke="#f0d61e" stroke-width="5.4" stroke-dasharray="9 6.5" stroke-linejoin="round"/>
</g></svg>
<svg x="1203" y="252" width="58" height="58"><rect width="100%" height="100%" fill="#1f1f24"/><use href="#mlys" style="--h:#2038d8;--m:#28bcc8;--g1:#48d848;--g2:#48d848;--g3:#50dc48;--a1:#a0e034;--a2:#b0e030;--a3:#90e43c;--c1:#f0b020;--c2:#f0901c;--c3:#c8e030" transform="translate(-0.2 -0.1)"/><g transform="translate(-0.2 -0.1)"><text x="3" y="55.5" font-size="11" fill="#fff">0 min</text></g></svg>
<svg x="1264" y="252" width="58" height="58"><rect width="100%" height="100%" fill="#1f1f24"/><use href="#mlys" style="--h:#2038d8;--m:#28bcc8;--g1:#48d848;--g2:#48d848;--g3:#50dc48;--a1:#98e034;--a2:#a8e030;--a3:#90e43c;--c1:#e8c420;--c2:#f0a41c;--c3:#c0e030" transform="translate(-0.25 -0.1)"/><g transform="translate(-0.25 -0.1)"><text x="3" y="55.5" font-size="11" fill="#fff">4 min</text></g></svg>
<svg x="1325" y="252" width="58" height="58"><rect width="100%" height="100%" fill="#1f1f24"/><use href="#mlys" style="--h:#2038d8;--m:#28bccc;--g1:#40d860;--g2:#40d860;--g3:#50dc48;--a1:#70e040;--a2:#70e040;--a3:#a0e838;--c1:#a0e030;--c2:#90e030;--c3:#d8e030" transform="translate(-0.3 -0.1)"/><g transform="translate(-0.3 -0.1)"><text x="3" y="55.5" font-size="11" fill="#fff">5 min</text></g></svg>
<svg x="1386" y="252" width="58" height="58"><rect width="100%" height="100%" fill="#1f1f24"/><use href="#mlys" style="--h:#2038d8;--m:#28b4dc;--g1:#34d488;--g2:#34d488;--g3:#48dc50;--a1:#50e058;--a2:#50e058;--a3:#80e840;--c1:#68e048;--c2:#60e048;--c3:#c0e030" transform="translate(-0.35 -0.1)"/><g transform="translate(-0.35 -0.1)"><text x="3" y="55.5" font-size="11" fill="#fff">6 min</text></g></svg>
<svg x="1447" y="252" width="58" height="58"><rect width="100%" height="100%" fill="#1f1f24"/><use href="#mlys" style="--h:#2038d8;--m:#28b4dc;--g1:#34d488;--g2:#34d488;--g3:#48dc50;--a1:#50e058;--a2:#50e058;--a3:#80e840;--c1:#68e048;--c2:#60e048;--c3:#c0e030" transform="translate(-0.4 -0.1)"/><g transform="translate(-0.4 -0.1)"><text x="3" y="55.5" font-size="11" fill="#fff">7 min</text></g></svg>
<svg x="1508" y="252" width="58" height="58"><rect width="100%" height="100%" fill="#1f1f24"/><use href="#mlys" style="--h:#2038d8;--m:#28b4dc;--g1:#30d0a8;--g2:#30d0a8;--g3:#40dc60;--a1:#40e070;--a2:#40e070;--a3:#68e848;--c1:#50e060;--c2:#48e068;--c3:#a0e038" transform="translate(-0.45 -0.1)"/><g transform="translate(-0.45 -0.1)"><text x="3" y="55.5" font-size="11" fill="#fff">8 min</text></g></svg>
<svg x="1568" y="252" width="59" height="58"><rect width="100%" height="100%" fill="#1f1f24"/><use href="#mlys" style="--h:#2038d8;--m:#28b4dc;--g1:#30d0a8;--g2:#30d0a8;--g3:#40dc60;--a1:#40e070;--a2:#40e070;--a3:#68e848;--c1:#50e060;--c2:#48e068;--c3:#a0e038" transform="translate(0.5 -0.1)"/><g transform="translate(0.5 -0.1)"><text x="3" y="55.5" font-size="11" fill="#fff">14 min</text></g></svg>
<svg x="1629" y="252" width="59" height="58"><rect width="100%" height="100%" fill="#1f1f24"/><use href="#mlys" style="--h:#2038d8;--m:#28b4dc;--g1:#30d0a8;--g2:#30d0a8;--g3:#40dc60;--a1:#40e070;--a2:#40e070;--a3:#68e848;--c1:#50e060;--c2:#48e068;--c3:#a0e038" transform="translate(0.45 -0.1)"/><g transform="translate(0.45 -0.1)"><text x="3" y="55.5" font-size="11" fill="#fff">20 min</text></g></svg>
<svg x="1203" y="314" width="58" height="58"><rect width="100%" height="100%" fill="#1f1f24"/><use href="#mlys" style="--h:#2038d8;--m:#28b4dc;--g1:#34d488;--g2:#34d488;--g3:#48dc50;--a1:#50e058;--a2:#50e058;--a3:#80e840;--c1:#68e048;--c2:#60e048;--c3:#c0e030" transform="translate(-0.2 -0.2)"/><g transform="translate(-0.2 -0.2)"><text x="3" y="55.5" font-size="11" fill="#fff">25 min</text></g></svg>
<svg x="1264" y="314" width="58" height="58"><rect width="100%" height="100%" fill="#1f1f24"/><use href="#mlys" style="--h:#2038d8;--m:#28acdc;--g1:#30ccb8;--g2:#30ccb8;--g3:#40d870;--a1:#38dc90;--a2:#38dc90;--a3:#58e450;--c1:#40e080;--c2:#40e080;--c3:#80e040" transform="translate(-0.25 -0.2)"/><g transform="translate(-0.25 -0.2)"><text x="3" y="55.5" font-size="11" fill="#fff">30 min</text></g></svg>
<svg x="1325" y="314" width="58" height="58"><rect width="100%" height="100%" fill="#1f1f24"/><use href="#mlys" style="--h:#2038d8;--m:#28acdc;--g1:#30ccb8;--g2:#30ccb8;--g3:#40d870;--a1:#38dc90;--a2:#38dc90;--a3:#58e450;--c1:#40e080;--c2:#40e080;--c3:#80e040" transform="translate(-0.3 -0.2)"/><g transform="translate(-0.3 -0.2)"><text x="3" y="55.5" font-size="11" fill="#fff">38 min</text></g></svg>
<svg x="1386" y="314" width="58" height="58"><rect width="100%" height="100%" fill="#1f1f24"/><use href="#mlys" style="--h:#2450d8;--m:#38d080;--g1:#a8e030;--g2:#80e038;--g3:#b0e430;--a1:#f0b020;--a2:#e0e028;--a3:#f0a020;--c1:#f03018;--c2:#f0c020;--c3:#f02c18" transform="translate(-0.35 -0.2)"/><g transform="translate(-0.35 -0.2)"><text x="3" y="55.5" font-size="11" fill="#fff">40 min</text></g></svg>
<svg x="1447" y="314" width="58" height="58"><rect width="100%" height="100%" fill="#1f1f24"/><use href="#mlys" style="--h:#2450d8;--m:#38d080;--g1:#a0e030;--g2:#78e038;--g3:#a8e430;--a1:#f0bc20;--a2:#d8e028;--a3:#f0ac20;--c1:#f04018;--c2:#e8d020;--c3:#f03818" transform="translate(-0.4 -0.2)"/><g transform="translate(-0.4 -0.2)"><text x="3" y="55.5" font-size="11" fill="#fff">41 min</text></g></svg>
<svg x="1508" y="314" width="58" height="58"><rect width="100%" height="100%" fill="#1f1f24"/><use href="#mlys" style="--h:#2450d8;--m:#38d080;--g1:#a8e030;--g2:#80e038;--g3:#b0e430;--a1:#f0b020;--a2:#e0e028;--a3:#f0a020;--c1:#f03018;--c2:#f0c020;--c3:#f02c18" transform="translate(-0.45 -0.2)"/><g transform="translate(-0.45 -0.2)"><text x="3" y="55.5" font-size="11" fill="#fff">43 min</text></g></svg>
<svg x="1568" y="314" width="59" height="58"><rect width="100%" height="100%" fill="#1f1f24"/><use href="#mlys" style="--h:#2450d8;--m:#38d080;--g1:#a8e030;--g2:#80e038;--g3:#b0e430;--a1:#f0b020;--a2:#e0e028;--a3:#f0a020;--c1:#f03018;--c2:#f0c020;--c3:#f02c18" transform="translate(0.5 -0.2)"/><g transform="translate(0.5 -0.2)"><text x="3" y="55.5" font-size="11" fill="#fff">45 min</text></g></svg>
<svg x="1629" y="314" width="59" height="58"><rect width="100%" height="100%" fill="#1f1f24"/><use href="#mlys" style="--h:#2450d8;--m:#38d080;--g1:#a8e030;--g2:#80e038;--g3:#b0e430;--a1:#f0b020;--a2:#e0e028;--a3:#f0a020;--c1:#f03018;--c2:#f0c020;--c3:#f02c18" transform="translate(0.45 -0.2)"/><g transform="translate(0.45 -0.2)"><text x="3" y="55.5" font-size="11" fill="#fff">49 min</text></g></svg>
<svg x="1203" y="381" width="59" height="59"><rect width="100%" height="100%" fill="#202024"/><use href="#mmet" style="--h:#2038d8;--m:#28bcd4;--g1:#40d868;--g2:#70e040;--a1:#58e050;--a2:#e8d020;--a3:#d0e030;--c1:#f03018;--c2:#60e050" transform="translate(0.2 0.2)"/><g transform="translate(0.2 0.2)"><text x="4.2" y="55.5" font-size="11.3" fill="#fff">0 min</text></g></svg>
<svg x="1264" y="381" width="59" height="59"><rect width="100%" height="100%" fill="#202024"/><use href="#mmet" style="--h:#2038d8;--m:#28bcd4;--g1:#40d870;--g2:#70e040;--a1:#50e058;--a2:#e8d420;--a3:#a0e038;--c1:#f04c18;--c2:#58e058" transform="translate(0.15 0.2)"/><g transform="translate(0.15 0.2)"><text x="4.2" y="55.5" font-size="11.3" fill="#fff">4 min</text></g></svg>
<svg x="1325" y="381" width="59" height="59"><rect width="100%" height="100%" fill="#202024"/><use href="#mmet" style="--h:#2038d8;--m:#28bcd4;--g1:#38d880;--g2:#60e048;--a1:#48e068;--a2:#d0e028;--a3:#70e048;--c1:#f07c20;--c2:#50e060" transform="translate(0.1 0.2)"/><g transform="translate(0.1 0.2)"><text x="4.2" y="55.5" font-size="11.3" fill="#fff">5 min</text></g></svg>
<svg x="1386" y="381" width="59" height="59"><rect width="100%" height="100%" fill="#202024"/><use href="#mmet" style="--h:#2038d8;--m:#28bcd4;--g1:#38d890;--g2:#58e050;--a1:#40e078;--a2:#b0e030;--a3:#60e050;--c1:#f09820;--c2:#48e070" transform="translate(0.05 0.2)"/><g transform="translate(0.05 0.2)"><text x="4.2" y="55.5" font-size="11.3" fill="#fff">6 min</text></g></svg>
<svg x="1447" y="381" width="59" height="59"><rect width="100%" height="100%" fill="#202024"/><use href="#mmet" style="--h:#2038d8;--m:#28bcd4;--g1:#38d8a0;--g2:#50e058;--a1:#40e080;--a2:#a0e030;--a3:#58e058;--c1:#f0a420;--c2:#44e078" transform="translate(0 0.2)"/><g transform="translate(0 0.2)"><text x="4.2" y="55.5" font-size="11.3" fill="#fff">7 min</text></g></svg>
<svg x="1508" y="381" width="58" height="59"><rect width="100%" height="100%" fill="#202024"/><use href="#mmet" style="--h:#2038d8;--m:#28bcd4;--g1:#30d0b0;--g2:#48e060;--a1:#3ce090;--a2:#90e038;--a3:#50e060;--c1:#e8c420;--c2:#40e088" transform="translate(-0.05 0.2)"/><g transform="translate(-0.05 0.2)"><text x="4.2" y="55.5" font-size="11.3" fill="#fff">10 min</text></g></svg>
<svg x="1569" y="381" width="58" height="59"><rect width="100%" height="100%" fill="#202024"/><use href="#mmet" style="--h:#2038d8;--m:#28bcd4;--g1:#30d0a8;--g2:#50e058;--a1:#3ce088;--a2:#b0e030;--a3:#58e058;--c1:#f08420;--c2:#44e080" transform="translate(-0.1 0.2)"/><g transform="translate(-0.1 0.2)"><text x="4.2" y="55.5" font-size="11.3" fill="#fff">13 min</text></g></svg>
<svg x="1630" y="381" width="58" height="59"><rect width="100%" height="100%" fill="#202024"/><use href="#mmet" style="--h:#2038d8;--m:#28bcd4;--g1:#30d0a8;--g2:#50e058;--a1:#3ce088;--a2:#b0e030;--a3:#58e058;--c1:#f08420;--c2:#44e080" transform="translate(-0.15 0.2)"/><g transform="translate(-0.15 0.2)"><text x="4.2" y="55.5" font-size="11.3" fill="#fff">16 min</text></g></svg>
<svg x="1203" y="442" width="59" height="59"><rect width="100%" height="100%" fill="#202024"/><use href="#mmet" style="--h:#2038d8;--m:#28bcd4;--g1:#30d0a8;--g2:#50e058;--a1:#3ce088;--a2:#b0e030;--a3:#58e058;--c1:#f08420;--c2:#44e080" transform="translate(0.2 0.3)"/><g transform="translate(0.2 0.3)"><text x="4.2" y="55.5" font-size="11.3" fill="#fff">19 min</text></g></svg>
<svg x="1264" y="442" width="59" height="59"><rect width="100%" height="100%" fill="#202024"/><use href="#mmet" style="--h:#2038d8;--m:#28bcd4;--g1:#38d890;--g2:#58e050;--a1:#40e078;--a2:#b0e030;--a3:#60e050;--c1:#f09820;--c2:#48e070" transform="translate(0.15 0.3)"/><g transform="translate(0.15 0.3)"><text x="4.2" y="55.5" font-size="11.3" fill="#fff">22 min</text></g></svg>
<svg x="1325" y="442" width="59" height="59"><rect width="100%" height="100%" fill="#202024"/><use href="#mmet" style="--h:#2038d8;--m:#28bcd4;--g1:#38d8a0;--g2:#50e058;--a1:#40e080;--a2:#a0e030;--a3:#58e058;--c1:#f0a420;--c2:#44e078" transform="translate(0.1 0.3)"/><g transform="translate(0.1 0.3)"><text x="4.2" y="55.5" font-size="11.3" fill="#fff">24 min</text></g></svg>
<svg x="1386" y="442" width="59" height="59"><rect width="100%" height="100%" fill="#202024"/><use href="#mmet" style="--h:#2038d8;--m:#28bcd4;--g1:#50dc50;--g2:#90e038;--a1:#a0e438;--a2:#f0d020;--a3:#e0e028;--c1:#f03418;--c2:#f0e028" transform="translate(0.05 0.3)"/><g transform="translate(0.05 0.3)"><text x="4.2" y="55.5" font-size="11.3" fill="#fff">25 min</text></g></svg>
<svg x="1447" y="442" width="59" height="59"><rect width="100%" height="100%" fill="#202024"/><use href="#mmet" style="--h:#2038d8;--m:#28bcd4;--g1:#58dc48;--g2:#a0e038;--a1:#b8e430;--a2:#f0c020;--a3:#e8e028;--c1:#f02818;--c2:#f0d820" transform="translate(0 0.3)"/><g transform="translate(0 0.3)"><text x="4.2" y="55.5" font-size="11.3" fill="#fff">26 min</text></g></svg>
<svg x="1508" y="442" width="58" height="59"><rect width="100%" height="100%" fill="#202024"/><use href="#mmet" style="--h:#2038d8;--m:#28bcd4;--g1:#58dc48;--g2:#a0e038;--a1:#b8e430;--a2:#f0c020;--a3:#e8e028;--c1:#f02818;--c2:#f0d820" transform="translate(-0.05 0.3)"/><g transform="translate(-0.05 0.3)"><text x="4.2" y="55.5" font-size="11.3" fill="#fff">27 min</text></g></svg>
<svg x="1569" y="442" width="58" height="59"><rect width="100%" height="100%" fill="#202024"/><use href="#mmet" style="--h:#2038d8;--m:#28bcd4;--g1:#58dc48;--g2:#a0e038;--a1:#b8e430;--a2:#f0c020;--a3:#e8e028;--c1:#f02818;--c2:#f0d820" transform="translate(-0.1 0.3)"/><g transform="translate(-0.1 0.3)"><text x="4.2" y="55.5" font-size="11.3" fill="#fff">29 min</text></g></svg>
<svg x="1630" y="442" width="58" height="59"><rect width="100%" height="100%" fill="#202024"/><use href="#mmet" style="--h:#2038d8;--m:#28bcd4;--g1:#58dc48;--g2:#a0e038;--a1:#b8e430;--a2:#f0c020;--a3:#e8e028;--c1:#f02818;--c2:#f0d820" transform="translate(-0.15 0.3)"/><g transform="translate(-0.15 0.3)"><text x="4.2" y="55.5" font-size="11.3" fill="#fff">34 min</text></g></svg>
<text x="1329.8" y="264" font-size="12" fill="#fff">Add Lys</text>
<text x="1391.6" y="326.2" font-size="12" fill="#fff">Add Arg</text>
<text x="1331.6" y="393.2" font-size="12" fill="#fff">Add Met</text>
<text x="1393.6" y="454.4" font-size="12" fill="#fff">Add Arg</text>
<rect x="1673.4" y="364.4" width="10.6" height="2.2" fill="#fff"/>
<rect x="1675.6" y="493.6" width="10.4" height="2.2" fill="#fff"/>
<g stroke="#e8141c" stroke-width="1.6" stroke-linecap="round"><path d="M1172.8 339.6 L1203 252.4"/><path d="M1177.4 354.2 L1202.6 310.8"/><path d="M1174 467.6 L1203.4 381.6"/><path d="M1177.8 480.4 L1203 439.6"/></g>
<rect x="1707.6" y="319.8" width="5.9" height="103.2" fill="url(#cb)"/>
<text x="1715.8" y="324.3" font-size="9.6" fill="#231815">2</text>
<text x="1715.8" y="425.8" font-size="9.6" fill="#231815">0</text>
<text font-size="14.5" fill="#231815" font-weight="normal" transform="translate(1700.5 392) rotate(-90)"><tspan font-style="italic">R</tspan><tspan font-size="9.4" dy="5" font-weight="bold">500/430</tspan></text>
</svg>
</body></html>
